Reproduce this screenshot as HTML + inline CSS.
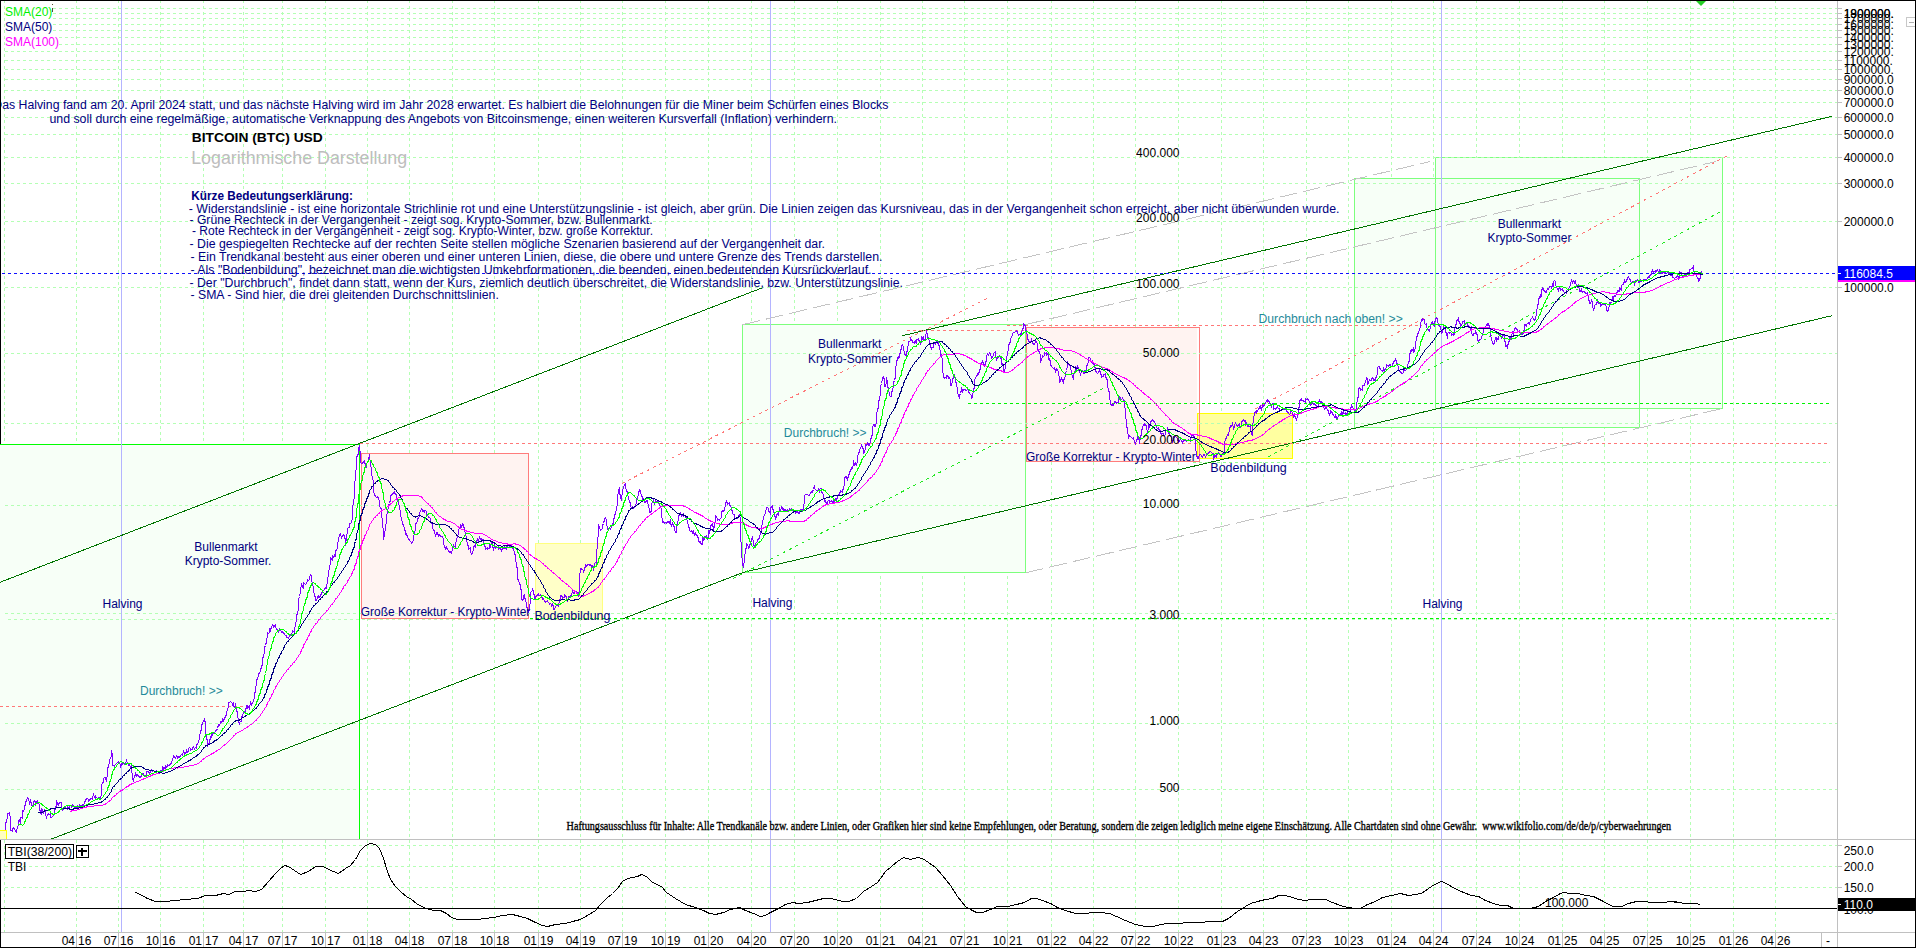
<!DOCTYPE html>
<html lang="de"><head><meta charset="utf-8"><title>BITCOIN (BTC) USD - Logarithmische Darstellung</title>
<style>
html,body{margin:0;padding:0;background:#fff;}
body{width:1916px;height:948px;overflow:hidden;}
svg{display:block;}
text{font-family:"Liberation Sans",Arial,sans-serif;font-size:12px;}
.n{fill:#00007f;}
.t{fill:#1f8a9a;}
.k{fill:#000;}
.ser{font-family:"Liberation Serif","Times New Roman",serif;font-size:13px;stroke:#000;stroke-width:0.35px;}
.g{stroke:#b4ffb4;stroke-width:1;stroke-dasharray:3 3;shape-rendering:crispEdges;fill:none;}
.ce{shape-rendering:crispEdges;}
</style></head><body>
<svg width="1916" height="948" viewBox="0 0 1916 948">
<rect x="0" y="0" width="1916" height="948" fill="#fff"/>
<g class="g">
<line x1="4.5" y1="0" x2="4.5" y2="932"/>
<line x1="76.5" y1="0" x2="76.5" y2="932"/>
<line x1="118.5" y1="0" x2="118.5" y2="932"/>
<line x1="160.5" y1="0" x2="160.5" y2="932"/>
<line x1="203.5" y1="0" x2="203.5" y2="932"/>
<line x1="243.5" y1="0" x2="243.5" y2="932"/>
<line x1="282.5" y1="0" x2="282.5" y2="932"/>
<line x1="325.5" y1="0" x2="325.5" y2="932"/>
<line x1="367.5" y1="0" x2="367.5" y2="932"/>
<line x1="409.5" y1="0" x2="409.5" y2="932"/>
<line x1="452.5" y1="0" x2="452.5" y2="932"/>
<line x1="494.5" y1="0" x2="494.5" y2="932"/>
<line x1="538.5" y1="0" x2="538.5" y2="932"/>
<line x1="580.5" y1="0" x2="580.5" y2="932"/>
<line x1="622.5" y1="0" x2="622.5" y2="932"/>
<line x1="665.5" y1="0" x2="665.5" y2="932"/>
<line x1="708.5" y1="0" x2="708.5" y2="932"/>
<line x1="751.5" y1="0" x2="751.5" y2="932"/>
<line x1="794.5" y1="0" x2="794.5" y2="932"/>
<line x1="837.5" y1="0" x2="837.5" y2="932"/>
<line x1="880.5" y1="0" x2="880.5" y2="932"/>
<line x1="922.5" y1="0" x2="922.5" y2="932"/>
<line x1="964.5" y1="0" x2="964.5" y2="932"/>
<line x1="1007.5" y1="0" x2="1007.5" y2="932"/>
<line x1="1051.5" y1="0" x2="1051.5" y2="932"/>
<line x1="1093.5" y1="0" x2="1093.5" y2="932"/>
<line x1="1135.5" y1="0" x2="1135.5" y2="932"/>
<line x1="1178.5" y1="0" x2="1178.5" y2="932"/>
<line x1="1221.5" y1="0" x2="1221.5" y2="932"/>
<line x1="1263.5" y1="0" x2="1263.5" y2="932"/>
<line x1="1306.5" y1="0" x2="1306.5" y2="932"/>
<line x1="1348.5" y1="0" x2="1348.5" y2="932"/>
<line x1="1391.5" y1="0" x2="1391.5" y2="932"/>
<line x1="1433.5" y1="0" x2="1433.5" y2="932"/>
<line x1="1476.5" y1="0" x2="1476.5" y2="932"/>
<line x1="1519.5" y1="0" x2="1519.5" y2="932"/>
<line x1="1562.5" y1="0" x2="1562.5" y2="932"/>
<line x1="1604.5" y1="0" x2="1604.5" y2="932"/>
<line x1="1647.5" y1="0" x2="1647.5" y2="932"/>
<line x1="1690.5" y1="0" x2="1690.5" y2="932"/>
<line x1="1733.5" y1="0" x2="1733.5" y2="932"/>
<line x1="1775.5" y1="0" x2="1775.5" y2="932"/>
</g>
<rect class="ce" x="0" y="444" width="360" height="395" fill="#f7fff7"/>
<rect class="ce" x="1354" y="178" width="286" height="250" fill="#f7fff7"/>
<rect class="ce" x="1435" y="157" width="288" height="252" fill="#f7fff7"/>
<rect class="ce" x="1354.5" y="178.5" width="285" height="249" fill="none" stroke="#7dff7d" stroke-width="1"/>
<rect class="ce" x="1435.5" y="157.5" width="287" height="251" fill="none" stroke="#7dff7d" stroke-width="1"/>
<rect class="ce" x="742.5" y="324.5" width="283" height="248" fill="#f7fff7" stroke="#7dff7d" stroke-width="1"/>
<rect class="ce" x="361.5" y="453.5" width="167" height="165" fill="#fff3f1" stroke="#ff7c7c" stroke-width="1"/>
<rect class="ce" x="535.5" y="543.5" width="67" height="76" fill="#ffffc8" stroke="#ffff80" stroke-width="1"/>
<rect class="ce" x="1197.5" y="413.5" width="95" height="45" fill="#ffffa0" stroke="#ffff00" stroke-width="1"/>
<rect class="ce" x="1026" y="327" width="171" height="135" fill="#fff3f1"/>
<rect class="ce" x="1026.5" y="327.5" width="173" height="134" fill="none" stroke="#ff7c7c" stroke-width="1"/>
<path class="ce" d="M0 830.5H6.5V839H0Z" fill="#ffffc0"/><path class="ce" d="M0 830.5H6.5V839" fill="none" stroke="#ffff00"/>
<g class="g">
<line x1="5" y1="8.5" x2="1837" y2="8.5"/>
<line x1="5" y1="13.5" x2="1837" y2="13.5"/>
<line x1="5" y1="18.5" x2="1837" y2="18.5"/>
<line x1="5" y1="24.5" x2="1837" y2="24.5"/>
<line x1="5" y1="30.5" x2="1837" y2="30.5"/>
<line x1="5" y1="37.5" x2="1837" y2="37.5"/>
<line x1="5" y1="44.5" x2="1837" y2="44.5"/>
<line x1="5" y1="51.5" x2="1837" y2="51.5"/>
<line x1="5" y1="60.5" x2="1837" y2="60.5"/>
<line x1="5" y1="69.5" x2="1837" y2="69.5"/>
<line x1="5" y1="79.5" x2="1837" y2="79.5"/>
<line x1="5" y1="90.5" x2="1837" y2="90.5"/>
<line x1="5" y1="102.5" x2="1837" y2="102.5"/>
<line x1="5" y1="117.5" x2="1837" y2="117.5"/>
<line x1="5" y1="134.5" x2="1837" y2="134.5"/>
<line x1="5" y1="157.5" x2="1837" y2="157.5"/>
<line x1="5" y1="183.5" x2="1837" y2="183.5"/>
<line x1="5" y1="221.5" x2="1837" y2="221.5"/>
<line x1="5" y1="287.5" x2="1837" y2="287.5"/>
<line x1="5" y1="353.5" x2="1837" y2="353.5"/>
<line x1="5" y1="423.5" x2="1837" y2="423.5"/>
<line x1="5" y1="505.5" x2="1837" y2="505.5"/>
<line x1="5" y1="613.5" x2="1837" y2="613.5"/>
<line x1="5" y1="723.5" x2="1837" y2="723.5"/>
<line x1="5" y1="789.5" x2="1837" y2="789.5"/>
<line x1="5" y1="845.5" x2="1837" y2="845.5"/>
<line x1="5" y1="866.5" x2="1837" y2="866.5"/>
<line x1="5" y1="887.5" x2="1837" y2="887.5"/>
</g>
<path class="ce" d="M0 444.5H360" stroke="#00ff00" stroke-width="1" fill="none"/>
<path class="ce" d="M359.5 444V839" stroke="#00ff00" stroke-width="1" fill="none"/>
<line class="ce" x1="121.5" y1="1" x2="121.5" y2="932" stroke="#b4b4ff" stroke-width="1"/>
<line class="ce" x1="770.5" y1="1" x2="770.5" y2="932" stroke="#b4b4ff" stroke-width="1"/>
<line class="ce" x1="1441.5" y1="1" x2="1441.5" y2="932" stroke="#b4b4ff" stroke-width="1"/>
<line x1="0" y1="582.3" x2="761.8" y2="288" stroke="#007400" stroke-width="1" shape-rendering="crispEdges"/>
<line x1="51.5" y1="839" x2="743.3" y2="572.4" stroke="#007400" stroke-width="1" shape-rendering="crispEdges"/>
<line x1="902" y1="335.8" x2="1832" y2="116.3" stroke="#007400" stroke-width="1" shape-rendering="crispEdges"/>
<line x1="743.3" y1="572.4" x2="1832" y2="315.7" stroke="#007400" stroke-width="1" shape-rendering="crispEdges"/>
<line x1="742.5" y1="324.7" x2="1430" y2="161.5" stroke="#c4c4c4" stroke-width="1" stroke-dasharray="18 6" shape-rendering="crispEdges"/>
<line x1="1026" y1="324.5" x2="1716" y2="161.5" stroke="#c4c4c4" stroke-width="1" stroke-dasharray="18 6" shape-rendering="crispEdges"/>
<line x1="1026" y1="572.7" x2="1722.5" y2="408.4" stroke="#c4c4c4" stroke-width="1" stroke-dasharray="18 6" shape-rendering="crispEdges"/>
<line x1="0" y1="706.5" x2="246" y2="706.5" stroke="#ff7878" stroke-width="1" stroke-dasharray="3 3" shape-rendering="crispEdges"/>
<line x1="360" y1="443.5" x2="1830" y2="443.5" stroke="#ff7878" stroke-width="1" stroke-dasharray="3 3" shape-rendering="crispEdges"/>
<line x1="907" y1="330.5" x2="1024" y2="330.5" stroke="#ff7878" stroke-width="1" stroke-dasharray="3 3" shape-rendering="crispEdges"/>
<line x1="1007" y1="325.5" x2="1422" y2="325.5" stroke="#ff7878" stroke-width="1" stroke-dasharray="3 3" shape-rendering="crispEdges"/>
<line x1="621.8" y1="483.5" x2="989" y2="297.5" stroke="#ff7878" stroke-width="1" stroke-dasharray="3 4" shape-rendering="crispEdges"/>
<line x1="1255" y1="409" x2="1727" y2="155.8" stroke="#ff7878" stroke-width="1" stroke-dasharray="3 4" shape-rendering="crispEdges"/>
<line x1="733" y1="578.5" x2="1108" y2="386" stroke="#22e822" stroke-width="1" stroke-dasharray="3 4" shape-rendering="crispEdges"/>
<line x1="1268" y1="457" x2="1722.5" y2="210.6" stroke="#22e822" stroke-width="1" stroke-dasharray="3 4" shape-rendering="crispEdges"/>
<line x1="967.8" y1="403.5" x2="1830" y2="403.5" stroke="#00f400" stroke-width="1" stroke-dasharray="3 3" shape-rendering="crispEdges"/>
<line x1="530" y1="618.5" x2="1830" y2="618.5" stroke="#00f400" stroke-width="1" stroke-dasharray="3 3" shape-rendering="crispEdges"/>
<line x1="5" y1="619.5" x2="1837" y2="619.5" stroke="#b4ffb4" stroke-width="1" stroke-dasharray="3 3" shape-rendering="crispEdges" stroke-dashoffset="3"/>
<line x1="1193" y1="462.5" x2="1830" y2="462.5" stroke="#8cff8c" stroke-width="1" stroke-dasharray="3 3" shape-rendering="crispEdges"/>
<line x1="2" y1="273.5" x2="1837" y2="273.5" stroke="#1010ff" stroke-width="1" stroke-dasharray="3 3" shape-rendering="crispEdges"/>
<g fill="none" stroke-width="1" shape-rendering="crispEdges">
<polyline stroke="#7f00ff" points="5.5,829.5 5.5,824.5 6.5,820.5 7.5,817.5 7.5,813.5 8.5,813.5 9.5,812.5 10.5,819.5 10.5,830.5 11.5,830.5 12.5,831.5 12.5,829.5 13.5,827.5 14.5,828.5 15.5,831.5 16.5,832.5 17.5,826.5 18.5,825.5 18.5,820.5 19.5,819.5 20.5,823.5 20.5,817.5 21.5,817.5 22.5,818.5 22.5,810.5 23.5,811.5 24.5,808.5 24.5,805.5 25.5,805.5 25.5,801.5 26.5,801.5 27.5,797.5 28.5,798.5 29.5,803.5 30.5,800.5 31.5,804.5 31.5,805.5 32.5,806.5 33.5,804.5 33.5,801.5 34.5,800.5 35.5,802.5 35.5,805.5 36.5,802.5 37.5,800.5 37.5,803.5 38.5,803.5 39.5,804.5 39.5,808.5 40.5,812.5 41.5,814.5 41.5,808.5 42.5,810.5 43.5,812.5 44.5,810.5 44.5,809.5 45.5,813.5 46.5,818.5 46.5,816.5 47.5,815.5 48.5,813.5 49.5,814.5 50.5,813.5 50.5,817.5 51.5,817.5 52.5,816.5 53.5,815.5 54.5,812.5 54.5,810.5 55.5,808.5 56.5,804.5 56.5,800.5 57.5,803.5 58.5,805.5 58.5,804.5 59.5,802.5 59.5,803.5 60.5,802.5 61.5,802.5 61.5,806.5 62.5,810.5 63.5,809.5 63.5,808.5 64.5,808.5 65.5,806.5 66.5,805.5 67.5,805.5 67.5,809.5 68.5,808.5 69.5,806.5 70.5,805.5 71.5,806.5 71.5,807.5 72.5,804.5 73.5,805.5 74.5,808.5 75.5,807.5 75.5,808.5 76.5,806.5 77.5,805.5 77.5,806.5 78.5,808.5 78.5,807.5 79.5,804.5 80.5,805.5 81.5,805.5 82.5,804.5 82.5,807.5 83.5,805.5 84.5,802.5 85.5,800.5 86.5,798.5 86.5,799.5 87.5,798.5 88.5,799.5 88.5,801.5 89.5,800.5 90.5,798.5 91.5,798.5 92.5,799.5 92.5,797.5 93.5,794.5 94.5,797.5 94.5,796.5 95.5,795.5 95.5,798.5 96.5,797.5 97.5,798.5 98.5,797.5 99.5,797.5 99.5,798.5 100.5,799.5 101.5,793.5 101.5,785.5 102.5,782.5 103.5,782.5 103.5,778.5 104.5,777.5 105.5,777.5 105.5,778.5 106.5,780.5 107.5,774.5 107.5,769.5 108.5,765.5 109.5,762.5 109.5,759.5 110.5,758.5 111.5,755.5 111.5,750.5 112.5,755.5 112.5,765.5 113.5,765.5 114.5,766.5 114.5,765.5 115.5,764.5 116.5,763.5 117.5,762.5 118.5,763.5 118.5,761.5 119.5,762.5 120.5,765.5 120.5,767.5 121.5,763.5 122.5,764.5 122.5,762.5 123.5,763.5 124.5,763.5 124.5,764.5 125.5,763.5 126.5,760.5 127.5,763.5 128.5,763.5 128.5,765.5 129.5,765.5 129.5,764.5 130.5,767.5 131.5,765.5 131.5,766.5 132.5,779.5 133.5,780.5 133.5,781.5 134.5,775.5 135.5,775.5 135.5,772.5 136.5,776.5 137.5,775.5 137.5,774.5 138.5,775.5 139.5,777.5 140.5,777.5 141.5,775.5 141.5,774.5 142.5,773.5 143.5,773.5 143.5,775.5 144.5,775.5 145.5,776.5 145.5,775.5 146.5,774.5 146.5,771.5 147.5,771.5 148.5,771.5 149.5,773.5 150.5,771.5 150.5,770.5 151.5,769.5 152.5,770.5 152.5,771.5 153.5,770.5 154.5,771.5 154.5,772.5 155.5,771.5 156.5,770.5 156.5,772.5 157.5,771.5 158.5,772.5 158.5,773.5 159.5,773.5 160.5,771.5 160.5,770.5 161.5,770.5 162.5,770.5 162.5,766.5 163.5,769.5 163.5,767.5 164.5,768.5 165.5,765.5 165.5,768.5 166.5,766.5 167.5,766.5 167.5,764.5 168.5,765.5 169.5,765.5 169.5,764.5 170.5,764.5 171.5,762.5 172.5,759.5 173.5,756.5 173.5,755.5 174.5,757.5 175.5,758.5 176.5,755.5 177.5,756.5 177.5,758.5 178.5,756.5 179.5,756.5 179.5,757.5 180.5,756.5 180.5,755.5 181.5,754.5 182.5,755.5 182.5,754.5 183.5,751.5 184.5,753.5 184.5,754.5 185.5,752.5 186.5,752.5 186.5,749.5 187.5,752.5 188.5,751.5 188.5,748.5 189.5,747.5 190.5,748.5 190.5,750.5 191.5,749.5 192.5,749.5 192.5,747.5 193.5,746.5 194.5,749.5 194.5,748.5 195.5,747.5 196.5,748.5 196.5,745.5 197.5,743.5 198.5,742.5 199.5,738.5 199.5,737.5 200.5,731.5 201.5,729.5 201.5,726.5 202.5,722.5 203.5,721.5 204.5,718.5 205.5,724.5 205.5,733.5 206.5,736.5 207.5,742.5 207.5,746.5 208.5,743.5 209.5,744.5 209.5,741.5 210.5,737.5 211.5,734.5 211.5,737.5 212.5,734.5 213.5,732.5 213.5,733.5 214.5,733.5 215.5,730.5 216.5,729.5 216.5,730.5 217.5,728.5 218.5,724.5 218.5,726.5 219.5,725.5 220.5,722.5 220.5,721.5 221.5,722.5 222.5,720.5 222.5,718.5 223.5,720.5 224.5,717.5 224.5,719.5 225.5,716.5 226.5,714.5 226.5,711.5 227.5,710.5 228.5,705.5 228.5,702.5 229.5,702.5 230.5,701.5 231.5,702.5 232.5,703.5 232.5,705.5 233.5,702.5 233.5,706.5 234.5,707.5 235.5,704.5 235.5,703.5 236.5,709.5 237.5,713.5 237.5,714.5 238.5,720.5 239.5,724.5 239.5,722.5 240.5,721.5 241.5,721.5 241.5,717.5 242.5,715.5 243.5,712.5 243.5,711.5 244.5,711.5 245.5,712.5 245.5,710.5 246.5,706.5 247.5,708.5 247.5,705.5 248.5,706.5 249.5,709.5 249.5,706.5 250.5,703.5 250.5,701.5 251.5,704.5 252.5,702.5 253.5,701.5 254.5,697.5 254.5,694.5 255.5,690.5 256.5,682.5 256.5,680.5 257.5,678.5 258.5,675.5 258.5,674.5 259.5,672.5 260.5,671.5 260.5,670.5 261.5,666.5 262.5,664.5 262.5,658.5 263.5,656.5 264.5,651.5 264.5,647.5 265.5,645.5 266.5,641.5 266.5,638.5 267.5,637.5 267.5,632.5 268.5,633.5 269.5,632.5 269.5,628.5 270.5,630.5 271.5,626.5 271.5,627.5 272.5,624.5 273.5,625.5 273.5,627.5 274.5,625.5 275.5,624.5 275.5,626.5 276.5,629.5 277.5,629.5 278.5,631.5 279.5,628.5 279.5,630.5 280.5,629.5 281.5,632.5 282.5,631.5 283.5,633.5 283.5,632.5 284.5,634.5 285.5,635.5 286.5,635.5 286.5,637.5 287.5,637.5 288.5,638.5 289.5,635.5 290.5,635.5 291.5,634.5 292.5,631.5 292.5,630.5 293.5,631.5 294.5,632.5 294.5,628.5 295.5,625.5 296.5,619.5 296.5,616.5 297.5,612.5 298.5,609.5 298.5,599.5 299.5,596.5 300.5,592.5 300.5,589.5 301.5,584.5 302.5,586.5 303.5,588.5 303.5,582.5 304.5,583.5 305.5,584.5 306.5,583.5 307.5,580.5 307.5,579.5 308.5,580.5 309.5,579.5 309.5,577.5 310.5,574.5 311.5,575.5 311.5,579.5 312.5,584.5 313.5,587.5 313.5,590.5 314.5,595.5 315.5,597.5 315.5,600.5 316.5,600.5 317.5,597.5 318.5,595.5 318.5,597.5 319.5,597.5 320.5,595.5 321.5,593.5 322.5,591.5 322.5,590.5 323.5,590.5 324.5,589.5 325.5,587.5 326.5,588.5 326.5,587.5 327.5,580.5 328.5,573.5 328.5,571.5 329.5,568.5 330.5,561.5 330.5,557.5 331.5,558.5 332.5,560.5 332.5,555.5 333.5,557.5 334.5,556.5 334.5,554.5 335.5,556.5 335.5,551.5 336.5,549.5 337.5,548.5 337.5,544.5 338.5,539.5 339.5,534.5 340.5,533.5 341.5,538.5 341.5,537.5 342.5,535.5 343.5,534.5 344.5,536.5 345.5,540.5 345.5,545.5 346.5,537.5 347.5,531.5 347.5,528.5 348.5,527.5 349.5,527.5 349.5,523.5 350.5,523.5 351.5,522.5 352.5,517.5 352.5,509.5 353.5,501.5 354.5,496.5 354.5,485.5 355.5,476.5 356.5,464.5 356.5,457.5 357.5,455.5 358.5,453.5 358.5,448.5 359.5,446.5 360.5,454.5 360.5,462.5 361.5,463.5 362.5,463.5 362.5,462.5 363.5,462.5 364.5,460.5 364.5,462.5 365.5,464.5 366.5,467.5 366.5,464.5 367.5,461.5 368.5,461.5 368.5,459.5 369.5,454.5 369.5,456.5 370.5,463.5 371.5,470.5 371.5,473.5 372.5,478.5 373.5,481.5 373.5,491.5 374.5,494.5 375.5,496.5 376.5,497.5 377.5,497.5 377.5,496.5 378.5,498.5 379.5,501.5 379.5,506.5 380.5,507.5 381.5,509.5 381.5,514.5 382.5,521.5 383.5,533.5 383.5,539.5 384.5,534.5 385.5,528.5 385.5,527.5 386.5,521.5 386.5,516.5 387.5,511.5 388.5,506.5 388.5,505.5 389.5,503.5 390.5,499.5 390.5,495.5 391.5,495.5 392.5,493.5 392.5,494.5 393.5,492.5 394.5,491.5 394.5,493.5 395.5,493.5 396.5,495.5 396.5,496.5 397.5,499.5 398.5,501.5 398.5,503.5 399.5,506.5 400.5,513.5 400.5,514.5 401.5,519.5 402.5,522.5 403.5,526.5 404.5,527.5 404.5,530.5 405.5,530.5 405.5,534.5 406.5,533.5 407.5,537.5 408.5,538.5 409.5,540.5 410.5,541.5 411.5,542.5 411.5,543.5 412.5,541.5 413.5,540.5 413.5,537.5 414.5,532.5 415.5,529.5 415.5,523.5 416.5,523.5 417.5,520.5 417.5,518.5 418.5,518.5 419.5,515.5 419.5,513.5 420.5,510.5 421.5,509.5 421.5,508.5 422.5,509.5 422.5,511.5 423.5,510.5 424.5,512.5 424.5,510.5 425.5,510.5 426.5,511.5 426.5,514.5 427.5,515.5 428.5,516.5 428.5,517.5 429.5,517.5 430.5,518.5 430.5,522.5 431.5,522.5 432.5,524.5 432.5,528.5 433.5,529.5 434.5,531.5 435.5,536.5 436.5,532.5 437.5,532.5 438.5,536.5 439.5,535.5 439.5,534.5 440.5,536.5 441.5,536.5 442.5,536.5 443.5,539.5 443.5,543.5 444.5,546.5 445.5,548.5 445.5,549.5 446.5,547.5 447.5,549.5 448.5,550.5 449.5,552.5 449.5,551.5 450.5,551.5 451.5,553.5 451.5,552.5 452.5,549.5 453.5,544.5 453.5,546.5 454.5,546.5 455.5,547.5 455.5,543.5 456.5,540.5 456.5,538.5 457.5,537.5 458.5,532.5 458.5,530.5 459.5,527.5 460.5,527.5 460.5,524.5 461.5,526.5 462.5,524.5 462.5,523.5 463.5,525.5 464.5,529.5 465.5,534.5 466.5,537.5 466.5,539.5 467.5,544.5 468.5,546.5 468.5,549.5 469.5,548.5 470.5,547.5 470.5,551.5 471.5,554.5 472.5,553.5 472.5,552.5 473.5,549.5 473.5,546.5 474.5,545.5 475.5,547.5 475.5,542.5 476.5,541.5 477.5,538.5 477.5,540.5 478.5,541.5 479.5,537.5 480.5,539.5 481.5,539.5 481.5,538.5 482.5,539.5 483.5,539.5 483.5,544.5 484.5,544.5 485.5,548.5 485.5,549.5 486.5,548.5 487.5,547.5 487.5,549.5 488.5,548.5 489.5,548.5 489.5,544.5 490.5,547.5 490.5,545.5 491.5,542.5 492.5,544.5 492.5,545.5 493.5,549.5 494.5,546.5 494.5,543.5 495.5,548.5 496.5,547.5 496.5,546.5 497.5,545.5 498.5,545.5 498.5,549.5 499.5,548.5 500.5,548.5 501.5,550.5 502.5,548.5 503.5,548.5 504.5,548.5 504.5,546.5 505.5,547.5 506.5,549.5 506.5,547.5 507.5,545.5 507.5,544.5 508.5,545.5 509.5,545.5 509.5,546.5 510.5,546.5 511.5,544.5 511.5,547.5 512.5,548.5 513.5,548.5 513.5,549.5 514.5,552.5 515.5,556.5 515.5,558.5 516.5,564.5 517.5,570.5 517.5,578.5 518.5,580.5 519.5,583.5 520.5,585.5 521.5,593.5 521.5,599.5 522.5,600.5 523.5,598.5 523.5,595.5 524.5,594.5 524.5,596.5 525.5,600.5 526.5,603.5 526.5,605.5 527.5,609.5 528.5,611.5 528.5,612.5 529.5,609.5 530.5,599.5 530.5,592.5 531.5,591.5 532.5,590.5 532.5,588.5 533.5,591.5 534.5,597.5 534.5,599.5 535.5,597.5 536.5,595.5 537.5,595.5 538.5,593.5 538.5,595.5 539.5,595.5 540.5,595.5 540.5,594.5 541.5,595.5 542.5,599.5 543.5,598.5 543.5,599.5 544.5,600.5 545.5,602.5 546.5,601.5 547.5,600.5 547.5,601.5 548.5,602.5 549.5,603.5 549.5,604.5 550.5,603.5 551.5,604.5 551.5,606.5 552.5,604.5 553.5,606.5 553.5,609.5 554.5,609.5 555.5,606.5 555.5,607.5 556.5,604.5 557.5,604.5 557.5,605.5 558.5,606.5 559.5,599.5 560.5,600.5 560.5,595.5 561.5,595.5 562.5,598.5 562.5,596.5 563.5,597.5 564.5,597.5 564.5,594.5 565.5,596.5 566.5,596.5 566.5,598.5 567.5,600.5 568.5,598.5 568.5,596.5 569.5,596.5 570.5,596.5 570.5,597.5 571.5,593.5 572.5,592.5 572.5,590.5 573.5,593.5 574.5,593.5 574.5,591.5 575.5,591.5 576.5,591.5 577.5,592.5 577.5,593.5 578.5,596.5 579.5,588.5 579.5,577.5 580.5,568.5 581.5,568.5 581.5,569.5 582.5,569.5 583.5,570.5 583.5,572.5 584.5,568.5 585.5,566.5 585.5,564.5 586.5,566.5 587.5,565.5 587.5,564.5 588.5,564.5 589.5,565.5 589.5,564.5 590.5,564.5 591.5,567.5 591.5,565.5 592.5,565.5 593.5,570.5 593.5,567.5 594.5,564.5 594.5,563.5 595.5,562.5 596.5,563.5 596.5,555.5 597.5,543.5 598.5,530.5 598.5,524.5 599.5,527.5 600.5,530.5 601.5,529.5 602.5,528.5 602.5,525.5 603.5,523.5 604.5,519.5 604.5,518.5 605.5,517.5 606.5,520.5 606.5,523.5 607.5,528.5 608.5,530.5 608.5,528.5 609.5,528.5 610.5,529.5 610.5,528.5 611.5,527.5 611.5,526.5 612.5,524.5 613.5,522.5 613.5,520.5 614.5,516.5 615.5,512.5 616.5,509.5 617.5,502.5 617.5,496.5 618.5,491.5 619.5,487.5 619.5,492.5 620.5,496.5 621.5,500.5 621.5,497.5 622.5,492.5 623.5,486.5 624.5,485.5 625.5,483.5 625.5,485.5 626.5,491.5 627.5,491.5 627.5,493.5 628.5,498.5 628.5,499.5 629.5,500.5 630.5,504.5 630.5,506.5 631.5,507.5 632.5,506.5 632.5,508.5 633.5,508.5 634.5,507.5 635.5,505.5 636.5,502.5 636.5,501.5 637.5,496.5 638.5,495.5 638.5,493.5 639.5,489.5 640.5,490.5 640.5,493.5 641.5,494.5 642.5,498.5 642.5,499.5 643.5,498.5 644.5,500.5 644.5,502.5 645.5,502.5 646.5,500.5 647.5,500.5 647.5,502.5 648.5,505.5 649.5,510.5 649.5,512.5 650.5,512.5 651.5,510.5 651.5,503.5 652.5,502.5 653.5,499.5 653.5,501.5 654.5,503.5 655.5,500.5 656.5,501.5 657.5,500.5 657.5,501.5 658.5,501.5 659.5,505.5 659.5,504.5 660.5,507.5 661.5,508.5 661.5,514.5 662.5,521.5 662.5,522.5 663.5,521.5 664.5,523.5 664.5,522.5 665.5,522.5 666.5,523.5 667.5,521.5 668.5,521.5 668.5,522.5 669.5,523.5 670.5,519.5 670.5,523.5 671.5,525.5 672.5,523.5 672.5,522.5 673.5,526.5 674.5,526.5 674.5,529.5 675.5,532.5 676.5,532.5 676.5,528.5 677.5,523.5 678.5,518.5 678.5,515.5 679.5,515.5 679.5,513.5 680.5,512.5 681.5,516.5 681.5,515.5 682.5,515.5 683.5,513.5 683.5,516.5 684.5,515.5 685.5,516.5 686.5,518.5 687.5,521.5 687.5,522.5 688.5,525.5 689.5,529.5 689.5,530.5 690.5,531.5 691.5,531.5 691.5,530.5 692.5,532.5 693.5,530.5 693.5,532.5 694.5,534.5 695.5,532.5 695.5,534.5 696.5,534.5 697.5,536.5 698.5,538.5 698.5,540.5 699.5,542.5 700.5,541.5 700.5,542.5 701.5,544.5 702.5,544.5 702.5,537.5 703.5,539.5 704.5,536.5 704.5,539.5 705.5,536.5 706.5,535.5 706.5,536.5 707.5,538.5 708.5,536.5 708.5,530.5 709.5,532.5 710.5,528.5 710.5,526.5 711.5,524.5 712.5,523.5 712.5,525.5 713.5,527.5 713.5,529.5 714.5,525.5 715.5,518.5 715.5,515.5 716.5,516.5 717.5,519.5 717.5,520.5 718.5,519.5 719.5,520.5 719.5,519.5 720.5,518.5 721.5,517.5 721.5,512.5 722.5,510.5 723.5,510.5 723.5,511.5 724.5,510.5 725.5,504.5 726.5,500.5 727.5,504.5 727.5,503.5 728.5,503.5 729.5,502.5 729.5,505.5 730.5,505.5 731.5,508.5 731.5,509.5 732.5,511.5 732.5,513.5 733.5,514.5 734.5,514.5 734.5,517.5 735.5,518.5 736.5,517.5 736.5,518.5 737.5,518.5 738.5,515.5 739.5,514.5 740.5,519.5 740.5,528.5 741.5,555.5 742.5,560.5 742.5,564.5 743.5,566.5 744.5,560.5 744.5,558.5 745.5,549.5 746.5,547.5 746.5,543.5 747.5,544.5 748.5,547.5 748.5,548.5 749.5,546.5 749.5,544.5 750.5,544.5 751.5,540.5 751.5,539.5 752.5,537.5 753.5,542.5 753.5,544.5 754.5,546.5 755.5,544.5 755.5,543.5 756.5,542.5 757.5,541.5 757.5,540.5 758.5,538.5 759.5,537.5 759.5,538.5 760.5,532.5 761.5,529.5 761.5,526.5 762.5,523.5 763.5,517.5 763.5,516.5 764.5,515.5 765.5,512.5 765.5,510.5 766.5,509.5 766.5,507.5 767.5,507.5 768.5,508.5 768.5,511.5 769.5,511.5 770.5,514.5 770.5,507.5 771.5,507.5 772.5,505.5 772.5,509.5 773.5,509.5 774.5,515.5 774.5,514.5 775.5,518.5 776.5,516.5 776.5,514.5 777.5,513.5 778.5,515.5 778.5,513.5 779.5,508.5 780.5,511.5 780.5,510.5 781.5,507.5 782.5,509.5 782.5,507.5 783.5,509.5 783.5,510.5 784.5,509.5 785.5,511.5 785.5,509.5 786.5,510.5 787.5,509.5 788.5,511.5 789.5,510.5 789.5,508.5 790.5,509.5 791.5,508.5 791.5,509.5 792.5,510.5 793.5,511.5 794.5,510.5 795.5,511.5 795.5,513.5 796.5,511.5 797.5,511.5 798.5,513.5 799.5,513.5 799.5,511.5 800.5,511.5 800.5,509.5 801.5,509.5 802.5,510.5 802.5,511.5 803.5,507.5 804.5,501.5 804.5,495.5 805.5,494.5 806.5,494.5 807.5,494.5 808.5,495.5 809.5,495.5 810.5,492.5 810.5,493.5 811.5,491.5 812.5,490.5 812.5,492.5 813.5,489.5 814.5,485.5 814.5,488.5 815.5,489.5 816.5,490.5 817.5,491.5 818.5,489.5 819.5,492.5 819.5,489.5 820.5,488.5 821.5,488.5 821.5,491.5 822.5,493.5 823.5,494.5 823.5,497.5 824.5,500.5 825.5,502.5 825.5,500.5 826.5,504.5 827.5,504.5 827.5,501.5 828.5,500.5 829.5,500.5 829.5,502.5 830.5,501.5 831.5,501.5 831.5,500.5 832.5,502.5 833.5,503.5 833.5,500.5 834.5,500.5 834.5,502.5 835.5,498.5 836.5,499.5 836.5,500.5 837.5,496.5 838.5,495.5 838.5,494.5 839.5,494.5 840.5,490.5 840.5,492.5 841.5,491.5 842.5,492.5 842.5,491.5 843.5,487.5 844.5,484.5 844.5,478.5 845.5,476.5 846.5,476.5 846.5,477.5 847.5,479.5 848.5,475.5 848.5,476.5 849.5,472.5 850.5,469.5 850.5,471.5 851.5,467.5 851.5,468.5 852.5,468.5 853.5,463.5 853.5,460.5 854.5,465.5 855.5,464.5 855.5,462.5 856.5,464.5 857.5,461.5 857.5,456.5 858.5,453.5 859.5,451.5 859.5,449.5 860.5,448.5 861.5,445.5 861.5,444.5 862.5,447.5 863.5,449.5 863.5,453.5 864.5,451.5 865.5,448.5 865.5,444.5 866.5,445.5 867.5,442.5 867.5,444.5 868.5,443.5 868.5,445.5 869.5,445.5 870.5,440.5 871.5,436.5 872.5,434.5 872.5,427.5 873.5,424.5 874.5,424.5 874.5,426.5 875.5,426.5 876.5,421.5 876.5,414.5 877.5,409.5 878.5,407.5 878.5,402.5 879.5,398.5 880.5,393.5 880.5,386.5 881.5,383.5 882.5,379.5 882.5,377.5 883.5,376.5 884.5,380.5 884.5,386.5 885.5,386.5 886.5,382.5 886.5,377.5 887.5,382.5 887.5,386.5 888.5,388.5 889.5,394.5 889.5,395.5 890.5,396.5 891.5,396.5 891.5,393.5 892.5,389.5 893.5,386.5 893.5,382.5 894.5,380.5 895.5,376.5 895.5,370.5 896.5,362.5 897.5,357.5 897.5,360.5 898.5,356.5 899.5,357.5 899.5,355.5 900.5,351.5 901.5,347.5 901.5,345.5 902.5,344.5 903.5,347.5 903.5,350.5 904.5,351.5 904.5,353.5 905.5,355.5 906.5,356.5 906.5,353.5 907.5,349.5 908.5,343.5 908.5,341.5 909.5,341.5 910.5,340.5 910.5,337.5 911.5,340.5 912.5,340.5 912.5,342.5 913.5,342.5 914.5,341.5 914.5,343.5 915.5,341.5 916.5,343.5 916.5,339.5 917.5,339.5 918.5,338.5 918.5,339.5 919.5,341.5 920.5,344.5 920.5,343.5 921.5,341.5 921.5,336.5 922.5,338.5 923.5,336.5 923.5,339.5 924.5,340.5 925.5,338.5 925.5,336.5 926.5,331.5 927.5,334.5 927.5,335.5 928.5,339.5 929.5,340.5 929.5,343.5 930.5,345.5 931.5,349.5 931.5,348.5 932.5,347.5 933.5,347.5 933.5,344.5 934.5,343.5 935.5,342.5 935.5,344.5 936.5,341.5 937.5,343.5 937.5,340.5 938.5,341.5 938.5,344.5 939.5,346.5 940.5,352.5 940.5,355.5 941.5,354.5 942.5,360.5 942.5,368.5 943.5,376.5 944.5,378.5 945.5,377.5 946.5,378.5 946.5,375.5 947.5,375.5 948.5,377.5 948.5,378.5 949.5,377.5 950.5,380.5 950.5,385.5 951.5,385.5 952.5,381.5 952.5,379.5 953.5,377.5 954.5,374.5 954.5,375.5 955.5,378.5 955.5,381.5 956.5,383.5 957.5,389.5 957.5,392.5 958.5,395.5 959.5,398.5 959.5,395.5 960.5,393.5 961.5,389.5 961.5,387.5 962.5,391.5 963.5,389.5 964.5,389.5 965.5,389.5 965.5,390.5 966.5,390.5 967.5,389.5 967.5,387.5 968.5,391.5 969.5,393.5 970.5,394.5 971.5,395.5 971.5,398.5 972.5,397.5 972.5,395.5 973.5,390.5 974.5,386.5 974.5,379.5 975.5,378.5 976.5,375.5 976.5,376.5 977.5,374.5 978.5,372.5 978.5,374.5 979.5,370.5 980.5,368.5 980.5,366.5 981.5,363.5 982.5,361.5 983.5,363.5 984.5,365.5 984.5,366.5 985.5,362.5 986.5,360.5 986.5,356.5 987.5,353.5 988.5,354.5 988.5,355.5 989.5,352.5 989.5,353.5 990.5,353.5 991.5,358.5 991.5,357.5 992.5,357.5 993.5,354.5 993.5,353.5 994.5,352.5 995.5,351.5 995.5,356.5 996.5,359.5 997.5,357.5 997.5,358.5 998.5,357.5 999.5,355.5 999.5,356.5 1000.5,356.5 1001.5,360.5 1001.5,364.5 1002.5,363.5 1003.5,365.5 1003.5,370.5 1004.5,371.5 1005.5,367.5 1005.5,363.5 1006.5,360.5 1006.5,357.5 1007.5,354.5 1008.5,347.5 1008.5,346.5 1009.5,342.5 1010.5,342.5 1010.5,339.5 1011.5,336.5 1012.5,335.5 1012.5,333.5 1013.5,332.5 1014.5,332.5 1015.5,331.5 1016.5,330.5 1017.5,332.5 1018.5,335.5 1018.5,334.5 1019.5,334.5 1020.5,333.5 1020.5,334.5 1021.5,334.5 1022.5,328.5 1022.5,329.5 1023.5,327.5 1023.5,323.5 1024.5,324.5 1025.5,326.5 1025.5,330.5 1026.5,330.5 1027.5,337.5 1027.5,338.5 1028.5,340.5 1029.5,342.5 1029.5,341.5 1030.5,341.5 1031.5,341.5 1031.5,338.5 1032.5,343.5 1033.5,343.5 1033.5,344.5 1034.5,344.5 1035.5,341.5 1035.5,340.5 1036.5,341.5 1037.5,344.5 1037.5,349.5 1038.5,350.5 1039.5,352.5 1040.5,355.5 1040.5,362.5 1041.5,359.5 1042.5,356.5 1042.5,355.5 1043.5,356.5 1044.5,355.5 1044.5,352.5 1045.5,353.5 1046.5,352.5 1046.5,355.5 1047.5,353.5 1048.5,354.5 1048.5,359.5 1049.5,358.5 1050.5,362.5 1050.5,364.5 1051.5,366.5 1052.5,367.5 1053.5,368.5 1054.5,368.5 1054.5,367.5 1055.5,371.5 1056.5,369.5 1056.5,368.5 1057.5,370.5 1058.5,371.5 1058.5,374.5 1059.5,377.5 1059.5,382.5 1060.5,381.5 1061.5,377.5 1061.5,378.5 1062.5,380.5 1063.5,383.5 1063.5,381.5 1064.5,377.5 1065.5,376.5 1065.5,373.5 1066.5,370.5 1067.5,366.5 1067.5,361.5 1068.5,364.5 1069.5,365.5 1070.5,366.5 1071.5,372.5 1071.5,374.5 1072.5,375.5 1073.5,379.5 1073.5,373.5 1074.5,373.5 1075.5,369.5 1075.5,366.5 1076.5,367.5 1076.5,369.5 1077.5,366.5 1078.5,368.5 1078.5,370.5 1079.5,370.5 1080.5,375.5 1080.5,374.5 1081.5,371.5 1082.5,371.5 1082.5,370.5 1083.5,372.5 1084.5,370.5 1084.5,373.5 1085.5,372.5 1086.5,368.5 1086.5,365.5 1087.5,365.5 1088.5,360.5 1088.5,357.5 1089.5,357.5 1090.5,358.5 1090.5,360.5 1091.5,361.5 1092.5,363.5 1092.5,360.5 1093.5,363.5 1093.5,362.5 1094.5,366.5 1095.5,368.5 1095.5,370.5 1096.5,372.5 1097.5,373.5 1098.5,372.5 1099.5,370.5 1099.5,369.5 1100.5,372.5 1101.5,376.5 1101.5,377.5 1102.5,376.5 1103.5,376.5 1103.5,374.5 1104.5,374.5 1105.5,373.5 1105.5,375.5 1106.5,379.5 1107.5,379.5 1107.5,386.5 1108.5,389.5 1109.5,393.5 1109.5,397.5 1110.5,402.5 1110.5,403.5 1111.5,405.5 1112.5,404.5 1112.5,405.5 1113.5,405.5 1114.5,401.5 1114.5,402.5 1115.5,401.5 1116.5,403.5 1116.5,402.5 1117.5,402.5 1118.5,402.5 1118.5,397.5 1119.5,396.5 1120.5,398.5 1121.5,399.5 1122.5,398.5 1122.5,397.5 1123.5,400.5 1124.5,400.5 1124.5,402.5 1125.5,412.5 1126.5,425.5 1126.5,426.5 1127.5,428.5 1127.5,429.5 1128.5,437.5 1129.5,435.5 1130.5,436.5 1131.5,437.5 1132.5,438.5 1133.5,437.5 1133.5,438.5 1134.5,441.5 1135.5,443.5 1136.5,440.5 1137.5,438.5 1137.5,434.5 1138.5,438.5 1139.5,440.5 1139.5,443.5 1140.5,436.5 1141.5,434.5 1141.5,431.5 1142.5,427.5 1143.5,424.5 1144.5,425.5 1144.5,423.5 1145.5,424.5 1146.5,426.5 1146.5,428.5 1147.5,431.5 1148.5,428.5 1148.5,424.5 1149.5,426.5 1150.5,421.5 1150.5,422.5 1151.5,420.5 1152.5,420.5 1152.5,419.5 1153.5,421.5 1154.5,421.5 1155.5,424.5 1156.5,427.5 1157.5,428.5 1158.5,427.5 1158.5,428.5 1159.5,430.5 1160.5,430.5 1160.5,433.5 1161.5,433.5 1161.5,434.5 1162.5,433.5 1163.5,433.5 1163.5,435.5 1164.5,435.5 1165.5,434.5 1165.5,431.5 1166.5,430.5 1167.5,430.5 1167.5,427.5 1168.5,432.5 1169.5,434.5 1169.5,435.5 1170.5,435.5 1171.5,438.5 1171.5,439.5 1172.5,441.5 1173.5,439.5 1173.5,436.5 1174.5,437.5 1175.5,436.5 1176.5,437.5 1177.5,438.5 1177.5,439.5 1178.5,441.5 1178.5,442.5 1179.5,440.5 1180.5,439.5 1181.5,440.5 1182.5,442.5 1182.5,443.5 1183.5,439.5 1184.5,440.5 1185.5,440.5 1186.5,441.5 1187.5,440.5 1188.5,439.5 1189.5,440.5 1190.5,441.5 1190.5,438.5 1191.5,435.5 1192.5,435.5 1192.5,434.5 1193.5,436.5 1194.5,436.5 1194.5,438.5 1195.5,438.5 1195.5,447.5 1196.5,454.5 1197.5,458.5 1197.5,457.5 1198.5,458.5 1199.5,454.5 1200.5,454.5 1201.5,455.5 1201.5,456.5 1202.5,457.5 1203.5,454.5 1203.5,455.5 1204.5,454.5 1205.5,457.5 1205.5,456.5 1206.5,455.5 1207.5,453.5 1208.5,453.5 1209.5,451.5 1209.5,452.5 1210.5,451.5 1211.5,452.5 1212.5,453.5 1213.5,453.5 1213.5,459.5 1214.5,455.5 1214.5,454.5 1215.5,456.5 1216.5,457.5 1216.5,455.5 1217.5,453.5 1218.5,452.5 1218.5,453.5 1219.5,453.5 1220.5,454.5 1220.5,456.5 1221.5,456.5 1222.5,453.5 1223.5,453.5 1224.5,450.5 1224.5,443.5 1225.5,438.5 1226.5,438.5 1227.5,434.5 1228.5,435.5 1228.5,434.5 1229.5,429.5 1230.5,425.5 1231.5,425.5 1231.5,426.5 1232.5,423.5 1233.5,428.5 1233.5,429.5 1234.5,425.5 1235.5,422.5 1235.5,423.5 1236.5,424.5 1237.5,426.5 1238.5,425.5 1239.5,423.5 1239.5,427.5 1240.5,427.5 1241.5,424.5 1241.5,422.5 1242.5,420.5 1243.5,420.5 1243.5,419.5 1244.5,421.5 1245.5,420.5 1245.5,425.5 1246.5,423.5 1247.5,426.5 1247.5,425.5 1248.5,426.5 1248.5,425.5 1249.5,426.5 1250.5,425.5 1250.5,427.5 1251.5,433.5 1252.5,435.5 1252.5,426.5 1253.5,419.5 1254.5,412.5 1254.5,413.5 1255.5,411.5 1256.5,410.5 1256.5,413.5 1257.5,410.5 1258.5,409.5 1259.5,407.5 1260.5,405.5 1260.5,407.5 1261.5,409.5 1262.5,404.5 1262.5,407.5 1263.5,406.5 1264.5,404.5 1264.5,405.5 1265.5,402.5 1265.5,403.5 1266.5,400.5 1267.5,399.5 1267.5,401.5 1268.5,400.5 1269.5,402.5 1269.5,403.5 1270.5,404.5 1271.5,406.5 1272.5,403.5 1273.5,403.5 1273.5,409.5 1274.5,408.5 1275.5,408.5 1275.5,409.5 1276.5,407.5 1277.5,406.5 1277.5,407.5 1278.5,408.5 1279.5,408.5 1279.5,411.5 1280.5,410.5 1281.5,409.5 1282.5,408.5 1282.5,409.5 1283.5,409.5 1284.5,408.5 1284.5,409.5 1285.5,409.5 1286.5,409.5 1286.5,410.5 1287.5,412.5 1288.5,412.5 1288.5,413.5 1289.5,414.5 1290.5,413.5 1290.5,411.5 1291.5,411.5 1292.5,412.5 1292.5,414.5 1293.5,416.5 1294.5,413.5 1294.5,415.5 1295.5,417.5 1296.5,420.5 1296.5,418.5 1297.5,417.5 1298.5,413.5 1298.5,409.5 1299.5,405.5 1299.5,401.5 1300.5,399.5 1301.5,398.5 1301.5,400.5 1302.5,400.5 1303.5,401.5 1303.5,400.5 1304.5,401.5 1305.5,402.5 1305.5,398.5 1306.5,399.5 1307.5,398.5 1308.5,400.5 1309.5,401.5 1309.5,403.5 1310.5,405.5 1311.5,404.5 1311.5,402.5 1312.5,402.5 1313.5,403.5 1313.5,404.5 1314.5,403.5 1315.5,405.5 1315.5,404.5 1316.5,406.5 1317.5,407.5 1318.5,404.5 1318.5,402.5 1319.5,400.5 1320.5,402.5 1321.5,401.5 1322.5,403.5 1322.5,404.5 1323.5,406.5 1324.5,409.5 1324.5,408.5 1325.5,408.5 1326.5,406.5 1326.5,408.5 1327.5,409.5 1328.5,411.5 1329.5,415.5 1330.5,411.5 1330.5,410.5 1331.5,412.5 1332.5,412.5 1332.5,414.5 1333.5,415.5 1333.5,414.5 1334.5,417.5 1335.5,417.5 1335.5,414.5 1336.5,418.5 1337.5,417.5 1337.5,418.5 1338.5,415.5 1339.5,414.5 1340.5,413.5 1341.5,415.5 1341.5,411.5 1342.5,413.5 1343.5,411.5 1343.5,413.5 1344.5,413.5 1345.5,412.5 1345.5,415.5 1346.5,413.5 1347.5,414.5 1347.5,410.5 1348.5,411.5 1349.5,411.5 1350.5,410.5 1350.5,409.5 1351.5,405.5 1352.5,407.5 1353.5,408.5 1354.5,410.5 1354.5,412.5 1355.5,411.5 1356.5,409.5 1356.5,404.5 1357.5,399.5 1358.5,395.5 1358.5,389.5 1359.5,387.5 1360.5,388.5 1360.5,390.5 1361.5,389.5 1362.5,390.5 1362.5,385.5 1363.5,385.5 1364.5,385.5 1365.5,381.5 1366.5,378.5 1366.5,377.5 1367.5,379.5 1367.5,384.5 1368.5,382.5 1369.5,379.5 1369.5,380.5 1370.5,380.5 1371.5,380.5 1371.5,379.5 1372.5,377.5 1373.5,378.5 1373.5,380.5 1374.5,379.5 1375.5,381.5 1375.5,377.5 1376.5,377.5 1377.5,372.5 1377.5,367.5 1378.5,366.5 1379.5,366.5 1379.5,367.5 1380.5,369.5 1381.5,370.5 1382.5,371.5 1383.5,369.5 1383.5,367.5 1384.5,370.5 1385.5,368.5 1386.5,367.5 1386.5,364.5 1387.5,365.5 1388.5,366.5 1389.5,364.5 1390.5,364.5 1390.5,365.5 1391.5,366.5 1392.5,365.5 1392.5,364.5 1393.5,362.5 1394.5,360.5 1394.5,361.5 1395.5,359.5 1396.5,361.5 1396.5,364.5 1397.5,363.5 1398.5,368.5 1398.5,369.5 1399.5,371.5 1400.5,372.5 1400.5,371.5 1401.5,373.5 1402.5,373.5 1403.5,372.5 1403.5,367.5 1404.5,370.5 1405.5,370.5 1406.5,369.5 1407.5,366.5 1407.5,367.5 1408.5,361.5 1409.5,361.5 1409.5,355.5 1410.5,351.5 1411.5,349.5 1411.5,351.5 1412.5,350.5 1413.5,347.5 1413.5,352.5 1414.5,351.5 1415.5,346.5 1415.5,344.5 1416.5,338.5 1417.5,334.5 1417.5,335.5 1418.5,331.5 1419.5,330.5 1419.5,328.5 1420.5,327.5 1420.5,324.5 1421.5,319.5 1422.5,320.5 1422.5,318.5 1423.5,319.5 1424.5,319.5 1424.5,323.5 1425.5,324.5 1426.5,323.5 1426.5,326.5 1427.5,329.5 1428.5,329.5 1428.5,330.5 1429.5,331.5 1430.5,327.5 1430.5,325.5 1431.5,322.5 1432.5,321.5 1432.5,322.5 1433.5,324.5 1434.5,326.5 1434.5,323.5 1435.5,319.5 1436.5,317.5 1437.5,318.5 1437.5,320.5 1438.5,325.5 1439.5,326.5 1439.5,325.5 1440.5,327.5 1441.5,332.5 1441.5,333.5 1442.5,331.5 1443.5,328.5 1443.5,326.5 1444.5,327.5 1445.5,330.5 1445.5,331.5 1446.5,333.5 1447.5,338.5 1447.5,333.5 1448.5,332.5 1449.5,332.5 1449.5,333.5 1450.5,332.5 1451.5,333.5 1451.5,335.5 1452.5,334.5 1453.5,333.5 1453.5,335.5 1454.5,333.5 1454.5,330.5 1455.5,324.5 1456.5,324.5 1456.5,320.5 1457.5,320.5 1458.5,317.5 1458.5,319.5 1459.5,323.5 1460.5,323.5 1460.5,326.5 1461.5,324.5 1462.5,323.5 1462.5,321.5 1463.5,321.5 1464.5,320.5 1464.5,322.5 1465.5,324.5 1466.5,323.5 1466.5,322.5 1467.5,324.5 1468.5,326.5 1468.5,327.5 1469.5,326.5 1470.5,328.5 1470.5,330.5 1471.5,326.5 1471.5,332.5 1472.5,335.5 1473.5,335.5 1473.5,333.5 1474.5,333.5 1475.5,333.5 1475.5,330.5 1476.5,333.5 1477.5,335.5 1477.5,339.5 1478.5,341.5 1479.5,340.5 1479.5,339.5 1480.5,339.5 1481.5,338.5 1481.5,337.5 1482.5,334.5 1483.5,331.5 1483.5,330.5 1484.5,327.5 1485.5,327.5 1486.5,324.5 1487.5,323.5 1487.5,325.5 1488.5,323.5 1488.5,324.5 1489.5,326.5 1490.5,329.5 1490.5,333.5 1491.5,339.5 1492.5,342.5 1493.5,344.5 1494.5,343.5 1494.5,342.5 1495.5,337.5 1496.5,337.5 1496.5,341.5 1497.5,338.5 1498.5,339.5 1498.5,337.5 1499.5,334.5 1500.5,334.5 1500.5,335.5 1501.5,337.5 1502.5,335.5 1503.5,335.5 1504.5,334.5 1504.5,339.5 1505.5,343.5 1505.5,346.5 1506.5,345.5 1507.5,348.5 1507.5,346.5 1508.5,342.5 1509.5,340.5 1509.5,337.5 1510.5,337.5 1511.5,339.5 1511.5,335.5 1512.5,332.5 1513.5,334.5 1513.5,333.5 1514.5,328.5 1515.5,328.5 1515.5,327.5 1516.5,328.5 1517.5,330.5 1517.5,332.5 1518.5,331.5 1519.5,332.5 1519.5,330.5 1520.5,333.5 1521.5,334.5 1521.5,333.5 1522.5,332.5 1522.5,334.5 1523.5,332.5 1524.5,328.5 1524.5,324.5 1525.5,324.5 1526.5,326.5 1526.5,324.5 1527.5,323.5 1528.5,322.5 1528.5,323.5 1529.5,324.5 1530.5,320.5 1530.5,319.5 1531.5,318.5 1532.5,317.5 1532.5,316.5 1533.5,319.5 1534.5,320.5 1535.5,318.5 1536.5,313.5 1536.5,311.5 1537.5,306.5 1538.5,302.5 1538.5,299.5 1539.5,297.5 1540.5,294.5 1540.5,297.5 1541.5,295.5 1541.5,291.5 1542.5,287.5 1543.5,288.5 1543.5,289.5 1544.5,291.5 1545.5,292.5 1545.5,291.5 1546.5,292.5 1547.5,288.5 1548.5,289.5 1549.5,286.5 1550.5,286.5 1551.5,286.5 1551.5,288.5 1552.5,284.5 1553.5,286.5 1553.5,281.5 1554.5,280.5 1555.5,281.5 1555.5,284.5 1556.5,287.5 1557.5,288.5 1558.5,291.5 1558.5,289.5 1559.5,287.5 1560.5,288.5 1560.5,290.5 1561.5,289.5 1562.5,288.5 1562.5,289.5 1563.5,291.5 1564.5,292.5 1564.5,293.5 1565.5,292.5 1566.5,293.5 1566.5,290.5 1567.5,289.5 1568.5,289.5 1568.5,288.5 1569.5,287.5 1570.5,284.5 1570.5,283.5 1571.5,280.5 1572.5,282.5 1573.5,280.5 1574.5,281.5 1574.5,283.5 1575.5,280.5 1575.5,281.5 1576.5,286.5 1577.5,287.5 1578.5,285.5 1579.5,290.5 1579.5,291.5 1580.5,291.5 1581.5,288.5 1581.5,290.5 1582.5,292.5 1583.5,291.5 1584.5,291.5 1585.5,293.5 1585.5,292.5 1586.5,293.5 1587.5,292.5 1587.5,293.5 1588.5,298.5 1589.5,302.5 1589.5,303.5 1590.5,303.5 1591.5,300.5 1592.5,302.5 1592.5,304.5 1593.5,310.5 1594.5,307.5 1594.5,305.5 1595.5,304.5 1596.5,303.5 1596.5,304.5 1597.5,300.5 1598.5,303.5 1599.5,302.5 1600.5,304.5 1600.5,306.5 1601.5,304.5 1602.5,304.5 1602.5,303.5 1603.5,304.5 1604.5,303.5 1605.5,305.5 1606.5,306.5 1606.5,309.5 1607.5,311.5 1608.5,310.5 1608.5,308.5 1609.5,305.5 1609.5,302.5 1610.5,303.5 1611.5,301.5 1612.5,297.5 1613.5,300.5 1613.5,297.5 1614.5,295.5 1615.5,296.5 1616.5,293.5 1617.5,290.5 1617.5,292.5 1618.5,290.5 1619.5,291.5 1619.5,287.5 1620.5,289.5 1621.5,290.5 1621.5,285.5 1622.5,284.5 1623.5,283.5 1623.5,284.5 1624.5,280.5 1625.5,282.5 1625.5,281.5 1626.5,280.5 1626.5,281.5 1627.5,277.5 1628.5,276.5 1629.5,279.5 1630.5,279.5 1630.5,280.5 1631.5,283.5 1632.5,282.5 1632.5,281.5 1633.5,281.5 1634.5,281.5 1634.5,285.5 1635.5,280.5 1636.5,280.5 1637.5,279.5 1638.5,282.5 1639.5,282.5 1640.5,280.5 1640.5,279.5 1641.5,281.5 1642.5,280.5 1643.5,281.5 1643.5,279.5 1644.5,279.5 1645.5,280.5 1645.5,279.5 1646.5,280.5 1647.5,277.5 1647.5,278.5 1648.5,276.5 1649.5,277.5 1649.5,276.5 1650.5,274.5 1651.5,274.5 1651.5,272.5 1652.5,270.5 1653.5,272.5 1653.5,271.5 1654.5,271.5 1655.5,270.5 1655.5,272.5 1656.5,270.5 1657.5,269.5 1658.5,272.5 1659.5,270.5 1659.5,269.5 1660.5,270.5 1660.5,272.5 1661.5,273.5 1662.5,271.5 1662.5,273.5 1663.5,272.5 1664.5,273.5 1665.5,271.5 1666.5,271.5 1667.5,272.5 1668.5,272.5 1669.5,274.5 1670.5,274.5 1670.5,275.5 1671.5,275.5 1672.5,275.5 1672.5,277.5 1673.5,277.5 1674.5,278.5 1675.5,277.5 1676.5,277.5 1677.5,275.5 1677.5,274.5 1678.5,278.5 1679.5,276.5 1679.5,271.5 1680.5,273.5 1681.5,274.5 1681.5,272.5 1682.5,277.5 1683.5,277.5 1683.5,276.5 1684.5,274.5 1685.5,274.5 1685.5,275.5 1686.5,274.5 1687.5,272.5 1688.5,272.5 1689.5,272.5 1689.5,269.5 1690.5,269.5 1691.5,268.5 1692.5,268.5 1693.5,265.5 1693.5,269.5 1694.5,273.5 1694.5,272.5 1695.5,274.5 1696.5,274.5 1696.5,275.5 1697.5,278.5 1698.5,278.5 1698.5,281.5 1699.5,279.5 1700.5,277.5 1700.5,276.5 1701.5,271.5 1702.5,275.5"/>
<polyline stroke="#ff00ff" points="69.5,811.5 70.5,811.5 71.5,811.5 71.5,810.5 72.5,810.5 73.5,810.5 74.5,810.5 75.5,810.5 76.5,810.5 77.5,809.5 78.5,809.5 79.5,809.5 80.5,808.5 81.5,808.5 82.5,808.5 82.5,807.5 83.5,807.5 84.5,807.5 85.5,807.5 86.5,807.5 86.5,806.5 87.5,806.5 88.5,806.5 89.5,806.5 90.5,806.5 91.5,806.5 92.5,806.5 93.5,806.5 94.5,805.5 95.5,805.5 96.5,805.5 97.5,805.5 98.5,805.5 99.5,805.5 100.5,805.5 101.5,805.5 102.5,805.5 103.5,804.5 104.5,804.5 105.5,804.5 105.5,803.5 106.5,803.5 107.5,802.5 108.5,801.5 109.5,801.5 109.5,800.5 110.5,800.5 111.5,799.5 111.5,798.5 112.5,797.5 113.5,796.5 114.5,796.5 114.5,795.5 115.5,795.5 116.5,794.5 116.5,793.5 117.5,793.5 118.5,792.5 119.5,791.5 120.5,791.5 120.5,790.5 121.5,790.5 122.5,790.5 122.5,789.5 123.5,789.5 124.5,788.5 125.5,787.5 126.5,787.5 126.5,786.5 127.5,786.5 128.5,786.5 128.5,785.5 129.5,785.5 129.5,784.5 130.5,784.5 131.5,784.5 131.5,783.5 132.5,783.5 133.5,783.5 134.5,782.5 135.5,782.5 136.5,781.5 137.5,781.5 138.5,781.5 139.5,780.5 140.5,780.5 141.5,779.5 142.5,779.5 143.5,779.5 143.5,778.5 144.5,778.5 145.5,778.5 146.5,777.5 147.5,777.5 148.5,776.5 149.5,776.5 150.5,776.5 150.5,775.5 151.5,775.5 152.5,775.5 152.5,774.5 153.5,774.5 154.5,774.5 155.5,774.5 156.5,773.5 157.5,773.5 158.5,773.5 158.5,772.5 159.5,772.5 160.5,772.5 161.5,771.5 162.5,771.5 163.5,771.5 163.5,770.5 164.5,770.5 165.5,770.5 165.5,769.5 166.5,769.5 167.5,769.5 168.5,769.5 169.5,768.5 170.5,768.5 171.5,768.5 172.5,768.5 173.5,768.5 174.5,767.5 175.5,767.5 176.5,767.5 177.5,768.5 178.5,767.5 179.5,767.5 180.5,767.5 181.5,767.5 182.5,767.5 183.5,767.5 184.5,766.5 185.5,766.5 186.5,766.5 187.5,766.5 188.5,766.5 189.5,765.5 190.5,765.5 191.5,765.5 192.5,765.5 193.5,765.5 194.5,764.5 195.5,764.5 196.5,764.5 197.5,763.5 198.5,763.5 199.5,762.5 200.5,761.5 201.5,761.5 201.5,760.5 202.5,759.5 203.5,759.5 203.5,758.5 204.5,758.5 205.5,757.5 206.5,756.5 207.5,756.5 208.5,755.5 209.5,755.5 210.5,754.5 211.5,754.5 211.5,753.5 212.5,753.5 213.5,753.5 213.5,752.5 214.5,752.5 215.5,751.5 216.5,751.5 216.5,750.5 217.5,750.5 218.5,749.5 219.5,749.5 220.5,748.5 221.5,747.5 222.5,746.5 223.5,745.5 224.5,745.5 224.5,744.5 225.5,744.5 226.5,743.5 227.5,742.5 228.5,741.5 229.5,740.5 230.5,739.5 231.5,738.5 232.5,737.5 233.5,736.5 233.5,735.5 234.5,735.5 235.5,734.5 235.5,733.5 236.5,733.5 237.5,732.5 238.5,732.5 239.5,731.5 240.5,731.5 241.5,730.5 242.5,730.5 243.5,729.5 244.5,728.5 245.5,728.5 246.5,727.5 247.5,727.5 247.5,726.5 248.5,726.5 249.5,725.5 250.5,724.5 251.5,724.5 252.5,723.5 253.5,722.5 254.5,721.5 255.5,720.5 256.5,720.5 256.5,719.5 257.5,718.5 258.5,717.5 259.5,716.5 260.5,715.5 260.5,714.5 261.5,713.5 262.5,712.5 262.5,711.5 263.5,710.5 264.5,709.5 264.5,708.5 265.5,707.5 266.5,706.5 266.5,705.5 267.5,703.5 267.5,702.5 268.5,701.5 269.5,700.5 269.5,699.5 270.5,697.5 271.5,696.5 271.5,695.5 272.5,693.5 273.5,692.5 273.5,690.5 274.5,689.5 275.5,688.5 275.5,687.5 276.5,685.5 277.5,684.5 277.5,683.5 278.5,682.5 279.5,681.5 279.5,680.5 280.5,679.5 281.5,678.5 281.5,677.5 282.5,676.5 283.5,675.5 283.5,674.5 284.5,673.5 285.5,672.5 286.5,671.5 286.5,670.5 287.5,669.5 288.5,669.5 288.5,668.5 289.5,667.5 290.5,666.5 290.5,665.5 291.5,665.5 292.5,664.5 292.5,663.5 293.5,662.5 294.5,662.5 294.5,661.5 295.5,660.5 296.5,659.5 296.5,658.5 297.5,657.5 298.5,656.5 298.5,655.5 299.5,654.5 300.5,653.5 300.5,652.5 301.5,650.5 301.5,649.5 302.5,648.5 303.5,646.5 303.5,645.5 304.5,643.5 305.5,642.5 305.5,641.5 306.5,640.5 307.5,638.5 307.5,637.5 308.5,636.5 309.5,634.5 309.5,633.5 310.5,632.5 311.5,630.5 311.5,629.5 312.5,628.5 313.5,627.5 313.5,626.5 314.5,625.5 315.5,624.5 315.5,623.5 316.5,623.5 317.5,622.5 317.5,621.5 318.5,620.5 318.5,619.5 319.5,619.5 320.5,618.5 320.5,617.5 321.5,616.5 322.5,615.5 323.5,614.5 324.5,613.5 325.5,612.5 326.5,611.5 326.5,610.5 327.5,610.5 328.5,609.5 328.5,608.5 329.5,607.5 330.5,606.5 330.5,605.5 331.5,604.5 332.5,604.5 332.5,603.5 333.5,602.5 334.5,601.5 334.5,600.5 335.5,599.5 335.5,598.5 336.5,598.5 337.5,597.5 337.5,596.5 338.5,595.5 339.5,594.5 339.5,593.5 340.5,592.5 341.5,591.5 341.5,590.5 342.5,589.5 343.5,587.5 343.5,586.5 344.5,585.5 345.5,585.5 345.5,584.5 346.5,583.5 347.5,582.5 347.5,581.5 348.5,579.5 349.5,578.5 349.5,577.5 350.5,576.5 351.5,575.5 351.5,574.5 352.5,572.5 352.5,571.5 353.5,570.5 354.5,568.5 354.5,566.5 355.5,564.5 356.5,562.5 356.5,560.5 357.5,557.5 358.5,555.5 358.5,552.5 359.5,550.5 360.5,548.5 360.5,546.5 361.5,544.5 362.5,542.5 362.5,541.5 363.5,539.5 364.5,537.5 364.5,536.5 365.5,534.5 366.5,533.5 366.5,531.5 367.5,530.5 368.5,529.5 368.5,527.5 369.5,526.5 369.5,524.5 370.5,523.5 371.5,522.5 371.5,521.5 372.5,520.5 373.5,519.5 373.5,518.5 374.5,517.5 375.5,517.5 375.5,516.5 376.5,515.5 377.5,515.5 377.5,514.5 378.5,513.5 379.5,513.5 379.5,512.5 380.5,511.5 381.5,511.5 381.5,510.5 382.5,510.5 383.5,509.5 384.5,509.5 385.5,508.5 386.5,507.5 387.5,506.5 388.5,506.5 388.5,505.5 389.5,505.5 390.5,504.5 390.5,503.5 391.5,503.5 392.5,502.5 392.5,501.5 393.5,501.5 394.5,500.5 395.5,499.5 396.5,499.5 396.5,498.5 397.5,498.5 398.5,497.5 399.5,497.5 400.5,496.5 401.5,496.5 402.5,496.5 402.5,495.5 403.5,495.5 404.5,495.5 405.5,495.5 406.5,495.5 407.5,495.5 408.5,495.5 409.5,495.5 410.5,495.5 411.5,495.5 412.5,495.5 413.5,495.5 414.5,495.5 415.5,495.5 416.5,495.5 417.5,495.5 418.5,495.5 419.5,496.5 420.5,496.5 421.5,496.5 421.5,497.5 422.5,497.5 422.5,498.5 423.5,499.5 424.5,500.5 425.5,501.5 426.5,502.5 427.5,503.5 428.5,503.5 428.5,504.5 429.5,505.5 430.5,505.5 430.5,506.5 431.5,507.5 432.5,507.5 432.5,508.5 433.5,509.5 434.5,510.5 434.5,511.5 435.5,512.5 436.5,512.5 436.5,513.5 437.5,514.5 438.5,515.5 439.5,516.5 440.5,516.5 441.5,517.5 442.5,518.5 443.5,518.5 443.5,519.5 444.5,519.5 445.5,519.5 445.5,520.5 446.5,520.5 447.5,521.5 448.5,521.5 449.5,521.5 450.5,521.5 451.5,522.5 452.5,522.5 453.5,523.5 454.5,523.5 455.5,524.5 456.5,525.5 457.5,526.5 458.5,526.5 458.5,527.5 459.5,527.5 460.5,528.5 461.5,529.5 462.5,529.5 463.5,529.5 464.5,530.5 465.5,530.5 466.5,530.5 466.5,531.5 467.5,531.5 468.5,531.5 469.5,531.5 470.5,532.5 471.5,532.5 472.5,532.5 473.5,532.5 474.5,533.5 475.5,533.5 476.5,533.5 477.5,533.5 478.5,533.5 479.5,533.5 480.5,533.5 481.5,533.5 482.5,533.5 483.5,534.5 484.5,534.5 485.5,535.5 486.5,535.5 487.5,536.5 488.5,537.5 489.5,537.5 490.5,538.5 491.5,539.5 492.5,539.5 493.5,540.5 494.5,540.5 495.5,540.5 496.5,541.5 497.5,541.5 498.5,542.5 499.5,542.5 500.5,542.5 501.5,542.5 502.5,543.5 503.5,543.5 504.5,543.5 505.5,543.5 506.5,543.5 507.5,543.5 507.5,544.5 508.5,544.5 509.5,544.5 510.5,544.5 511.5,544.5 512.5,544.5 513.5,543.5 514.5,543.5 515.5,543.5 515.5,544.5 516.5,544.5 517.5,544.5 518.5,544.5 519.5,545.5 520.5,545.5 521.5,546.5 522.5,547.5 523.5,547.5 523.5,548.5 524.5,548.5 524.5,549.5 525.5,549.5 526.5,550.5 526.5,551.5 527.5,551.5 528.5,552.5 528.5,553.5 529.5,554.5 530.5,554.5 530.5,555.5 531.5,555.5 532.5,556.5 533.5,557.5 534.5,557.5 534.5,558.5 535.5,558.5 536.5,558.5 536.5,559.5 537.5,559.5 538.5,560.5 539.5,560.5 540.5,561.5 541.5,562.5 542.5,563.5 543.5,563.5 543.5,564.5 544.5,565.5 545.5,565.5 545.5,566.5 546.5,566.5 547.5,567.5 547.5,568.5 548.5,568.5 549.5,569.5 550.5,570.5 551.5,570.5 551.5,571.5 552.5,572.5 553.5,572.5 553.5,573.5 554.5,573.5 555.5,574.5 556.5,575.5 557.5,576.5 558.5,577.5 559.5,577.5 559.5,578.5 560.5,578.5 560.5,579.5 561.5,580.5 562.5,580.5 562.5,581.5 563.5,581.5 564.5,582.5 565.5,583.5 566.5,583.5 566.5,584.5 567.5,584.5 568.5,585.5 568.5,586.5 569.5,586.5 570.5,587.5 571.5,588.5 572.5,589.5 573.5,590.5 574.5,590.5 574.5,591.5 575.5,591.5 576.5,592.5 576.5,593.5 577.5,593.5 577.5,594.5 578.5,594.5 579.5,595.5 580.5,596.5 581.5,596.5 582.5,596.5 583.5,596.5 583.5,595.5 584.5,595.5 585.5,595.5 586.5,594.5 587.5,594.5 588.5,593.5 589.5,593.5 590.5,592.5 591.5,592.5 591.5,591.5 592.5,591.5 593.5,591.5 593.5,590.5 594.5,590.5 594.5,589.5 595.5,589.5 596.5,588.5 597.5,587.5 598.5,587.5 598.5,586.5 599.5,585.5 600.5,584.5 600.5,583.5 601.5,582.5 602.5,581.5 602.5,580.5 603.5,579.5 604.5,579.5 604.5,578.5 605.5,577.5 606.5,576.5 606.5,575.5 607.5,574.5 608.5,573.5 608.5,572.5 609.5,571.5 610.5,571.5 610.5,570.5 611.5,569.5 611.5,568.5 612.5,567.5 613.5,567.5 613.5,566.5 614.5,565.5 615.5,564.5 615.5,563.5 616.5,562.5 617.5,560.5 617.5,559.5 618.5,558.5 619.5,556.5 619.5,555.5 620.5,554.5 621.5,553.5 621.5,551.5 622.5,550.5 623.5,549.5 623.5,548.5 624.5,546.5 625.5,545.5 625.5,544.5 626.5,543.5 627.5,542.5 627.5,541.5 628.5,540.5 628.5,539.5 629.5,538.5 630.5,537.5 630.5,536.5 631.5,535.5 632.5,534.5 633.5,533.5 634.5,532.5 634.5,531.5 635.5,531.5 636.5,530.5 636.5,529.5 637.5,528.5 638.5,527.5 638.5,526.5 639.5,525.5 640.5,525.5 640.5,524.5 641.5,523.5 642.5,522.5 642.5,521.5 643.5,521.5 644.5,520.5 644.5,519.5 645.5,519.5 645.5,518.5 646.5,517.5 647.5,517.5 647.5,516.5 648.5,516.5 649.5,515.5 650.5,514.5 651.5,514.5 651.5,513.5 652.5,513.5 653.5,512.5 654.5,511.5 655.5,511.5 655.5,510.5 656.5,510.5 657.5,509.5 658.5,508.5 659.5,508.5 659.5,507.5 660.5,507.5 661.5,506.5 662.5,506.5 663.5,505.5 664.5,505.5 665.5,505.5 666.5,505.5 667.5,505.5 668.5,505.5 669.5,505.5 670.5,505.5 671.5,505.5 672.5,505.5 673.5,505.5 674.5,505.5 675.5,505.5 676.5,505.5 677.5,505.5 678.5,505.5 679.5,505.5 680.5,505.5 681.5,505.5 682.5,505.5 683.5,505.5 683.5,506.5 684.5,506.5 685.5,506.5 686.5,507.5 687.5,507.5 688.5,508.5 689.5,508.5 689.5,509.5 690.5,509.5 691.5,510.5 692.5,510.5 693.5,511.5 694.5,512.5 695.5,512.5 696.5,512.5 696.5,513.5 697.5,513.5 698.5,513.5 698.5,514.5 699.5,514.5 700.5,514.5 700.5,515.5 701.5,515.5 702.5,515.5 702.5,516.5 703.5,516.5 704.5,517.5 705.5,518.5 706.5,518.5 707.5,519.5 708.5,519.5 708.5,520.5 709.5,520.5 710.5,520.5 710.5,521.5 711.5,521.5 712.5,521.5 713.5,522.5 714.5,522.5 715.5,522.5 716.5,523.5 717.5,523.5 718.5,523.5 719.5,523.5 719.5,524.5 720.5,524.5 721.5,524.5 722.5,524.5 723.5,524.5 724.5,524.5 725.5,524.5 726.5,524.5 727.5,524.5 728.5,524.5 729.5,524.5 729.5,523.5 730.5,523.5 731.5,523.5 732.5,523.5 732.5,522.5 733.5,522.5 734.5,522.5 735.5,522.5 736.5,522.5 737.5,522.5 738.5,522.5 739.5,522.5 740.5,522.5 741.5,522.5 742.5,522.5 743.5,523.5 744.5,523.5 744.5,524.5 745.5,524.5 746.5,524.5 746.5,525.5 747.5,525.5 748.5,525.5 748.5,526.5 749.5,526.5 750.5,526.5 751.5,527.5 752.5,527.5 753.5,527.5 754.5,527.5 755.5,527.5 756.5,528.5 757.5,528.5 758.5,528.5 759.5,528.5 760.5,528.5 761.5,528.5 762.5,528.5 763.5,528.5 763.5,527.5 764.5,527.5 765.5,527.5 765.5,526.5 766.5,526.5 767.5,525.5 768.5,525.5 769.5,525.5 770.5,524.5 771.5,524.5 772.5,524.5 772.5,523.5 773.5,523.5 774.5,523.5 775.5,522.5 776.5,522.5 777.5,522.5 778.5,522.5 779.5,521.5 780.5,521.5 781.5,521.5 782.5,521.5 783.5,521.5 784.5,521.5 785.5,521.5 786.5,520.5 787.5,520.5 788.5,520.5 789.5,520.5 789.5,521.5 790.5,521.5 791.5,521.5 792.5,521.5 793.5,521.5 794.5,521.5 795.5,521.5 796.5,521.5 797.5,521.5 798.5,521.5 799.5,521.5 800.5,521.5 801.5,521.5 802.5,521.5 803.5,521.5 804.5,521.5 804.5,520.5 805.5,520.5 806.5,520.5 806.5,519.5 807.5,518.5 808.5,518.5 808.5,517.5 809.5,517.5 810.5,516.5 810.5,515.5 811.5,515.5 812.5,514.5 813.5,513.5 814.5,513.5 814.5,512.5 815.5,511.5 816.5,511.5 816.5,510.5 817.5,510.5 818.5,509.5 819.5,509.5 819.5,508.5 820.5,508.5 821.5,507.5 822.5,506.5 823.5,506.5 823.5,505.5 824.5,505.5 825.5,505.5 825.5,504.5 826.5,504.5 827.5,504.5 828.5,504.5 829.5,503.5 830.5,503.5 831.5,503.5 832.5,503.5 833.5,503.5 834.5,503.5 834.5,502.5 835.5,502.5 836.5,502.5 837.5,502.5 838.5,502.5 839.5,502.5 840.5,501.5 841.5,501.5 842.5,501.5 842.5,500.5 843.5,500.5 844.5,500.5 845.5,499.5 846.5,499.5 847.5,498.5 848.5,498.5 849.5,497.5 850.5,497.5 850.5,496.5 851.5,496.5 851.5,495.5 852.5,495.5 853.5,494.5 854.5,493.5 855.5,493.5 855.5,492.5 856.5,492.5 857.5,491.5 858.5,490.5 859.5,490.5 859.5,489.5 860.5,488.5 861.5,487.5 862.5,486.5 863.5,485.5 864.5,484.5 865.5,483.5 866.5,482.5 867.5,481.5 867.5,480.5 868.5,480.5 868.5,479.5 869.5,478.5 870.5,478.5 870.5,477.5 871.5,477.5 872.5,476.5 872.5,475.5 873.5,474.5 874.5,474.5 874.5,473.5 875.5,472.5 876.5,471.5 876.5,470.5 877.5,469.5 878.5,468.5 878.5,467.5 879.5,466.5 880.5,464.5 880.5,463.5 881.5,462.5 882.5,460.5 882.5,458.5 883.5,457.5 884.5,455.5 884.5,454.5 885.5,453.5 886.5,451.5 886.5,450.5 887.5,449.5 887.5,447.5 888.5,446.5 889.5,445.5 889.5,444.5 890.5,443.5 891.5,442.5 891.5,441.5 892.5,440.5 893.5,439.5 893.5,437.5 894.5,436.5 895.5,435.5 895.5,434.5 896.5,432.5 897.5,430.5 897.5,429.5 898.5,427.5 899.5,426.5 899.5,424.5 900.5,423.5 901.5,421.5 901.5,419.5 902.5,418.5 903.5,416.5 903.5,415.5 904.5,413.5 904.5,412.5 905.5,411.5 906.5,409.5 906.5,408.5 907.5,407.5 908.5,405.5 908.5,404.5 909.5,402.5 910.5,401.5 910.5,400.5 911.5,398.5 912.5,397.5 912.5,396.5 913.5,394.5 914.5,393.5 914.5,392.5 915.5,391.5 916.5,390.5 916.5,388.5 917.5,387.5 918.5,386.5 918.5,385.5 919.5,384.5 920.5,383.5 920.5,382.5 921.5,381.5 921.5,380.5 922.5,379.5 923.5,378.5 923.5,377.5 924.5,376.5 925.5,375.5 925.5,374.5 926.5,372.5 927.5,371.5 927.5,370.5 928.5,370.5 929.5,369.5 929.5,368.5 930.5,367.5 931.5,366.5 932.5,365.5 933.5,364.5 933.5,363.5 934.5,363.5 935.5,362.5 935.5,361.5 936.5,360.5 937.5,359.5 938.5,358.5 939.5,357.5 940.5,356.5 941.5,355.5 942.5,355.5 943.5,354.5 944.5,354.5 945.5,354.5 946.5,354.5 947.5,354.5 948.5,354.5 949.5,354.5 950.5,354.5 951.5,354.5 952.5,354.5 953.5,354.5 954.5,354.5 955.5,353.5 956.5,353.5 957.5,353.5 958.5,353.5 959.5,353.5 960.5,354.5 961.5,354.5 962.5,354.5 963.5,354.5 963.5,355.5 964.5,355.5 965.5,355.5 966.5,356.5 967.5,356.5 967.5,357.5 968.5,357.5 969.5,357.5 969.5,358.5 970.5,358.5 971.5,358.5 971.5,359.5 972.5,359.5 973.5,360.5 974.5,360.5 974.5,361.5 975.5,361.5 976.5,361.5 976.5,362.5 977.5,362.5 978.5,363.5 979.5,363.5 980.5,363.5 980.5,364.5 981.5,364.5 982.5,364.5 983.5,365.5 984.5,365.5 985.5,365.5 986.5,366.5 987.5,366.5 988.5,366.5 989.5,367.5 990.5,367.5 991.5,367.5 991.5,368.5 992.5,368.5 993.5,368.5 993.5,369.5 994.5,369.5 995.5,369.5 996.5,369.5 997.5,369.5 998.5,370.5 999.5,370.5 1000.5,370.5 1001.5,370.5 1001.5,371.5 1002.5,371.5 1003.5,371.5 1003.5,372.5 1004.5,372.5 1005.5,372.5 1006.5,372.5 1007.5,372.5 1008.5,372.5 1009.5,371.5 1010.5,371.5 1011.5,370.5 1012.5,370.5 1012.5,369.5 1013.5,369.5 1014.5,368.5 1014.5,367.5 1015.5,367.5 1016.5,366.5 1017.5,365.5 1018.5,365.5 1018.5,364.5 1019.5,364.5 1020.5,363.5 1021.5,362.5 1022.5,362.5 1022.5,361.5 1023.5,360.5 1024.5,359.5 1025.5,358.5 1026.5,357.5 1027.5,357.5 1027.5,356.5 1028.5,356.5 1029.5,355.5 1030.5,354.5 1031.5,354.5 1032.5,353.5 1033.5,353.5 1033.5,352.5 1034.5,352.5 1035.5,351.5 1036.5,351.5 1037.5,350.5 1038.5,349.5 1039.5,349.5 1040.5,349.5 1040.5,348.5 1041.5,348.5 1042.5,348.5 1043.5,348.5 1044.5,348.5 1044.5,347.5 1045.5,347.5 1046.5,347.5 1047.5,347.5 1048.5,347.5 1049.5,347.5 1050.5,347.5 1051.5,347.5 1052.5,347.5 1053.5,347.5 1054.5,347.5 1054.5,348.5 1055.5,348.5 1056.5,348.5 1057.5,348.5 1058.5,348.5 1059.5,348.5 1059.5,349.5 1060.5,349.5 1061.5,349.5 1062.5,349.5 1063.5,350.5 1064.5,350.5 1065.5,350.5 1066.5,350.5 1067.5,350.5 1068.5,350.5 1069.5,350.5 1070.5,350.5 1071.5,350.5 1072.5,351.5 1073.5,351.5 1074.5,351.5 1075.5,352.5 1076.5,352.5 1077.5,353.5 1078.5,353.5 1079.5,354.5 1080.5,354.5 1080.5,355.5 1081.5,355.5 1082.5,356.5 1083.5,356.5 1084.5,357.5 1085.5,358.5 1086.5,358.5 1087.5,359.5 1088.5,359.5 1089.5,360.5 1090.5,360.5 1090.5,361.5 1091.5,361.5 1092.5,361.5 1092.5,362.5 1093.5,362.5 1094.5,363.5 1095.5,363.5 1096.5,364.5 1097.5,364.5 1098.5,365.5 1099.5,365.5 1100.5,366.5 1101.5,366.5 1102.5,367.5 1103.5,367.5 1104.5,367.5 1105.5,368.5 1106.5,368.5 1107.5,368.5 1108.5,369.5 1109.5,369.5 1109.5,370.5 1110.5,370.5 1111.5,371.5 1112.5,371.5 1112.5,372.5 1113.5,372.5 1114.5,373.5 1115.5,373.5 1116.5,374.5 1117.5,374.5 1118.5,375.5 1119.5,375.5 1120.5,376.5 1121.5,376.5 1122.5,377.5 1123.5,377.5 1124.5,377.5 1124.5,378.5 1125.5,378.5 1126.5,378.5 1126.5,379.5 1127.5,379.5 1128.5,380.5 1129.5,380.5 1129.5,381.5 1130.5,381.5 1131.5,382.5 1132.5,383.5 1133.5,383.5 1133.5,384.5 1134.5,385.5 1135.5,385.5 1135.5,386.5 1136.5,387.5 1137.5,387.5 1137.5,388.5 1138.5,388.5 1139.5,389.5 1140.5,390.5 1141.5,390.5 1141.5,391.5 1142.5,392.5 1143.5,392.5 1143.5,393.5 1144.5,393.5 1144.5,394.5 1145.5,394.5 1146.5,395.5 1147.5,396.5 1148.5,396.5 1148.5,397.5 1149.5,397.5 1150.5,398.5 1150.5,399.5 1151.5,399.5 1152.5,400.5 1153.5,401.5 1154.5,402.5 1155.5,403.5 1156.5,404.5 1156.5,405.5 1157.5,405.5 1158.5,406.5 1158.5,407.5 1159.5,408.5 1160.5,408.5 1160.5,409.5 1161.5,410.5 1162.5,411.5 1163.5,412.5 1164.5,413.5 1165.5,414.5 1165.5,415.5 1166.5,415.5 1167.5,416.5 1168.5,417.5 1169.5,418.5 1169.5,419.5 1170.5,419.5 1171.5,420.5 1171.5,421.5 1172.5,422.5 1173.5,422.5 1173.5,423.5 1174.5,423.5 1175.5,424.5 1176.5,424.5 1177.5,425.5 1178.5,425.5 1178.5,426.5 1179.5,426.5 1180.5,427.5 1181.5,427.5 1182.5,428.5 1183.5,429.5 1184.5,429.5 1184.5,430.5 1185.5,430.5 1186.5,431.5 1187.5,432.5 1188.5,432.5 1188.5,433.5 1189.5,433.5 1190.5,433.5 1190.5,434.5 1191.5,434.5 1192.5,434.5 1193.5,434.5 1194.5,434.5 1195.5,434.5 1196.5,434.5 1197.5,434.5 1197.5,435.5 1198.5,435.5 1199.5,435.5 1200.5,435.5 1201.5,435.5 1202.5,436.5 1203.5,436.5 1204.5,436.5 1205.5,436.5 1206.5,436.5 1207.5,437.5 1208.5,437.5 1209.5,437.5 1209.5,438.5 1210.5,438.5 1211.5,438.5 1211.5,439.5 1212.5,439.5 1213.5,439.5 1214.5,440.5 1215.5,440.5 1216.5,440.5 1216.5,441.5 1217.5,441.5 1218.5,441.5 1218.5,442.5 1219.5,442.5 1220.5,442.5 1220.5,443.5 1221.5,443.5 1222.5,443.5 1222.5,444.5 1223.5,444.5 1224.5,444.5 1225.5,444.5 1226.5,444.5 1227.5,444.5 1228.5,444.5 1229.5,444.5 1230.5,444.5 1231.5,444.5 1232.5,444.5 1233.5,444.5 1234.5,444.5 1235.5,444.5 1235.5,443.5 1236.5,443.5 1237.5,443.5 1238.5,443.5 1239.5,443.5 1240.5,442.5 1241.5,442.5 1242.5,442.5 1243.5,442.5 1244.5,441.5 1245.5,441.5 1246.5,441.5 1247.5,441.5 1247.5,440.5 1248.5,440.5 1249.5,440.5 1250.5,440.5 1251.5,440.5 1252.5,440.5 1252.5,439.5 1253.5,439.5 1254.5,439.5 1255.5,438.5 1256.5,438.5 1257.5,437.5 1258.5,437.5 1259.5,436.5 1260.5,436.5 1261.5,435.5 1262.5,435.5 1262.5,434.5 1263.5,434.5 1264.5,433.5 1265.5,432.5 1265.5,431.5 1266.5,431.5 1267.5,430.5 1268.5,429.5 1269.5,429.5 1269.5,428.5 1270.5,428.5 1271.5,427.5 1272.5,426.5 1273.5,426.5 1273.5,425.5 1274.5,425.5 1275.5,424.5 1276.5,424.5 1277.5,423.5 1278.5,422.5 1279.5,422.5 1279.5,421.5 1280.5,421.5 1281.5,421.5 1281.5,420.5 1282.5,420.5 1282.5,419.5 1283.5,419.5 1284.5,419.5 1284.5,418.5 1285.5,418.5 1286.5,417.5 1287.5,417.5 1288.5,416.5 1289.5,416.5 1290.5,415.5 1291.5,415.5 1292.5,415.5 1293.5,414.5 1294.5,414.5 1295.5,414.5 1296.5,414.5 1297.5,414.5 1298.5,414.5 1298.5,413.5 1299.5,413.5 1300.5,413.5 1301.5,413.5 1301.5,412.5 1302.5,412.5 1303.5,412.5 1304.5,411.5 1305.5,411.5 1306.5,411.5 1307.5,410.5 1308.5,410.5 1309.5,410.5 1310.5,409.5 1311.5,409.5 1312.5,409.5 1313.5,409.5 1313.5,408.5 1314.5,408.5 1315.5,408.5 1316.5,408.5 1316.5,407.5 1317.5,407.5 1318.5,407.5 1319.5,406.5 1320.5,406.5 1321.5,406.5 1322.5,406.5 1323.5,406.5 1324.5,406.5 1325.5,406.5 1326.5,406.5 1327.5,406.5 1328.5,406.5 1329.5,406.5 1330.5,407.5 1331.5,407.5 1332.5,407.5 1333.5,407.5 1334.5,407.5 1335.5,407.5 1335.5,408.5 1336.5,408.5 1337.5,408.5 1338.5,408.5 1339.5,408.5 1340.5,408.5 1341.5,408.5 1342.5,408.5 1343.5,409.5 1344.5,409.5 1345.5,409.5 1346.5,409.5 1347.5,409.5 1348.5,409.5 1349.5,409.5 1350.5,409.5 1351.5,409.5 1352.5,409.5 1353.5,409.5 1354.5,409.5 1355.5,409.5 1356.5,409.5 1357.5,408.5 1358.5,408.5 1359.5,408.5 1360.5,407.5 1361.5,407.5 1362.5,406.5 1363.5,406.5 1364.5,406.5 1364.5,405.5 1365.5,405.5 1366.5,405.5 1367.5,404.5 1368.5,404.5 1369.5,404.5 1369.5,403.5 1370.5,403.5 1371.5,403.5 1372.5,403.5 1373.5,402.5 1374.5,402.5 1375.5,402.5 1375.5,401.5 1376.5,401.5 1377.5,401.5 1377.5,400.5 1378.5,400.5 1379.5,399.5 1380.5,398.5 1381.5,398.5 1382.5,397.5 1383.5,397.5 1383.5,396.5 1384.5,396.5 1385.5,396.5 1385.5,395.5 1386.5,395.5 1386.5,394.5 1387.5,394.5 1388.5,393.5 1389.5,393.5 1390.5,392.5 1391.5,391.5 1392.5,391.5 1392.5,390.5 1393.5,390.5 1394.5,389.5 1395.5,388.5 1396.5,387.5 1397.5,387.5 1398.5,386.5 1399.5,385.5 1400.5,385.5 1400.5,384.5 1401.5,384.5 1402.5,384.5 1402.5,383.5 1403.5,383.5 1403.5,382.5 1404.5,382.5 1405.5,382.5 1405.5,381.5 1406.5,381.5 1407.5,380.5 1408.5,379.5 1409.5,379.5 1409.5,378.5 1410.5,378.5 1411.5,377.5 1411.5,376.5 1412.5,376.5 1413.5,375.5 1414.5,374.5 1415.5,373.5 1416.5,372.5 1417.5,371.5 1418.5,370.5 1419.5,369.5 1419.5,368.5 1420.5,367.5 1420.5,366.5 1421.5,365.5 1422.5,365.5 1422.5,364.5 1423.5,363.5 1424.5,362.5 1424.5,361.5 1425.5,361.5 1426.5,360.5 1426.5,359.5 1427.5,359.5 1428.5,358.5 1429.5,357.5 1430.5,356.5 1431.5,355.5 1432.5,355.5 1432.5,354.5 1433.5,353.5 1434.5,353.5 1434.5,352.5 1435.5,352.5 1436.5,351.5 1436.5,350.5 1437.5,350.5 1437.5,349.5 1438.5,349.5 1439.5,348.5 1440.5,347.5 1441.5,347.5 1441.5,346.5 1442.5,346.5 1443.5,345.5 1444.5,345.5 1445.5,344.5 1446.5,344.5 1447.5,344.5 1447.5,343.5 1448.5,343.5 1449.5,343.5 1449.5,342.5 1450.5,342.5 1451.5,342.5 1451.5,341.5 1452.5,341.5 1453.5,341.5 1453.5,340.5 1454.5,340.5 1455.5,339.5 1456.5,339.5 1457.5,338.5 1458.5,338.5 1458.5,337.5 1459.5,337.5 1460.5,337.5 1460.5,336.5 1461.5,336.5 1462.5,335.5 1463.5,335.5 1464.5,334.5 1465.5,333.5 1466.5,333.5 1466.5,332.5 1467.5,332.5 1468.5,332.5 1468.5,331.5 1469.5,331.5 1470.5,330.5 1471.5,330.5 1471.5,329.5 1472.5,329.5 1473.5,329.5 1474.5,328.5 1475.5,328.5 1476.5,328.5 1477.5,328.5 1478.5,328.5 1479.5,328.5 1479.5,327.5 1480.5,327.5 1481.5,327.5 1482.5,327.5 1483.5,327.5 1484.5,327.5 1485.5,327.5 1486.5,327.5 1487.5,327.5 1488.5,327.5 1488.5,328.5 1489.5,328.5 1490.5,328.5 1491.5,328.5 1492.5,328.5 1493.5,328.5 1494.5,328.5 1494.5,329.5 1495.5,329.5 1496.5,329.5 1497.5,329.5 1498.5,329.5 1499.5,330.5 1500.5,330.5 1501.5,330.5 1502.5,330.5 1503.5,330.5 1504.5,331.5 1505.5,331.5 1506.5,331.5 1507.5,331.5 1508.5,331.5 1509.5,332.5 1510.5,332.5 1511.5,332.5 1512.5,332.5 1513.5,332.5 1514.5,332.5 1515.5,332.5 1516.5,332.5 1517.5,332.5 1517.5,331.5 1518.5,331.5 1519.5,331.5 1520.5,332.5 1521.5,332.5 1522.5,332.5 1523.5,332.5 1524.5,332.5 1525.5,332.5 1526.5,332.5 1527.5,332.5 1528.5,332.5 1529.5,332.5 1530.5,332.5 1531.5,332.5 1532.5,332.5 1533.5,332.5 1534.5,332.5 1535.5,332.5 1536.5,332.5 1536.5,331.5 1537.5,331.5 1538.5,331.5 1538.5,330.5 1539.5,330.5 1540.5,329.5 1541.5,329.5 1541.5,328.5 1542.5,328.5 1543.5,327.5 1543.5,326.5 1544.5,326.5 1545.5,325.5 1546.5,324.5 1547.5,324.5 1547.5,323.5 1548.5,323.5 1549.5,322.5 1550.5,321.5 1551.5,321.5 1551.5,320.5 1552.5,320.5 1553.5,319.5 1554.5,318.5 1555.5,318.5 1555.5,317.5 1556.5,317.5 1557.5,316.5 1558.5,315.5 1558.5,314.5 1559.5,314.5 1560.5,313.5 1561.5,312.5 1562.5,312.5 1562.5,311.5 1563.5,311.5 1564.5,311.5 1564.5,310.5 1565.5,310.5 1566.5,309.5 1567.5,308.5 1568.5,308.5 1568.5,307.5 1569.5,307.5 1570.5,306.5 1571.5,305.5 1572.5,305.5 1572.5,304.5 1573.5,303.5 1574.5,303.5 1574.5,302.5 1575.5,302.5 1575.5,301.5 1576.5,301.5 1577.5,300.5 1578.5,300.5 1579.5,299.5 1580.5,298.5 1581.5,298.5 1582.5,297.5 1583.5,297.5 1584.5,296.5 1585.5,296.5 1586.5,295.5 1587.5,295.5 1588.5,295.5 1589.5,294.5 1590.5,294.5 1591.5,294.5 1591.5,293.5 1592.5,293.5 1593.5,293.5 1594.5,293.5 1595.5,293.5 1596.5,292.5 1597.5,292.5 1598.5,292.5 1599.5,292.5 1600.5,292.5 1601.5,291.5 1602.5,291.5 1603.5,291.5 1604.5,291.5 1605.5,292.5 1606.5,292.5 1607.5,292.5 1608.5,292.5 1609.5,292.5 1609.5,293.5 1610.5,293.5 1611.5,293.5 1612.5,293.5 1613.5,293.5 1614.5,293.5 1615.5,293.5 1616.5,293.5 1617.5,294.5 1618.5,294.5 1619.5,294.5 1620.5,294.5 1621.5,294.5 1622.5,294.5 1623.5,294.5 1624.5,294.5 1625.5,294.5 1626.5,294.5 1626.5,293.5 1627.5,293.5 1628.5,293.5 1629.5,293.5 1630.5,293.5 1631.5,293.5 1632.5,293.5 1632.5,292.5 1633.5,292.5 1634.5,292.5 1635.5,292.5 1636.5,292.5 1637.5,292.5 1638.5,292.5 1639.5,292.5 1640.5,292.5 1641.5,292.5 1642.5,292.5 1643.5,292.5 1644.5,292.5 1645.5,292.5 1645.5,291.5 1646.5,291.5 1647.5,291.5 1648.5,291.5 1649.5,291.5 1650.5,290.5 1651.5,290.5 1652.5,290.5 1653.5,289.5 1654.5,289.5 1655.5,288.5 1656.5,288.5 1657.5,287.5 1658.5,287.5 1659.5,286.5 1660.5,286.5 1660.5,285.5 1661.5,285.5 1662.5,285.5 1663.5,284.5 1664.5,284.5 1665.5,283.5 1666.5,283.5 1667.5,282.5 1668.5,282.5 1669.5,282.5 1670.5,281.5 1671.5,281.5 1672.5,280.5 1673.5,280.5 1674.5,279.5 1675.5,279.5 1676.5,279.5 1677.5,278.5 1678.5,278.5 1679.5,278.5 1680.5,277.5 1681.5,277.5 1682.5,277.5 1683.5,277.5 1683.5,276.5 1684.5,276.5 1685.5,276.5 1686.5,276.5 1687.5,276.5 1688.5,275.5 1689.5,275.5 1690.5,275.5 1691.5,275.5 1692.5,275.5 1693.5,275.5 1693.5,274.5 1694.5,274.5 1695.5,274.5 1696.5,274.5 1697.5,274.5 1698.5,274.5 1699.5,274.5 1700.5,274.5 1701.5,274.5 1702.5,274.5"/>
<polyline stroke="#000080" points="37.5,813.5 38.5,812.5 39.5,812.5 40.5,812.5 41.5,812.5 42.5,812.5 43.5,811.5 44.5,811.5 44.5,810.5 45.5,810.5 46.5,810.5 47.5,810.5 48.5,809.5 49.5,809.5 50.5,809.5 50.5,808.5 51.5,808.5 52.5,808.5 53.5,808.5 54.5,808.5 55.5,808.5 56.5,807.5 57.5,807.5 58.5,807.5 59.5,807.5 60.5,807.5 61.5,808.5 62.5,808.5 63.5,808.5 64.5,808.5 65.5,808.5 66.5,808.5 67.5,808.5 68.5,808.5 69.5,808.5 69.5,809.5 70.5,809.5 71.5,809.5 72.5,809.5 73.5,809.5 73.5,808.5 74.5,808.5 75.5,808.5 76.5,808.5 77.5,808.5 78.5,808.5 79.5,807.5 80.5,807.5 81.5,807.5 82.5,807.5 82.5,806.5 83.5,806.5 84.5,806.5 85.5,805.5 86.5,805.5 87.5,805.5 88.5,804.5 89.5,804.5 90.5,804.5 91.5,804.5 92.5,804.5 93.5,804.5 94.5,803.5 95.5,803.5 96.5,803.5 97.5,803.5 98.5,802.5 99.5,802.5 100.5,802.5 101.5,802.5 101.5,801.5 102.5,801.5 103.5,800.5 104.5,799.5 105.5,799.5 105.5,798.5 106.5,797.5 107.5,797.5 107.5,796.5 108.5,795.5 109.5,794.5 109.5,793.5 110.5,792.5 111.5,791.5 111.5,789.5 112.5,788.5 112.5,787.5 113.5,786.5 114.5,786.5 114.5,785.5 115.5,784.5 116.5,783.5 117.5,782.5 118.5,781.5 118.5,780.5 119.5,779.5 120.5,779.5 120.5,778.5 121.5,778.5 122.5,777.5 122.5,776.5 123.5,775.5 124.5,775.5 124.5,774.5 125.5,773.5 126.5,773.5 126.5,772.5 127.5,771.5 128.5,771.5 128.5,770.5 129.5,770.5 129.5,769.5 130.5,768.5 131.5,768.5 131.5,767.5 132.5,767.5 133.5,767.5 133.5,766.5 134.5,766.5 135.5,766.5 136.5,766.5 137.5,766.5 138.5,766.5 139.5,766.5 140.5,766.5 141.5,766.5 142.5,767.5 143.5,767.5 143.5,768.5 144.5,768.5 145.5,769.5 146.5,769.5 147.5,769.5 148.5,769.5 149.5,770.5 150.5,770.5 151.5,770.5 152.5,770.5 153.5,770.5 154.5,771.5 155.5,771.5 156.5,771.5 157.5,771.5 158.5,772.5 159.5,772.5 160.5,772.5 161.5,772.5 162.5,773.5 163.5,773.5 164.5,773.5 165.5,772.5 166.5,772.5 167.5,772.5 168.5,771.5 169.5,771.5 170.5,771.5 171.5,770.5 172.5,770.5 173.5,769.5 174.5,769.5 175.5,768.5 176.5,767.5 177.5,767.5 178.5,766.5 179.5,766.5 180.5,765.5 181.5,765.5 182.5,764.5 183.5,763.5 184.5,763.5 185.5,762.5 186.5,762.5 187.5,761.5 188.5,761.5 188.5,760.5 189.5,760.5 190.5,760.5 190.5,759.5 191.5,759.5 192.5,758.5 193.5,757.5 194.5,757.5 195.5,756.5 196.5,756.5 196.5,755.5 197.5,755.5 197.5,754.5 198.5,754.5 199.5,753.5 200.5,752.5 201.5,751.5 201.5,750.5 202.5,749.5 203.5,748.5 203.5,747.5 204.5,747.5 205.5,746.5 205.5,745.5 206.5,745.5 207.5,745.5 208.5,744.5 209.5,744.5 210.5,743.5 211.5,743.5 212.5,742.5 213.5,742.5 213.5,741.5 214.5,741.5 214.5,740.5 215.5,740.5 216.5,740.5 216.5,739.5 217.5,739.5 218.5,738.5 219.5,737.5 220.5,736.5 221.5,735.5 222.5,735.5 222.5,734.5 223.5,733.5 224.5,733.5 224.5,732.5 225.5,732.5 226.5,731.5 226.5,730.5 227.5,729.5 228.5,729.5 228.5,728.5 229.5,727.5 230.5,726.5 230.5,725.5 231.5,724.5 232.5,724.5 232.5,723.5 233.5,722.5 234.5,721.5 235.5,721.5 235.5,720.5 236.5,720.5 237.5,720.5 238.5,720.5 239.5,720.5 239.5,719.5 240.5,719.5 241.5,718.5 242.5,717.5 243.5,717.5 244.5,716.5 245.5,716.5 245.5,715.5 246.5,715.5 247.5,714.5 248.5,714.5 249.5,713.5 250.5,712.5 251.5,711.5 252.5,711.5 252.5,710.5 253.5,710.5 254.5,709.5 255.5,708.5 256.5,708.5 256.5,707.5 257.5,706.5 258.5,705.5 258.5,704.5 259.5,703.5 260.5,702.5 261.5,701.5 262.5,700.5 262.5,699.5 263.5,698.5 264.5,696.5 264.5,695.5 265.5,693.5 266.5,692.5 266.5,690.5 267.5,688.5 267.5,687.5 268.5,685.5 269.5,683.5 269.5,681.5 270.5,679.5 271.5,677.5 271.5,675.5 272.5,673.5 273.5,671.5 273.5,669.5 274.5,667.5 275.5,665.5 275.5,664.5 276.5,662.5 277.5,661.5 277.5,659.5 278.5,658.5 279.5,656.5 279.5,655.5 280.5,654.5 281.5,652.5 281.5,651.5 282.5,650.5 283.5,649.5 283.5,648.5 284.5,646.5 284.5,645.5 285.5,644.5 286.5,643.5 286.5,642.5 287.5,641.5 288.5,641.5 288.5,640.5 289.5,639.5 290.5,638.5 291.5,637.5 292.5,636.5 292.5,635.5 293.5,635.5 294.5,634.5 294.5,633.5 295.5,633.5 296.5,632.5 296.5,631.5 297.5,631.5 298.5,630.5 298.5,629.5 299.5,628.5 300.5,627.5 300.5,626.5 301.5,625.5 301.5,624.5 302.5,623.5 303.5,622.5 303.5,621.5 304.5,620.5 305.5,619.5 305.5,618.5 306.5,617.5 307.5,616.5 307.5,615.5 308.5,614.5 309.5,613.5 309.5,612.5 310.5,610.5 311.5,609.5 311.5,608.5 312.5,607.5 313.5,606.5 313.5,605.5 314.5,605.5 315.5,604.5 315.5,603.5 316.5,603.5 317.5,602.5 318.5,601.5 318.5,600.5 319.5,599.5 320.5,599.5 320.5,598.5 321.5,597.5 322.5,597.5 322.5,596.5 323.5,595.5 324.5,594.5 325.5,593.5 326.5,592.5 326.5,591.5 327.5,591.5 328.5,590.5 328.5,589.5 329.5,588.5 330.5,587.5 330.5,586.5 331.5,585.5 332.5,584.5 332.5,583.5 333.5,582.5 334.5,582.5 334.5,581.5 335.5,580.5 336.5,579.5 337.5,578.5 337.5,577.5 338.5,576.5 339.5,575.5 339.5,574.5 340.5,573.5 341.5,572.5 341.5,571.5 342.5,570.5 343.5,569.5 343.5,568.5 344.5,567.5 345.5,566.5 345.5,565.5 346.5,564.5 347.5,563.5 347.5,562.5 348.5,560.5 349.5,559.5 349.5,557.5 350.5,556.5 351.5,554.5 351.5,553.5 352.5,551.5 352.5,550.5 353.5,548.5 354.5,546.5 354.5,543.5 355.5,541.5 356.5,537.5 356.5,534.5 357.5,531.5 358.5,528.5 358.5,525.5 359.5,521.5 360.5,519.5 360.5,516.5 361.5,514.5 362.5,512.5 362.5,510.5 363.5,508.5 364.5,506.5 364.5,504.5 365.5,502.5 366.5,500.5 366.5,499.5 367.5,497.5 368.5,495.5 368.5,494.5 369.5,492.5 369.5,490.5 370.5,489.5 371.5,488.5 371.5,486.5 372.5,486.5 373.5,485.5 373.5,484.5 374.5,483.5 375.5,483.5 375.5,482.5 376.5,481.5 377.5,481.5 377.5,480.5 378.5,480.5 379.5,479.5 380.5,479.5 381.5,478.5 382.5,478.5 383.5,478.5 384.5,479.5 385.5,479.5 386.5,479.5 387.5,480.5 388.5,480.5 388.5,481.5 389.5,482.5 390.5,483.5 390.5,484.5 391.5,485.5 392.5,486.5 392.5,487.5 393.5,487.5 394.5,488.5 394.5,489.5 395.5,489.5 396.5,490.5 396.5,491.5 397.5,492.5 398.5,493.5 399.5,494.5 400.5,496.5 400.5,497.5 401.5,498.5 402.5,500.5 402.5,501.5 403.5,502.5 404.5,504.5 404.5,505.5 405.5,506.5 405.5,507.5 406.5,508.5 407.5,508.5 407.5,509.5 408.5,510.5 409.5,511.5 409.5,512.5 410.5,513.5 411.5,513.5 411.5,514.5 412.5,515.5 413.5,516.5 414.5,516.5 415.5,517.5 415.5,516.5 416.5,516.5 417.5,516.5 418.5,515.5 419.5,515.5 420.5,515.5 421.5,516.5 422.5,516.5 423.5,517.5 424.5,517.5 425.5,518.5 426.5,518.5 426.5,519.5 427.5,519.5 428.5,520.5 429.5,521.5 430.5,521.5 430.5,522.5 431.5,522.5 432.5,522.5 432.5,523.5 433.5,523.5 434.5,523.5 435.5,524.5 436.5,524.5 437.5,524.5 438.5,524.5 439.5,524.5 440.5,524.5 441.5,524.5 442.5,524.5 443.5,524.5 444.5,524.5 445.5,524.5 446.5,525.5 447.5,525.5 448.5,526.5 449.5,526.5 449.5,527.5 450.5,528.5 451.5,528.5 451.5,529.5 452.5,530.5 453.5,530.5 453.5,531.5 454.5,532.5 455.5,533.5 456.5,534.5 456.5,535.5 457.5,535.5 458.5,536.5 459.5,537.5 460.5,537.5 461.5,537.5 462.5,538.5 463.5,538.5 464.5,538.5 465.5,538.5 466.5,538.5 466.5,539.5 467.5,539.5 468.5,539.5 469.5,540.5 470.5,540.5 471.5,540.5 472.5,541.5 473.5,541.5 473.5,542.5 474.5,542.5 475.5,542.5 476.5,542.5 477.5,542.5 478.5,542.5 479.5,541.5 480.5,541.5 481.5,541.5 481.5,540.5 482.5,540.5 483.5,540.5 484.5,540.5 485.5,540.5 486.5,540.5 487.5,540.5 488.5,540.5 489.5,540.5 490.5,540.5 490.5,541.5 491.5,541.5 492.5,541.5 492.5,542.5 493.5,542.5 494.5,542.5 494.5,543.5 495.5,543.5 496.5,544.5 497.5,545.5 498.5,545.5 499.5,545.5 500.5,545.5 501.5,546.5 502.5,546.5 503.5,545.5 504.5,545.5 505.5,545.5 506.5,545.5 507.5,545.5 508.5,545.5 509.5,545.5 510.5,545.5 511.5,546.5 512.5,546.5 513.5,546.5 514.5,547.5 515.5,547.5 516.5,548.5 517.5,548.5 517.5,549.5 518.5,549.5 519.5,550.5 520.5,551.5 521.5,552.5 521.5,553.5 522.5,554.5 523.5,554.5 523.5,555.5 524.5,556.5 524.5,557.5 525.5,558.5 526.5,559.5 526.5,560.5 527.5,561.5 528.5,562.5 528.5,563.5 529.5,564.5 530.5,565.5 530.5,566.5 531.5,567.5 532.5,568.5 532.5,569.5 533.5,570.5 534.5,570.5 534.5,571.5 535.5,573.5 536.5,574.5 536.5,575.5 537.5,576.5 538.5,577.5 538.5,578.5 539.5,579.5 540.5,580.5 540.5,581.5 541.5,582.5 541.5,583.5 542.5,584.5 543.5,585.5 543.5,587.5 544.5,588.5 545.5,589.5 545.5,591.5 546.5,592.5 547.5,593.5 547.5,594.5 548.5,595.5 549.5,596.5 549.5,597.5 550.5,597.5 551.5,598.5 552.5,599.5 553.5,599.5 554.5,600.5 555.5,600.5 556.5,600.5 557.5,600.5 558.5,600.5 559.5,600.5 560.5,600.5 561.5,599.5 562.5,599.5 563.5,599.5 564.5,599.5 565.5,600.5 566.5,600.5 567.5,600.5 568.5,599.5 569.5,599.5 570.5,600.5 571.5,600.5 572.5,600.5 573.5,600.5 574.5,600.5 574.5,599.5 575.5,599.5 576.5,599.5 577.5,599.5 578.5,599.5 579.5,598.5 580.5,597.5 581.5,596.5 581.5,595.5 582.5,595.5 583.5,594.5 583.5,593.5 584.5,592.5 585.5,591.5 586.5,590.5 587.5,589.5 587.5,588.5 588.5,587.5 589.5,586.5 590.5,585.5 591.5,584.5 591.5,583.5 592.5,583.5 593.5,582.5 594.5,581.5 594.5,580.5 595.5,580.5 596.5,579.5 596.5,578.5 597.5,577.5 598.5,575.5 598.5,574.5 599.5,572.5 600.5,570.5 600.5,569.5 601.5,568.5 602.5,566.5 602.5,564.5 603.5,563.5 604.5,561.5 604.5,560.5 605.5,558.5 606.5,557.5 606.5,555.5 607.5,554.5 608.5,553.5 608.5,551.5 609.5,550.5 610.5,549.5 610.5,548.5 611.5,547.5 611.5,546.5 612.5,545.5 613.5,544.5 613.5,543.5 614.5,542.5 615.5,541.5 615.5,539.5 616.5,538.5 617.5,537.5 617.5,535.5 618.5,534.5 619.5,532.5 619.5,530.5 620.5,529.5 621.5,527.5 621.5,526.5 622.5,524.5 623.5,523.5 623.5,521.5 624.5,520.5 625.5,518.5 625.5,517.5 626.5,515.5 627.5,514.5 627.5,513.5 628.5,512.5 628.5,510.5 629.5,510.5 630.5,509.5 630.5,508.5 631.5,508.5 632.5,508.5 632.5,507.5 633.5,507.5 634.5,506.5 635.5,506.5 636.5,505.5 637.5,504.5 638.5,504.5 638.5,503.5 639.5,503.5 640.5,502.5 641.5,501.5 642.5,501.5 642.5,500.5 643.5,499.5 644.5,499.5 645.5,498.5 646.5,497.5 647.5,497.5 648.5,497.5 649.5,497.5 650.5,497.5 651.5,497.5 651.5,498.5 652.5,498.5 653.5,498.5 654.5,498.5 655.5,499.5 656.5,499.5 657.5,500.5 658.5,500.5 659.5,501.5 660.5,501.5 661.5,501.5 661.5,502.5 662.5,502.5 663.5,503.5 664.5,503.5 665.5,504.5 666.5,504.5 667.5,504.5 668.5,505.5 669.5,506.5 670.5,506.5 670.5,507.5 671.5,507.5 672.5,508.5 672.5,509.5 673.5,509.5 674.5,510.5 675.5,511.5 676.5,512.5 677.5,513.5 678.5,513.5 679.5,513.5 679.5,514.5 680.5,514.5 681.5,514.5 682.5,514.5 683.5,514.5 683.5,515.5 684.5,515.5 685.5,515.5 685.5,516.5 686.5,516.5 687.5,516.5 687.5,517.5 688.5,518.5 689.5,518.5 689.5,519.5 690.5,519.5 691.5,520.5 691.5,521.5 692.5,521.5 693.5,522.5 694.5,523.5 695.5,523.5 696.5,523.5 696.5,524.5 697.5,524.5 698.5,524.5 699.5,525.5 700.5,525.5 700.5,526.5 701.5,526.5 702.5,526.5 702.5,527.5 703.5,527.5 704.5,527.5 705.5,528.5 706.5,528.5 707.5,528.5 708.5,528.5 709.5,528.5 710.5,529.5 711.5,529.5 712.5,529.5 712.5,530.5 713.5,530.5 713.5,531.5 714.5,531.5 715.5,531.5 716.5,531.5 717.5,531.5 718.5,531.5 719.5,531.5 720.5,531.5 721.5,531.5 721.5,530.5 722.5,530.5 723.5,529.5 724.5,528.5 725.5,527.5 726.5,526.5 727.5,526.5 727.5,525.5 728.5,524.5 729.5,524.5 729.5,523.5 730.5,522.5 731.5,522.5 731.5,521.5 732.5,520.5 733.5,519.5 734.5,519.5 734.5,518.5 735.5,518.5 736.5,518.5 736.5,517.5 737.5,517.5 738.5,517.5 738.5,516.5 739.5,516.5 740.5,515.5 741.5,516.5 742.5,516.5 742.5,517.5 743.5,517.5 744.5,518.5 745.5,518.5 746.5,519.5 747.5,519.5 748.5,520.5 749.5,521.5 750.5,522.5 751.5,522.5 752.5,523.5 753.5,523.5 753.5,524.5 754.5,524.5 755.5,525.5 755.5,526.5 756.5,527.5 757.5,527.5 757.5,528.5 758.5,529.5 759.5,529.5 759.5,530.5 760.5,531.5 761.5,531.5 761.5,532.5 762.5,533.5 763.5,533.5 764.5,533.5 765.5,534.5 766.5,533.5 767.5,533.5 768.5,533.5 769.5,532.5 770.5,532.5 771.5,532.5 772.5,532.5 773.5,531.5 774.5,530.5 775.5,529.5 776.5,528.5 776.5,527.5 777.5,526.5 778.5,525.5 779.5,524.5 780.5,523.5 781.5,522.5 782.5,521.5 783.5,520.5 783.5,519.5 784.5,519.5 785.5,518.5 786.5,517.5 787.5,517.5 787.5,516.5 788.5,515.5 789.5,515.5 789.5,514.5 790.5,514.5 791.5,513.5 792.5,512.5 793.5,512.5 793.5,511.5 794.5,511.5 795.5,511.5 796.5,510.5 797.5,510.5 798.5,510.5 799.5,510.5 800.5,511.5 801.5,511.5 802.5,511.5 803.5,510.5 804.5,510.5 805.5,510.5 806.5,509.5 807.5,508.5 808.5,508.5 809.5,507.5 810.5,507.5 810.5,506.5 811.5,506.5 812.5,505.5 813.5,505.5 814.5,504.5 815.5,503.5 816.5,503.5 816.5,502.5 817.5,502.5 817.5,501.5 818.5,501.5 819.5,501.5 819.5,500.5 820.5,500.5 821.5,499.5 822.5,499.5 823.5,498.5 824.5,498.5 825.5,498.5 826.5,497.5 827.5,497.5 828.5,497.5 829.5,497.5 829.5,496.5 830.5,496.5 831.5,496.5 832.5,496.5 833.5,496.5 833.5,495.5 834.5,495.5 835.5,495.5 836.5,495.5 837.5,495.5 838.5,495.5 839.5,495.5 840.5,495.5 841.5,495.5 842.5,495.5 842.5,494.5 843.5,494.5 844.5,494.5 845.5,494.5 846.5,494.5 846.5,493.5 847.5,493.5 848.5,493.5 849.5,492.5 850.5,492.5 851.5,491.5 851.5,490.5 852.5,490.5 853.5,489.5 854.5,488.5 855.5,488.5 855.5,487.5 856.5,486.5 857.5,485.5 857.5,484.5 858.5,483.5 859.5,482.5 859.5,481.5 860.5,480.5 861.5,479.5 861.5,477.5 862.5,476.5 863.5,475.5 863.5,474.5 864.5,473.5 865.5,472.5 865.5,471.5 866.5,470.5 867.5,469.5 867.5,468.5 868.5,467.5 868.5,466.5 869.5,465.5 870.5,464.5 870.5,462.5 871.5,461.5 872.5,460.5 872.5,459.5 873.5,458.5 874.5,456.5 874.5,455.5 875.5,454.5 876.5,452.5 876.5,451.5 877.5,449.5 878.5,448.5 878.5,446.5 879.5,444.5 880.5,442.5 880.5,440.5 881.5,438.5 882.5,436.5 882.5,434.5 883.5,431.5 884.5,429.5 884.5,428.5 885.5,426.5 886.5,424.5 886.5,422.5 887.5,421.5 887.5,419.5 888.5,418.5 889.5,417.5 889.5,415.5 890.5,414.5 891.5,413.5 891.5,412.5 892.5,411.5 893.5,410.5 893.5,409.5 894.5,408.5 895.5,406.5 895.5,405.5 896.5,403.5 897.5,401.5 897.5,399.5 898.5,397.5 899.5,396.5 899.5,394.5 900.5,392.5 901.5,390.5 901.5,388.5 902.5,386.5 903.5,385.5 903.5,383.5 904.5,381.5 904.5,380.5 905.5,379.5 906.5,377.5 906.5,376.5 907.5,375.5 908.5,373.5 908.5,372.5 909.5,371.5 910.5,369.5 910.5,368.5 911.5,367.5 912.5,366.5 912.5,365.5 913.5,364.5 914.5,363.5 914.5,362.5 915.5,361.5 916.5,361.5 916.5,360.5 917.5,359.5 918.5,358.5 918.5,357.5 919.5,357.5 920.5,356.5 920.5,355.5 921.5,354.5 921.5,353.5 922.5,352.5 923.5,351.5 923.5,350.5 924.5,349.5 925.5,348.5 925.5,347.5 926.5,346.5 927.5,345.5 928.5,344.5 929.5,344.5 929.5,343.5 930.5,343.5 931.5,343.5 932.5,343.5 933.5,343.5 933.5,342.5 934.5,342.5 935.5,342.5 936.5,342.5 937.5,342.5 938.5,341.5 939.5,341.5 940.5,341.5 941.5,341.5 942.5,341.5 942.5,342.5 943.5,343.5 944.5,343.5 944.5,344.5 945.5,344.5 946.5,345.5 946.5,346.5 947.5,346.5 948.5,347.5 948.5,348.5 949.5,348.5 950.5,349.5 950.5,350.5 951.5,351.5 952.5,351.5 952.5,352.5 953.5,353.5 954.5,353.5 954.5,354.5 955.5,355.5 955.5,356.5 956.5,357.5 957.5,358.5 957.5,359.5 958.5,360.5 959.5,361.5 959.5,362.5 960.5,363.5 961.5,364.5 961.5,365.5 962.5,366.5 963.5,367.5 963.5,368.5 964.5,369.5 965.5,370.5 966.5,371.5 967.5,372.5 967.5,374.5 968.5,375.5 969.5,376.5 969.5,377.5 970.5,378.5 971.5,379.5 971.5,380.5 972.5,382.5 972.5,383.5 973.5,384.5 974.5,384.5 974.5,385.5 975.5,385.5 976.5,385.5 977.5,385.5 978.5,385.5 979.5,384.5 980.5,384.5 981.5,384.5 982.5,383.5 983.5,382.5 984.5,382.5 985.5,381.5 986.5,381.5 986.5,380.5 987.5,380.5 988.5,379.5 989.5,378.5 989.5,377.5 990.5,377.5 991.5,376.5 991.5,375.5 992.5,374.5 993.5,374.5 993.5,373.5 994.5,372.5 995.5,372.5 995.5,371.5 996.5,370.5 997.5,370.5 997.5,369.5 998.5,369.5 999.5,368.5 999.5,367.5 1000.5,367.5 1001.5,366.5 1002.5,365.5 1003.5,365.5 1003.5,364.5 1004.5,364.5 1005.5,363.5 1006.5,362.5 1007.5,361.5 1008.5,361.5 1008.5,360.5 1009.5,359.5 1010.5,359.5 1010.5,358.5 1011.5,357.5 1012.5,357.5 1012.5,356.5 1013.5,355.5 1014.5,355.5 1014.5,354.5 1015.5,353.5 1016.5,353.5 1016.5,352.5 1017.5,351.5 1018.5,351.5 1018.5,350.5 1019.5,350.5 1020.5,349.5 1021.5,348.5 1022.5,348.5 1022.5,347.5 1023.5,347.5 1023.5,346.5 1024.5,345.5 1025.5,345.5 1025.5,344.5 1026.5,344.5 1027.5,343.5 1028.5,343.5 1029.5,342.5 1030.5,342.5 1031.5,341.5 1032.5,341.5 1033.5,340.5 1034.5,340.5 1035.5,339.5 1036.5,338.5 1037.5,338.5 1038.5,338.5 1039.5,337.5 1040.5,337.5 1040.5,338.5 1041.5,338.5 1042.5,338.5 1043.5,339.5 1044.5,339.5 1045.5,339.5 1046.5,340.5 1047.5,341.5 1048.5,341.5 1048.5,342.5 1049.5,342.5 1050.5,343.5 1050.5,344.5 1051.5,344.5 1052.5,345.5 1053.5,346.5 1054.5,347.5 1055.5,348.5 1056.5,349.5 1056.5,350.5 1057.5,351.5 1058.5,352.5 1059.5,353.5 1059.5,354.5 1060.5,355.5 1061.5,356.5 1061.5,357.5 1062.5,357.5 1063.5,358.5 1063.5,359.5 1064.5,360.5 1065.5,361.5 1066.5,362.5 1067.5,362.5 1067.5,363.5 1068.5,363.5 1069.5,364.5 1070.5,365.5 1071.5,365.5 1072.5,366.5 1073.5,366.5 1073.5,367.5 1074.5,367.5 1075.5,367.5 1075.5,368.5 1076.5,368.5 1077.5,368.5 1078.5,369.5 1079.5,370.5 1080.5,370.5 1081.5,371.5 1082.5,371.5 1083.5,371.5 1084.5,371.5 1085.5,372.5 1086.5,372.5 1087.5,372.5 1088.5,371.5 1089.5,371.5 1090.5,371.5 1091.5,370.5 1092.5,370.5 1093.5,369.5 1094.5,369.5 1095.5,369.5 1096.5,368.5 1097.5,368.5 1098.5,368.5 1099.5,368.5 1100.5,368.5 1101.5,369.5 1102.5,369.5 1103.5,369.5 1104.5,369.5 1105.5,369.5 1106.5,369.5 1107.5,369.5 1107.5,370.5 1108.5,370.5 1109.5,370.5 1109.5,371.5 1110.5,372.5 1111.5,373.5 1112.5,373.5 1112.5,374.5 1113.5,374.5 1114.5,375.5 1115.5,376.5 1116.5,376.5 1116.5,377.5 1117.5,378.5 1118.5,378.5 1118.5,379.5 1119.5,379.5 1120.5,380.5 1120.5,381.5 1121.5,381.5 1122.5,382.5 1122.5,383.5 1123.5,384.5 1124.5,385.5 1124.5,386.5 1125.5,387.5 1126.5,388.5 1126.5,389.5 1127.5,390.5 1127.5,391.5 1128.5,392.5 1129.5,394.5 1129.5,395.5 1130.5,396.5 1131.5,397.5 1131.5,399.5 1132.5,400.5 1133.5,401.5 1133.5,402.5 1134.5,404.5 1135.5,405.5 1135.5,406.5 1136.5,408.5 1137.5,409.5 1137.5,410.5 1138.5,412.5 1139.5,413.5 1139.5,414.5 1140.5,416.5 1141.5,417.5 1142.5,418.5 1143.5,418.5 1143.5,419.5 1144.5,419.5 1144.5,420.5 1145.5,420.5 1146.5,421.5 1147.5,422.5 1148.5,423.5 1149.5,424.5 1150.5,424.5 1150.5,425.5 1151.5,425.5 1152.5,426.5 1153.5,427.5 1154.5,427.5 1154.5,428.5 1155.5,429.5 1156.5,429.5 1156.5,430.5 1157.5,430.5 1158.5,431.5 1159.5,431.5 1160.5,431.5 1161.5,431.5 1162.5,431.5 1163.5,430.5 1164.5,430.5 1165.5,430.5 1166.5,430.5 1167.5,430.5 1168.5,429.5 1169.5,429.5 1170.5,429.5 1171.5,429.5 1172.5,429.5 1173.5,429.5 1174.5,429.5 1175.5,429.5 1175.5,430.5 1176.5,430.5 1177.5,430.5 1177.5,431.5 1178.5,431.5 1179.5,431.5 1180.5,432.5 1181.5,432.5 1182.5,432.5 1182.5,433.5 1183.5,433.5 1184.5,433.5 1184.5,434.5 1185.5,434.5 1186.5,435.5 1187.5,435.5 1188.5,436.5 1189.5,436.5 1190.5,437.5 1191.5,437.5 1192.5,437.5 1193.5,437.5 1194.5,437.5 1195.5,438.5 1196.5,438.5 1197.5,439.5 1198.5,439.5 1199.5,440.5 1200.5,441.5 1201.5,441.5 1201.5,442.5 1202.5,442.5 1203.5,443.5 1204.5,443.5 1205.5,444.5 1206.5,444.5 1207.5,445.5 1208.5,445.5 1209.5,446.5 1210.5,446.5 1211.5,446.5 1211.5,447.5 1212.5,447.5 1213.5,447.5 1214.5,448.5 1215.5,448.5 1216.5,448.5 1216.5,449.5 1217.5,449.5 1218.5,449.5 1218.5,450.5 1219.5,450.5 1220.5,450.5 1221.5,451.5 1222.5,451.5 1223.5,452.5 1224.5,452.5 1225.5,452.5 1226.5,452.5 1227.5,452.5 1228.5,452.5 1228.5,451.5 1229.5,451.5 1230.5,450.5 1231.5,449.5 1231.5,448.5 1232.5,448.5 1233.5,447.5 1233.5,446.5 1234.5,446.5 1235.5,445.5 1235.5,444.5 1236.5,444.5 1237.5,443.5 1237.5,442.5 1238.5,442.5 1239.5,441.5 1240.5,440.5 1241.5,439.5 1242.5,438.5 1243.5,438.5 1243.5,437.5 1244.5,436.5 1245.5,436.5 1245.5,435.5 1246.5,435.5 1247.5,434.5 1248.5,433.5 1248.5,432.5 1249.5,432.5 1250.5,431.5 1251.5,431.5 1252.5,430.5 1253.5,429.5 1254.5,428.5 1255.5,427.5 1256.5,426.5 1256.5,425.5 1257.5,425.5 1258.5,424.5 1258.5,423.5 1259.5,423.5 1260.5,422.5 1261.5,421.5 1262.5,421.5 1262.5,420.5 1263.5,420.5 1264.5,420.5 1264.5,419.5 1265.5,419.5 1265.5,418.5 1266.5,418.5 1267.5,417.5 1268.5,416.5 1269.5,416.5 1269.5,415.5 1270.5,415.5 1271.5,414.5 1272.5,414.5 1273.5,413.5 1274.5,413.5 1275.5,412.5 1276.5,412.5 1277.5,412.5 1277.5,411.5 1278.5,411.5 1279.5,411.5 1279.5,410.5 1280.5,410.5 1281.5,410.5 1281.5,409.5 1282.5,409.5 1283.5,408.5 1284.5,408.5 1285.5,407.5 1286.5,407.5 1287.5,407.5 1288.5,407.5 1289.5,407.5 1290.5,407.5 1291.5,407.5 1292.5,407.5 1293.5,408.5 1294.5,408.5 1295.5,408.5 1296.5,408.5 1297.5,409.5 1298.5,409.5 1299.5,409.5 1300.5,409.5 1301.5,409.5 1302.5,409.5 1303.5,409.5 1304.5,409.5 1305.5,409.5 1306.5,408.5 1307.5,408.5 1308.5,408.5 1309.5,408.5 1310.5,408.5 1311.5,407.5 1312.5,407.5 1313.5,407.5 1314.5,407.5 1315.5,407.5 1316.5,407.5 1317.5,406.5 1318.5,406.5 1319.5,406.5 1320.5,406.5 1321.5,406.5 1322.5,405.5 1323.5,405.5 1324.5,405.5 1325.5,405.5 1326.5,405.5 1327.5,405.5 1328.5,405.5 1329.5,405.5 1330.5,405.5 1330.5,404.5 1331.5,404.5 1332.5,405.5 1333.5,405.5 1334.5,406.5 1335.5,406.5 1336.5,407.5 1337.5,407.5 1338.5,408.5 1339.5,408.5 1340.5,408.5 1341.5,409.5 1342.5,409.5 1343.5,409.5 1343.5,410.5 1344.5,410.5 1345.5,410.5 1346.5,410.5 1347.5,411.5 1348.5,411.5 1349.5,411.5 1350.5,411.5 1351.5,412.5 1352.5,412.5 1353.5,412.5 1354.5,412.5 1355.5,412.5 1356.5,412.5 1357.5,412.5 1358.5,412.5 1358.5,411.5 1359.5,411.5 1360.5,410.5 1361.5,409.5 1362.5,408.5 1363.5,407.5 1364.5,407.5 1364.5,406.5 1365.5,405.5 1366.5,405.5 1366.5,404.5 1367.5,403.5 1367.5,402.5 1368.5,402.5 1369.5,401.5 1369.5,400.5 1370.5,399.5 1371.5,399.5 1371.5,398.5 1372.5,397.5 1373.5,396.5 1374.5,395.5 1375.5,394.5 1376.5,393.5 1377.5,392.5 1377.5,391.5 1378.5,390.5 1379.5,389.5 1379.5,388.5 1380.5,387.5 1381.5,387.5 1381.5,386.5 1382.5,385.5 1383.5,384.5 1383.5,383.5 1384.5,383.5 1385.5,382.5 1385.5,381.5 1386.5,380.5 1386.5,379.5 1387.5,379.5 1388.5,378.5 1388.5,377.5 1389.5,376.5 1390.5,376.5 1390.5,375.5 1391.5,375.5 1392.5,374.5 1393.5,373.5 1394.5,373.5 1394.5,372.5 1395.5,372.5 1396.5,371.5 1397.5,370.5 1398.5,370.5 1399.5,370.5 1400.5,369.5 1401.5,369.5 1402.5,369.5 1403.5,369.5 1403.5,368.5 1404.5,368.5 1405.5,368.5 1406.5,368.5 1407.5,367.5 1408.5,367.5 1409.5,366.5 1410.5,366.5 1411.5,365.5 1412.5,365.5 1413.5,364.5 1414.5,364.5 1415.5,363.5 1416.5,362.5 1417.5,361.5 1418.5,360.5 1419.5,359.5 1419.5,358.5 1420.5,357.5 1420.5,356.5 1421.5,355.5 1422.5,354.5 1422.5,353.5 1423.5,352.5 1424.5,351.5 1424.5,350.5 1425.5,349.5 1426.5,348.5 1427.5,347.5 1428.5,346.5 1429.5,345.5 1430.5,344.5 1430.5,343.5 1431.5,342.5 1432.5,342.5 1432.5,341.5 1433.5,340.5 1434.5,339.5 1434.5,338.5 1435.5,337.5 1436.5,336.5 1436.5,335.5 1437.5,334.5 1437.5,333.5 1438.5,333.5 1439.5,332.5 1439.5,331.5 1440.5,331.5 1441.5,330.5 1442.5,329.5 1443.5,329.5 1443.5,328.5 1444.5,328.5 1445.5,328.5 1445.5,327.5 1446.5,327.5 1447.5,327.5 1448.5,327.5 1449.5,327.5 1450.5,326.5 1451.5,326.5 1451.5,327.5 1452.5,327.5 1453.5,327.5 1454.5,327.5 1455.5,327.5 1456.5,327.5 1456.5,328.5 1457.5,328.5 1458.5,328.5 1458.5,327.5 1459.5,327.5 1460.5,327.5 1461.5,327.5 1462.5,327.5 1463.5,327.5 1464.5,327.5 1464.5,326.5 1465.5,326.5 1466.5,326.5 1467.5,326.5 1468.5,326.5 1469.5,327.5 1470.5,327.5 1471.5,327.5 1472.5,327.5 1473.5,327.5 1474.5,327.5 1475.5,327.5 1476.5,328.5 1477.5,328.5 1478.5,328.5 1479.5,328.5 1480.5,328.5 1481.5,328.5 1482.5,328.5 1483.5,328.5 1484.5,328.5 1485.5,328.5 1486.5,328.5 1487.5,328.5 1488.5,328.5 1489.5,328.5 1490.5,328.5 1491.5,329.5 1492.5,329.5 1493.5,330.5 1494.5,330.5 1495.5,331.5 1496.5,331.5 1496.5,332.5 1497.5,332.5 1498.5,332.5 1498.5,333.5 1499.5,333.5 1500.5,333.5 1501.5,334.5 1502.5,334.5 1503.5,334.5 1504.5,334.5 1505.5,335.5 1506.5,335.5 1507.5,335.5 1508.5,336.5 1509.5,336.5 1510.5,336.5 1511.5,336.5 1512.5,336.5 1513.5,336.5 1513.5,335.5 1514.5,335.5 1515.5,335.5 1516.5,335.5 1517.5,335.5 1518.5,335.5 1519.5,335.5 1520.5,336.5 1521.5,336.5 1522.5,336.5 1523.5,336.5 1524.5,336.5 1524.5,335.5 1525.5,335.5 1526.5,335.5 1526.5,334.5 1527.5,334.5 1528.5,334.5 1528.5,333.5 1529.5,333.5 1530.5,333.5 1530.5,332.5 1531.5,332.5 1532.5,331.5 1533.5,331.5 1534.5,330.5 1535.5,330.5 1536.5,329.5 1537.5,328.5 1538.5,327.5 1538.5,326.5 1539.5,325.5 1540.5,324.5 1540.5,323.5 1541.5,322.5 1541.5,321.5 1542.5,320.5 1543.5,319.5 1543.5,318.5 1544.5,317.5 1545.5,316.5 1545.5,315.5 1546.5,314.5 1547.5,313.5 1548.5,312.5 1549.5,311.5 1549.5,310.5 1550.5,309.5 1551.5,308.5 1551.5,307.5 1552.5,306.5 1553.5,305.5 1553.5,304.5 1554.5,303.5 1555.5,302.5 1555.5,301.5 1556.5,301.5 1557.5,300.5 1557.5,299.5 1558.5,299.5 1558.5,298.5 1559.5,297.5 1560.5,296.5 1561.5,295.5 1562.5,295.5 1562.5,294.5 1563.5,294.5 1564.5,293.5 1565.5,292.5 1566.5,292.5 1566.5,291.5 1567.5,291.5 1568.5,290.5 1569.5,289.5 1570.5,289.5 1570.5,288.5 1571.5,288.5 1572.5,288.5 1572.5,287.5 1573.5,287.5 1574.5,287.5 1575.5,287.5 1576.5,286.5 1577.5,286.5 1578.5,286.5 1579.5,286.5 1580.5,286.5 1581.5,286.5 1582.5,286.5 1583.5,287.5 1584.5,287.5 1585.5,287.5 1586.5,287.5 1587.5,287.5 1587.5,288.5 1588.5,288.5 1589.5,288.5 1590.5,289.5 1591.5,289.5 1592.5,289.5 1592.5,290.5 1593.5,290.5 1594.5,290.5 1594.5,291.5 1595.5,291.5 1596.5,291.5 1596.5,292.5 1597.5,292.5 1598.5,292.5 1599.5,292.5 1600.5,293.5 1601.5,293.5 1602.5,294.5 1603.5,294.5 1604.5,295.5 1605.5,296.5 1606.5,296.5 1606.5,297.5 1607.5,297.5 1608.5,298.5 1609.5,299.5 1610.5,299.5 1611.5,300.5 1612.5,300.5 1613.5,300.5 1613.5,301.5 1614.5,301.5 1615.5,301.5 1616.5,301.5 1617.5,301.5 1618.5,301.5 1619.5,301.5 1620.5,300.5 1621.5,300.5 1622.5,300.5 1623.5,299.5 1624.5,299.5 1625.5,298.5 1626.5,297.5 1627.5,296.5 1628.5,295.5 1629.5,294.5 1630.5,294.5 1630.5,293.5 1631.5,293.5 1632.5,293.5 1632.5,292.5 1633.5,292.5 1634.5,291.5 1635.5,291.5 1636.5,290.5 1637.5,289.5 1638.5,289.5 1638.5,288.5 1639.5,288.5 1640.5,287.5 1641.5,286.5 1642.5,286.5 1642.5,285.5 1643.5,285.5 1643.5,284.5 1644.5,284.5 1645.5,284.5 1645.5,283.5 1646.5,283.5 1647.5,283.5 1647.5,282.5 1648.5,282.5 1649.5,282.5 1649.5,281.5 1650.5,281.5 1651.5,280.5 1652.5,280.5 1653.5,279.5 1654.5,279.5 1655.5,278.5 1656.5,278.5 1657.5,277.5 1658.5,277.5 1659.5,277.5 1660.5,277.5 1660.5,276.5 1661.5,276.5 1662.5,276.5 1663.5,276.5 1664.5,276.5 1664.5,275.5 1665.5,275.5 1666.5,275.5 1667.5,275.5 1668.5,274.5 1669.5,274.5 1670.5,274.5 1671.5,274.5 1672.5,274.5 1673.5,273.5 1674.5,273.5 1675.5,273.5 1676.5,273.5 1677.5,273.5 1678.5,273.5 1679.5,273.5 1680.5,273.5 1681.5,273.5 1682.5,273.5 1683.5,273.5 1684.5,273.5 1685.5,273.5 1686.5,273.5 1687.5,273.5 1688.5,273.5 1689.5,273.5 1690.5,273.5 1691.5,273.5 1692.5,273.5 1693.5,273.5 1694.5,273.5 1695.5,273.5 1696.5,273.5 1697.5,273.5 1698.5,273.5 1699.5,273.5 1700.5,273.5 1700.5,274.5 1701.5,274.5 1702.5,274.5"/>
<polyline stroke="#00ff00" points="17.5,824.5 18.5,824.5 19.5,824.5 20.5,824.5 21.5,824.5 22.5,825.5 23.5,824.5 24.5,823.5 24.5,822.5 25.5,820.5 25.5,819.5 26.5,818.5 27.5,816.5 27.5,815.5 28.5,813.5 29.5,812.5 29.5,810.5 30.5,809.5 31.5,808.5 31.5,807.5 32.5,806.5 33.5,806.5 33.5,805.5 34.5,804.5 35.5,804.5 35.5,803.5 36.5,803.5 37.5,802.5 38.5,802.5 39.5,802.5 40.5,803.5 41.5,803.5 41.5,804.5 42.5,804.5 42.5,805.5 43.5,805.5 44.5,806.5 45.5,807.5 46.5,807.5 46.5,808.5 47.5,808.5 48.5,809.5 48.5,810.5 49.5,810.5 50.5,811.5 50.5,812.5 51.5,813.5 52.5,813.5 52.5,814.5 53.5,814.5 54.5,814.5 54.5,813.5 55.5,813.5 56.5,813.5 57.5,812.5 58.5,812.5 58.5,811.5 59.5,811.5 59.5,810.5 60.5,809.5 61.5,809.5 61.5,808.5 62.5,808.5 63.5,807.5 64.5,806.5 65.5,806.5 66.5,805.5 67.5,805.5 68.5,805.5 69.5,805.5 70.5,805.5 71.5,805.5 72.5,806.5 73.5,806.5 74.5,806.5 75.5,806.5 76.5,806.5 77.5,806.5 78.5,806.5 79.5,806.5 80.5,806.5 81.5,806.5 82.5,806.5 83.5,806.5 84.5,805.5 85.5,805.5 86.5,804.5 87.5,804.5 88.5,803.5 89.5,803.5 90.5,802.5 91.5,801.5 92.5,801.5 93.5,800.5 94.5,800.5 95.5,799.5 96.5,799.5 97.5,799.5 97.5,798.5 98.5,798.5 99.5,798.5 99.5,799.5 100.5,799.5 101.5,798.5 102.5,797.5 103.5,796.5 103.5,795.5 104.5,794.5 105.5,793.5 105.5,792.5 106.5,791.5 107.5,790.5 107.5,788.5 108.5,786.5 109.5,784.5 109.5,782.5 110.5,780.5 111.5,777.5 111.5,775.5 112.5,773.5 112.5,771.5 113.5,770.5 114.5,768.5 114.5,767.5 115.5,767.5 116.5,766.5 116.5,765.5 117.5,764.5 118.5,763.5 119.5,762.5 120.5,761.5 121.5,761.5 122.5,762.5 123.5,762.5 124.5,763.5 125.5,764.5 126.5,764.5 126.5,763.5 127.5,763.5 128.5,763.5 129.5,763.5 130.5,763.5 131.5,763.5 131.5,764.5 132.5,765.5 133.5,765.5 133.5,766.5 134.5,767.5 135.5,767.5 135.5,768.5 136.5,768.5 137.5,769.5 137.5,770.5 138.5,770.5 139.5,771.5 139.5,772.5 140.5,772.5 141.5,773.5 141.5,774.5 142.5,774.5 143.5,775.5 144.5,776.5 145.5,776.5 146.5,776.5 146.5,775.5 147.5,775.5 148.5,775.5 149.5,774.5 150.5,774.5 151.5,773.5 152.5,773.5 153.5,773.5 154.5,772.5 155.5,772.5 156.5,772.5 157.5,771.5 158.5,771.5 159.5,771.5 160.5,771.5 161.5,771.5 162.5,771.5 163.5,770.5 164.5,770.5 165.5,770.5 166.5,769.5 167.5,769.5 168.5,769.5 169.5,768.5 170.5,768.5 171.5,767.5 172.5,766.5 173.5,765.5 174.5,764.5 175.5,763.5 176.5,762.5 177.5,762.5 177.5,761.5 178.5,760.5 179.5,760.5 179.5,759.5 180.5,759.5 180.5,758.5 181.5,758.5 182.5,757.5 183.5,756.5 184.5,756.5 184.5,755.5 185.5,755.5 186.5,755.5 186.5,754.5 187.5,754.5 188.5,754.5 189.5,753.5 190.5,753.5 191.5,753.5 192.5,752.5 193.5,751.5 194.5,751.5 195.5,750.5 196.5,750.5 197.5,749.5 198.5,748.5 199.5,747.5 199.5,746.5 200.5,745.5 201.5,744.5 201.5,743.5 202.5,741.5 203.5,740.5 203.5,738.5 204.5,737.5 205.5,735.5 205.5,734.5 206.5,734.5 207.5,734.5 208.5,734.5 209.5,734.5 209.5,733.5 210.5,733.5 211.5,733.5 211.5,732.5 212.5,732.5 213.5,732.5 214.5,733.5 215.5,733.5 216.5,734.5 217.5,735.5 218.5,735.5 219.5,734.5 220.5,733.5 220.5,732.5 221.5,731.5 222.5,729.5 222.5,728.5 223.5,728.5 224.5,727.5 224.5,726.5 225.5,725.5 226.5,724.5 226.5,723.5 227.5,722.5 228.5,721.5 228.5,719.5 229.5,718.5 230.5,717.5 230.5,715.5 231.5,714.5 232.5,713.5 232.5,712.5 233.5,711.5 233.5,710.5 234.5,709.5 235.5,708.5 235.5,707.5 236.5,707.5 237.5,707.5 238.5,707.5 239.5,707.5 239.5,708.5 240.5,708.5 241.5,709.5 242.5,710.5 243.5,711.5 244.5,712.5 245.5,712.5 245.5,713.5 246.5,713.5 247.5,713.5 247.5,714.5 248.5,714.5 249.5,714.5 250.5,713.5 250.5,712.5 251.5,712.5 252.5,710.5 252.5,709.5 253.5,708.5 254.5,707.5 254.5,706.5 255.5,705.5 256.5,703.5 256.5,702.5 257.5,700.5 258.5,698.5 258.5,696.5 259.5,694.5 260.5,692.5 260.5,690.5 261.5,688.5 262.5,686.5 262.5,684.5 263.5,681.5 264.5,679.5 264.5,676.5 265.5,673.5 266.5,669.5 266.5,666.5 267.5,663.5 267.5,660.5 268.5,657.5 269.5,654.5 269.5,652.5 270.5,649.5 271.5,647.5 271.5,645.5 272.5,642.5 273.5,640.5 273.5,638.5 274.5,636.5 275.5,635.5 275.5,633.5 276.5,632.5 277.5,631.5 277.5,630.5 278.5,630.5 279.5,629.5 280.5,629.5 281.5,629.5 282.5,629.5 283.5,629.5 284.5,630.5 285.5,631.5 286.5,631.5 286.5,632.5 287.5,633.5 288.5,633.5 288.5,634.5 289.5,634.5 290.5,634.5 291.5,635.5 292.5,635.5 292.5,634.5 293.5,634.5 294.5,634.5 295.5,633.5 296.5,633.5 296.5,632.5 297.5,630.5 298.5,629.5 298.5,627.5 299.5,625.5 300.5,622.5 300.5,620.5 301.5,617.5 301.5,614.5 302.5,612.5 303.5,609.5 303.5,607.5 304.5,604.5 305.5,602.5 305.5,600.5 306.5,598.5 307.5,596.5 307.5,593.5 308.5,591.5 309.5,589.5 309.5,588.5 310.5,586.5 311.5,584.5 311.5,583.5 312.5,583.5 313.5,582.5 314.5,583.5 315.5,583.5 315.5,584.5 316.5,585.5 317.5,585.5 317.5,586.5 318.5,586.5 318.5,587.5 319.5,587.5 320.5,588.5 320.5,589.5 321.5,589.5 322.5,590.5 322.5,591.5 323.5,592.5 324.5,593.5 325.5,594.5 326.5,594.5 326.5,593.5 327.5,592.5 328.5,591.5 328.5,590.5 329.5,588.5 330.5,586.5 330.5,584.5 331.5,582.5 332.5,580.5 332.5,578.5 333.5,576.5 334.5,574.5 334.5,572.5 335.5,570.5 335.5,569.5 336.5,567.5 337.5,564.5 337.5,562.5 338.5,560.5 339.5,557.5 339.5,555.5 340.5,553.5 341.5,551.5 341.5,550.5 342.5,548.5 343.5,547.5 343.5,546.5 344.5,545.5 345.5,544.5 345.5,543.5 346.5,543.5 347.5,541.5 347.5,540.5 348.5,538.5 349.5,537.5 349.5,536.5 350.5,534.5 351.5,533.5 351.5,532.5 352.5,531.5 352.5,530.5 353.5,528.5 354.5,526.5 354.5,523.5 355.5,519.5 356.5,515.5 356.5,510.5 357.5,505.5 358.5,501.5 358.5,496.5 359.5,491.5 360.5,487.5 360.5,484.5 361.5,481.5 362.5,479.5 362.5,476.5 363.5,473.5 364.5,471.5 364.5,468.5 365.5,466.5 366.5,465.5 366.5,463.5 367.5,462.5 368.5,460.5 369.5,459.5 370.5,460.5 371.5,460.5 371.5,462.5 372.5,463.5 373.5,465.5 373.5,466.5 374.5,467.5 375.5,468.5 375.5,470.5 376.5,471.5 377.5,473.5 377.5,475.5 378.5,476.5 379.5,478.5 379.5,480.5 380.5,482.5 381.5,484.5 381.5,487.5 382.5,490.5 383.5,494.5 383.5,498.5 384.5,501.5 385.5,504.5 385.5,506.5 386.5,508.5 386.5,509.5 387.5,510.5 388.5,511.5 388.5,512.5 389.5,512.5 390.5,512.5 391.5,512.5 392.5,511.5 392.5,510.5 393.5,510.5 394.5,509.5 394.5,508.5 395.5,506.5 396.5,504.5 396.5,502.5 397.5,501.5 398.5,500.5 398.5,499.5 399.5,499.5 400.5,499.5 401.5,499.5 402.5,500.5 402.5,501.5 403.5,502.5 404.5,504.5 404.5,505.5 405.5,507.5 405.5,509.5 406.5,511.5 407.5,513.5 407.5,516.5 408.5,518.5 409.5,520.5 409.5,523.5 410.5,525.5 411.5,527.5 411.5,529.5 412.5,530.5 413.5,532.5 413.5,533.5 414.5,534.5 415.5,534.5 416.5,534.5 417.5,534.5 417.5,533.5 418.5,533.5 419.5,532.5 419.5,530.5 420.5,529.5 421.5,528.5 421.5,526.5 422.5,525.5 422.5,523.5 423.5,522.5 424.5,520.5 424.5,519.5 425.5,517.5 426.5,516.5 426.5,515.5 427.5,514.5 428.5,514.5 428.5,513.5 429.5,513.5 430.5,513.5 431.5,513.5 432.5,514.5 432.5,515.5 433.5,515.5 434.5,516.5 434.5,517.5 435.5,518.5 436.5,520.5 436.5,521.5 437.5,522.5 438.5,523.5 438.5,524.5 439.5,525.5 439.5,527.5 440.5,528.5 441.5,529.5 441.5,530.5 442.5,531.5 443.5,532.5 443.5,533.5 444.5,534.5 445.5,536.5 445.5,537.5 446.5,538.5 447.5,539.5 447.5,540.5 448.5,541.5 449.5,542.5 450.5,543.5 451.5,544.5 451.5,545.5 452.5,546.5 453.5,546.5 453.5,547.5 454.5,548.5 455.5,548.5 456.5,548.5 457.5,548.5 458.5,547.5 458.5,546.5 459.5,545.5 460.5,543.5 460.5,542.5 461.5,541.5 462.5,540.5 462.5,538.5 463.5,537.5 464.5,536.5 464.5,535.5 465.5,534.5 466.5,533.5 467.5,533.5 468.5,533.5 469.5,533.5 470.5,534.5 471.5,535.5 472.5,536.5 472.5,537.5 473.5,538.5 473.5,539.5 474.5,540.5 475.5,541.5 475.5,542.5 476.5,543.5 477.5,544.5 477.5,545.5 478.5,545.5 479.5,545.5 480.5,545.5 481.5,545.5 481.5,544.5 482.5,544.5 483.5,544.5 483.5,543.5 484.5,543.5 485.5,543.5 486.5,543.5 487.5,543.5 488.5,543.5 489.5,543.5 490.5,544.5 491.5,544.5 492.5,544.5 492.5,545.5 493.5,545.5 494.5,546.5 495.5,546.5 496.5,546.5 497.5,547.5 498.5,547.5 499.5,547.5 500.5,547.5 501.5,547.5 502.5,547.5 503.5,547.5 504.5,547.5 505.5,547.5 506.5,547.5 507.5,547.5 508.5,547.5 509.5,547.5 510.5,547.5 511.5,547.5 512.5,547.5 513.5,547.5 514.5,547.5 515.5,547.5 515.5,548.5 516.5,549.5 517.5,550.5 517.5,551.5 518.5,553.5 519.5,554.5 519.5,556.5 520.5,558.5 521.5,560.5 521.5,562.5 522.5,565.5 523.5,567.5 523.5,570.5 524.5,572.5 524.5,575.5 525.5,578.5 526.5,580.5 526.5,583.5 527.5,586.5 528.5,589.5 528.5,592.5 529.5,595.5 530.5,597.5 531.5,598.5 532.5,598.5 533.5,599.5 534.5,599.5 535.5,599.5 536.5,599.5 537.5,599.5 538.5,599.5 538.5,598.5 539.5,598.5 540.5,597.5 541.5,596.5 541.5,595.5 542.5,595.5 543.5,595.5 544.5,596.5 545.5,596.5 545.5,597.5 546.5,597.5 547.5,597.5 547.5,598.5 548.5,598.5 549.5,598.5 549.5,599.5 550.5,599.5 551.5,600.5 552.5,601.5 553.5,602.5 554.5,603.5 555.5,603.5 555.5,604.5 556.5,604.5 557.5,604.5 558.5,604.5 559.5,604.5 560.5,604.5 560.5,603.5 561.5,603.5 562.5,602.5 563.5,602.5 564.5,601.5 565.5,600.5 566.5,600.5 566.5,599.5 567.5,599.5 568.5,598.5 569.5,597.5 570.5,597.5 571.5,596.5 572.5,596.5 573.5,595.5 574.5,595.5 575.5,595.5 576.5,595.5 577.5,595.5 577.5,594.5 578.5,594.5 579.5,594.5 579.5,593.5 580.5,591.5 581.5,590.5 581.5,588.5 582.5,587.5 583.5,585.5 583.5,584.5 584.5,583.5 585.5,581.5 585.5,580.5 586.5,579.5 587.5,577.5 587.5,576.5 588.5,575.5 589.5,573.5 589.5,572.5 590.5,571.5 591.5,569.5 591.5,568.5 592.5,567.5 593.5,567.5 594.5,567.5 594.5,566.5 595.5,566.5 596.5,566.5 596.5,565.5 597.5,563.5 598.5,561.5 598.5,559.5 599.5,557.5 600.5,555.5 600.5,553.5 601.5,551.5 602.5,549.5 602.5,547.5 603.5,544.5 604.5,542.5 604.5,540.5 605.5,537.5 606.5,535.5 606.5,533.5 607.5,531.5 608.5,530.5 608.5,528.5 609.5,527.5 610.5,526.5 610.5,525.5 611.5,525.5 612.5,525.5 613.5,525.5 613.5,524.5 614.5,524.5 615.5,523.5 615.5,522.5 616.5,521.5 617.5,520.5 617.5,519.5 618.5,518.5 619.5,516.5 619.5,514.5 620.5,512.5 621.5,511.5 621.5,509.5 622.5,507.5 623.5,505.5 623.5,503.5 624.5,501.5 625.5,499.5 625.5,497.5 626.5,496.5 627.5,494.5 627.5,493.5 628.5,493.5 628.5,492.5 629.5,492.5 630.5,492.5 631.5,493.5 632.5,494.5 633.5,495.5 634.5,495.5 634.5,496.5 635.5,497.5 636.5,498.5 637.5,499.5 638.5,500.5 639.5,500.5 640.5,500.5 641.5,500.5 642.5,500.5 643.5,500.5 644.5,500.5 644.5,499.5 645.5,499.5 646.5,498.5 647.5,498.5 648.5,498.5 649.5,498.5 649.5,499.5 650.5,499.5 651.5,500.5 652.5,501.5 653.5,502.5 654.5,502.5 655.5,502.5 656.5,502.5 657.5,502.5 658.5,502.5 659.5,503.5 660.5,503.5 661.5,503.5 661.5,504.5 662.5,504.5 662.5,505.5 663.5,506.5 664.5,506.5 664.5,507.5 665.5,508.5 666.5,509.5 666.5,510.5 667.5,512.5 668.5,513.5 668.5,514.5 669.5,515.5 670.5,516.5 670.5,517.5 671.5,518.5 672.5,519.5 672.5,520.5 673.5,521.5 674.5,522.5 674.5,523.5 675.5,524.5 676.5,524.5 676.5,525.5 677.5,525.5 678.5,524.5 679.5,523.5 679.5,522.5 680.5,522.5 681.5,521.5 682.5,520.5 683.5,520.5 684.5,519.5 685.5,519.5 686.5,518.5 687.5,518.5 688.5,518.5 689.5,518.5 690.5,518.5 691.5,519.5 691.5,520.5 692.5,521.5 693.5,522.5 693.5,523.5 694.5,524.5 695.5,525.5 695.5,526.5 696.5,527.5 696.5,528.5 697.5,529.5 698.5,531.5 698.5,532.5 699.5,533.5 700.5,534.5 700.5,535.5 701.5,535.5 702.5,536.5 703.5,537.5 704.5,537.5 705.5,537.5 706.5,537.5 706.5,538.5 707.5,538.5 708.5,538.5 709.5,538.5 710.5,538.5 710.5,537.5 711.5,536.5 712.5,536.5 712.5,535.5 713.5,535.5 713.5,534.5 714.5,533.5 715.5,532.5 715.5,531.5 716.5,530.5 717.5,529.5 717.5,528.5 718.5,527.5 719.5,526.5 719.5,525.5 720.5,524.5 721.5,523.5 721.5,522.5 722.5,521.5 723.5,520.5 723.5,519.5 724.5,518.5 725.5,517.5 725.5,515.5 726.5,514.5 727.5,513.5 727.5,512.5 728.5,511.5 729.5,510.5 730.5,509.5 731.5,508.5 732.5,507.5 733.5,507.5 734.5,507.5 735.5,508.5 736.5,508.5 736.5,509.5 737.5,509.5 738.5,510.5 739.5,511.5 740.5,511.5 740.5,513.5 741.5,515.5 742.5,517.5 742.5,520.5 743.5,523.5 744.5,525.5 744.5,527.5 745.5,529.5 746.5,531.5 746.5,533.5 747.5,534.5 748.5,536.5 748.5,537.5 749.5,539.5 749.5,540.5 750.5,542.5 751.5,543.5 751.5,545.5 752.5,546.5 753.5,547.5 753.5,548.5 754.5,547.5 755.5,547.5 755.5,546.5 756.5,544.5 757.5,544.5 757.5,543.5 758.5,542.5 759.5,542.5 759.5,541.5 760.5,541.5 761.5,540.5 761.5,539.5 762.5,538.5 763.5,537.5 763.5,536.5 764.5,534.5 765.5,533.5 765.5,532.5 766.5,530.5 766.5,528.5 767.5,526.5 768.5,524.5 768.5,523.5 769.5,521.5 770.5,520.5 770.5,519.5 771.5,517.5 772.5,516.5 772.5,515.5 773.5,514.5 774.5,513.5 774.5,512.5 775.5,512.5 776.5,511.5 777.5,511.5 778.5,511.5 779.5,511.5 780.5,511.5 781.5,511.5 782.5,511.5 783.5,511.5 784.5,511.5 785.5,511.5 786.5,511.5 787.5,511.5 788.5,510.5 789.5,510.5 790.5,510.5 791.5,510.5 791.5,509.5 792.5,509.5 793.5,509.5 793.5,510.5 794.5,510.5 795.5,510.5 796.5,510.5 797.5,510.5 798.5,510.5 799.5,510.5 800.5,510.5 801.5,510.5 802.5,511.5 803.5,510.5 804.5,510.5 804.5,509.5 805.5,508.5 806.5,508.5 806.5,507.5 807.5,506.5 808.5,505.5 808.5,504.5 809.5,503.5 810.5,502.5 810.5,501.5 811.5,500.5 812.5,499.5 812.5,498.5 813.5,497.5 814.5,496.5 814.5,494.5 815.5,493.5 816.5,492.5 817.5,491.5 818.5,490.5 819.5,490.5 820.5,490.5 821.5,490.5 821.5,489.5 822.5,489.5 823.5,489.5 823.5,490.5 824.5,490.5 825.5,490.5 825.5,491.5 826.5,492.5 827.5,493.5 828.5,494.5 829.5,495.5 830.5,496.5 831.5,496.5 831.5,497.5 832.5,497.5 833.5,498.5 833.5,499.5 834.5,499.5 834.5,500.5 835.5,500.5 836.5,501.5 837.5,501.5 838.5,501.5 838.5,500.5 839.5,500.5 840.5,499.5 840.5,498.5 841.5,498.5 842.5,497.5 843.5,496.5 844.5,495.5 844.5,494.5 845.5,493.5 846.5,492.5 846.5,491.5 847.5,490.5 848.5,488.5 848.5,487.5 849.5,486.5 850.5,485.5 850.5,483.5 851.5,482.5 851.5,480.5 852.5,479.5 853.5,477.5 853.5,476.5 854.5,475.5 855.5,473.5 855.5,472.5 856.5,471.5 857.5,470.5 857.5,469.5 858.5,467.5 859.5,466.5 859.5,465.5 860.5,463.5 861.5,461.5 861.5,460.5 862.5,458.5 863.5,457.5 863.5,456.5 864.5,456.5 865.5,455.5 865.5,454.5 866.5,453.5 867.5,452.5 867.5,451.5 868.5,450.5 868.5,449.5 869.5,448.5 870.5,447.5 870.5,446.5 871.5,446.5 872.5,445.5 872.5,443.5 873.5,442.5 874.5,441.5 874.5,440.5 875.5,439.5 876.5,437.5 876.5,435.5 877.5,433.5 878.5,431.5 878.5,429.5 879.5,426.5 880.5,424.5 880.5,421.5 881.5,417.5 882.5,414.5 882.5,410.5 883.5,407.5 884.5,404.5 884.5,401.5 885.5,399.5 886.5,397.5 886.5,394.5 887.5,392.5 887.5,391.5 888.5,389.5 889.5,388.5 890.5,387.5 891.5,386.5 892.5,386.5 893.5,385.5 894.5,385.5 895.5,385.5 896.5,384.5 897.5,383.5 897.5,382.5 898.5,380.5 899.5,379.5 899.5,377.5 900.5,376.5 901.5,374.5 901.5,371.5 902.5,369.5 903.5,366.5 903.5,364.5 904.5,362.5 904.5,361.5 905.5,359.5 906.5,358.5 906.5,357.5 907.5,355.5 908.5,354.5 908.5,352.5 909.5,351.5 910.5,350.5 910.5,349.5 911.5,349.5 912.5,348.5 912.5,347.5 913.5,346.5 914.5,346.5 915.5,346.5 916.5,346.5 916.5,345.5 917.5,344.5 918.5,344.5 918.5,343.5 919.5,342.5 920.5,342.5 920.5,341.5 921.5,341.5 922.5,341.5 923.5,340.5 924.5,340.5 925.5,340.5 926.5,339.5 927.5,338.5 928.5,338.5 929.5,338.5 930.5,338.5 931.5,339.5 932.5,339.5 933.5,339.5 934.5,339.5 935.5,340.5 936.5,340.5 937.5,340.5 938.5,341.5 939.5,342.5 940.5,343.5 940.5,344.5 941.5,345.5 942.5,346.5 942.5,347.5 943.5,348.5 944.5,349.5 944.5,350.5 945.5,352.5 946.5,353.5 946.5,355.5 947.5,357.5 948.5,359.5 948.5,361.5 949.5,363.5 950.5,365.5 950.5,367.5 951.5,369.5 952.5,371.5 952.5,373.5 953.5,374.5 954.5,376.5 954.5,377.5 955.5,378.5 956.5,379.5 957.5,380.5 958.5,381.5 959.5,381.5 959.5,382.5 960.5,382.5 961.5,383.5 962.5,384.5 963.5,384.5 963.5,385.5 964.5,385.5 965.5,385.5 965.5,386.5 966.5,387.5 967.5,387.5 967.5,388.5 968.5,389.5 969.5,389.5 969.5,390.5 970.5,390.5 971.5,390.5 972.5,391.5 973.5,391.5 974.5,391.5 975.5,390.5 976.5,390.5 976.5,389.5 977.5,388.5 978.5,387.5 978.5,386.5 979.5,385.5 980.5,384.5 980.5,383.5 981.5,381.5 982.5,379.5 982.5,378.5 983.5,376.5 984.5,375.5 984.5,373.5 985.5,372.5 986.5,370.5 986.5,368.5 987.5,367.5 988.5,365.5 988.5,364.5 989.5,363.5 989.5,362.5 990.5,361.5 991.5,360.5 992.5,359.5 993.5,358.5 994.5,357.5 995.5,357.5 996.5,357.5 997.5,356.5 998.5,356.5 999.5,356.5 1000.5,356.5 1001.5,356.5 1001.5,357.5 1002.5,357.5 1003.5,358.5 1003.5,359.5 1004.5,359.5 1005.5,360.5 1006.5,360.5 1006.5,361.5 1007.5,361.5 1008.5,360.5 1009.5,359.5 1010.5,358.5 1010.5,357.5 1011.5,356.5 1012.5,354.5 1012.5,353.5 1013.5,352.5 1014.5,350.5 1014.5,349.5 1015.5,347.5 1016.5,345.5 1016.5,343.5 1017.5,342.5 1018.5,340.5 1018.5,339.5 1019.5,337.5 1020.5,336.5 1020.5,335.5 1021.5,335.5 1022.5,334.5 1022.5,333.5 1023.5,333.5 1023.5,332.5 1024.5,332.5 1025.5,331.5 1026.5,331.5 1027.5,331.5 1028.5,332.5 1029.5,332.5 1029.5,333.5 1030.5,333.5 1031.5,333.5 1031.5,334.5 1032.5,334.5 1033.5,334.5 1033.5,335.5 1034.5,335.5 1035.5,336.5 1036.5,337.5 1037.5,338.5 1037.5,339.5 1038.5,340.5 1039.5,341.5 1039.5,343.5 1040.5,344.5 1040.5,345.5 1041.5,345.5 1042.5,346.5 1042.5,347.5 1043.5,348.5 1044.5,348.5 1044.5,349.5 1045.5,350.5 1046.5,350.5 1047.5,351.5 1048.5,352.5 1048.5,353.5 1049.5,354.5 1050.5,355.5 1050.5,356.5 1051.5,356.5 1052.5,357.5 1052.5,358.5 1053.5,358.5 1054.5,359.5 1055.5,360.5 1056.5,360.5 1056.5,361.5 1057.5,362.5 1058.5,363.5 1058.5,364.5 1059.5,365.5 1059.5,366.5 1060.5,368.5 1061.5,369.5 1061.5,370.5 1062.5,371.5 1063.5,372.5 1064.5,373.5 1065.5,374.5 1066.5,374.5 1067.5,374.5 1068.5,374.5 1069.5,374.5 1070.5,374.5 1071.5,373.5 1072.5,373.5 1073.5,373.5 1074.5,372.5 1075.5,372.5 1075.5,371.5 1076.5,371.5 1076.5,370.5 1077.5,370.5 1078.5,369.5 1079.5,369.5 1080.5,369.5 1080.5,370.5 1081.5,370.5 1082.5,371.5 1083.5,371.5 1084.5,371.5 1085.5,371.5 1086.5,371.5 1086.5,370.5 1087.5,370.5 1088.5,370.5 1088.5,369.5 1089.5,369.5 1090.5,368.5 1091.5,368.5 1092.5,367.5 1093.5,366.5 1094.5,366.5 1095.5,365.5 1096.5,365.5 1097.5,365.5 1098.5,365.5 1099.5,366.5 1100.5,366.5 1101.5,367.5 1102.5,368.5 1103.5,369.5 1103.5,370.5 1104.5,370.5 1105.5,371.5 1106.5,372.5 1107.5,373.5 1108.5,375.5 1109.5,376.5 1109.5,377.5 1110.5,378.5 1110.5,380.5 1111.5,381.5 1112.5,383.5 1112.5,384.5 1113.5,386.5 1114.5,387.5 1114.5,388.5 1115.5,390.5 1116.5,391.5 1116.5,393.5 1117.5,394.5 1118.5,396.5 1118.5,397.5 1119.5,398.5 1120.5,400.5 1121.5,401.5 1122.5,401.5 1123.5,401.5 1124.5,401.5 1125.5,401.5 1126.5,402.5 1126.5,403.5 1127.5,405.5 1127.5,406.5 1128.5,408.5 1129.5,409.5 1129.5,411.5 1130.5,412.5 1131.5,414.5 1131.5,416.5 1132.5,418.5 1133.5,420.5 1133.5,422.5 1134.5,424.5 1135.5,426.5 1135.5,429.5 1136.5,431.5 1137.5,433.5 1137.5,435.5 1138.5,436.5 1139.5,437.5 1139.5,438.5 1140.5,438.5 1141.5,438.5 1142.5,438.5 1143.5,437.5 1143.5,436.5 1144.5,436.5 1144.5,435.5 1145.5,434.5 1146.5,434.5 1146.5,433.5 1147.5,433.5 1148.5,432.5 1148.5,431.5 1149.5,431.5 1150.5,430.5 1150.5,429.5 1151.5,428.5 1152.5,428.5 1152.5,427.5 1153.5,426.5 1154.5,425.5 1155.5,425.5 1156.5,425.5 1157.5,425.5 1158.5,425.5 1159.5,425.5 1160.5,426.5 1161.5,426.5 1162.5,426.5 1163.5,427.5 1163.5,428.5 1164.5,428.5 1165.5,429.5 1166.5,430.5 1167.5,430.5 1167.5,431.5 1168.5,431.5 1169.5,431.5 1169.5,432.5 1170.5,432.5 1171.5,433.5 1172.5,434.5 1173.5,434.5 1174.5,435.5 1175.5,435.5 1176.5,435.5 1177.5,435.5 1178.5,436.5 1179.5,437.5 1180.5,437.5 1180.5,438.5 1181.5,438.5 1182.5,439.5 1183.5,439.5 1184.5,439.5 1185.5,439.5 1186.5,440.5 1187.5,440.5 1188.5,440.5 1189.5,440.5 1190.5,440.5 1191.5,440.5 1192.5,440.5 1193.5,439.5 1194.5,439.5 1195.5,439.5 1196.5,440.5 1197.5,441.5 1198.5,442.5 1199.5,443.5 1199.5,444.5 1200.5,444.5 1201.5,445.5 1201.5,446.5 1202.5,447.5 1203.5,448.5 1203.5,449.5 1204.5,450.5 1205.5,451.5 1205.5,452.5 1206.5,453.5 1207.5,454.5 1208.5,455.5 1209.5,455.5 1210.5,455.5 1211.5,455.5 1211.5,454.5 1212.5,454.5 1213.5,454.5 1214.5,454.5 1215.5,453.5 1216.5,453.5 1217.5,453.5 1218.5,453.5 1219.5,454.5 1220.5,454.5 1221.5,454.5 1222.5,454.5 1223.5,454.5 1224.5,454.5 1224.5,453.5 1225.5,453.5 1226.5,452.5 1226.5,451.5 1227.5,450.5 1228.5,448.5 1228.5,447.5 1229.5,446.5 1230.5,444.5 1230.5,443.5 1231.5,441.5 1231.5,440.5 1232.5,438.5 1233.5,437.5 1233.5,435.5 1234.5,434.5 1235.5,433.5 1235.5,431.5 1236.5,430.5 1237.5,429.5 1237.5,428.5 1238.5,427.5 1239.5,427.5 1240.5,426.5 1241.5,426.5 1241.5,425.5 1242.5,425.5 1243.5,425.5 1243.5,424.5 1244.5,424.5 1245.5,424.5 1246.5,424.5 1247.5,424.5 1248.5,424.5 1249.5,424.5 1250.5,424.5 1251.5,425.5 1252.5,425.5 1253.5,425.5 1254.5,425.5 1254.5,424.5 1255.5,424.5 1256.5,423.5 1257.5,422.5 1258.5,421.5 1258.5,420.5 1259.5,419.5 1260.5,418.5 1260.5,417.5 1261.5,416.5 1262.5,416.5 1262.5,415.5 1263.5,414.5 1264.5,413.5 1264.5,411.5 1265.5,410.5 1265.5,408.5 1266.5,407.5 1267.5,407.5 1267.5,406.5 1268.5,405.5 1269.5,405.5 1270.5,405.5 1271.5,405.5 1271.5,404.5 1272.5,404.5 1273.5,404.5 1274.5,404.5 1275.5,404.5 1276.5,404.5 1277.5,405.5 1278.5,405.5 1279.5,405.5 1279.5,406.5 1280.5,406.5 1281.5,407.5 1282.5,407.5 1282.5,408.5 1283.5,408.5 1284.5,408.5 1285.5,408.5 1286.5,408.5 1286.5,409.5 1287.5,409.5 1288.5,409.5 1289.5,409.5 1290.5,409.5 1290.5,410.5 1291.5,410.5 1292.5,410.5 1293.5,411.5 1294.5,411.5 1295.5,411.5 1296.5,412.5 1297.5,413.5 1298.5,413.5 1299.5,413.5 1299.5,412.5 1300.5,412.5 1301.5,411.5 1302.5,410.5 1303.5,410.5 1303.5,409.5 1304.5,408.5 1305.5,408.5 1305.5,407.5 1306.5,406.5 1307.5,406.5 1307.5,405.5 1308.5,404.5 1309.5,404.5 1309.5,403.5 1310.5,402.5 1311.5,402.5 1311.5,401.5 1312.5,401.5 1313.5,401.5 1314.5,401.5 1315.5,401.5 1315.5,402.5 1316.5,402.5 1317.5,402.5 1318.5,402.5 1318.5,403.5 1319.5,403.5 1320.5,403.5 1321.5,403.5 1322.5,403.5 1322.5,404.5 1323.5,404.5 1324.5,404.5 1325.5,405.5 1326.5,405.5 1327.5,405.5 1328.5,406.5 1329.5,407.5 1330.5,407.5 1330.5,408.5 1331.5,408.5 1332.5,409.5 1333.5,410.5 1334.5,411.5 1335.5,411.5 1335.5,412.5 1336.5,412.5 1337.5,413.5 1338.5,414.5 1339.5,414.5 1339.5,415.5 1340.5,415.5 1341.5,415.5 1342.5,415.5 1343.5,415.5 1344.5,415.5 1345.5,415.5 1346.5,415.5 1347.5,415.5 1347.5,414.5 1348.5,414.5 1349.5,414.5 1349.5,413.5 1350.5,413.5 1351.5,413.5 1352.5,412.5 1353.5,412.5 1354.5,411.5 1355.5,411.5 1356.5,411.5 1356.5,410.5 1357.5,409.5 1358.5,408.5 1358.5,407.5 1359.5,406.5 1360.5,404.5 1360.5,403.5 1361.5,402.5 1362.5,401.5 1362.5,399.5 1363.5,398.5 1364.5,397.5 1364.5,395.5 1365.5,394.5 1366.5,393.5 1366.5,391.5 1367.5,390.5 1367.5,389.5 1368.5,387.5 1369.5,386.5 1369.5,385.5 1370.5,384.5 1371.5,384.5 1371.5,383.5 1372.5,383.5 1373.5,383.5 1373.5,382.5 1374.5,382.5 1375.5,381.5 1376.5,380.5 1377.5,380.5 1377.5,379.5 1378.5,378.5 1379.5,377.5 1379.5,376.5 1380.5,376.5 1381.5,375.5 1381.5,374.5 1382.5,374.5 1383.5,373.5 1383.5,372.5 1384.5,372.5 1385.5,371.5 1386.5,370.5 1386.5,369.5 1387.5,369.5 1388.5,368.5 1389.5,367.5 1390.5,367.5 1390.5,366.5 1391.5,366.5 1392.5,366.5 1393.5,366.5 1394.5,366.5 1394.5,365.5 1395.5,365.5 1396.5,364.5 1397.5,364.5 1398.5,364.5 1399.5,364.5 1400.5,365.5 1401.5,365.5 1402.5,366.5 1403.5,366.5 1403.5,367.5 1404.5,367.5 1405.5,367.5 1406.5,368.5 1407.5,368.5 1408.5,368.5 1409.5,368.5 1409.5,367.5 1410.5,367.5 1411.5,366.5 1411.5,365.5 1412.5,364.5 1413.5,363.5 1413.5,361.5 1414.5,360.5 1415.5,359.5 1415.5,357.5 1416.5,356.5 1417.5,354.5 1417.5,352.5 1418.5,351.5 1419.5,349.5 1419.5,347.5 1420.5,344.5 1420.5,342.5 1421.5,340.5 1422.5,338.5 1422.5,337.5 1423.5,335.5 1424.5,333.5 1424.5,332.5 1425.5,331.5 1426.5,330.5 1426.5,329.5 1427.5,328.5 1428.5,327.5 1428.5,326.5 1429.5,326.5 1430.5,325.5 1431.5,324.5 1432.5,324.5 1433.5,324.5 1434.5,324.5 1435.5,324.5 1436.5,324.5 1437.5,324.5 1438.5,324.5 1439.5,324.5 1440.5,324.5 1441.5,324.5 1442.5,324.5 1443.5,324.5 1443.5,325.5 1444.5,325.5 1445.5,325.5 1445.5,326.5 1446.5,326.5 1447.5,327.5 1447.5,328.5 1448.5,328.5 1449.5,329.5 1449.5,330.5 1450.5,330.5 1451.5,331.5 1452.5,332.5 1453.5,332.5 1454.5,332.5 1455.5,332.5 1456.5,331.5 1457.5,331.5 1458.5,330.5 1459.5,329.5 1460.5,328.5 1460.5,327.5 1461.5,327.5 1462.5,326.5 1463.5,325.5 1464.5,325.5 1464.5,324.5 1465.5,323.5 1466.5,323.5 1466.5,322.5 1467.5,322.5 1468.5,322.5 1469.5,322.5 1470.5,322.5 1470.5,323.5 1471.5,323.5 1472.5,324.5 1473.5,324.5 1473.5,325.5 1474.5,325.5 1475.5,326.5 1476.5,327.5 1477.5,328.5 1477.5,329.5 1478.5,330.5 1479.5,330.5 1479.5,331.5 1480.5,332.5 1481.5,333.5 1482.5,334.5 1483.5,334.5 1484.5,334.5 1485.5,334.5 1486.5,334.5 1487.5,333.5 1488.5,332.5 1489.5,332.5 1490.5,332.5 1490.5,331.5 1491.5,331.5 1492.5,331.5 1492.5,332.5 1493.5,332.5 1494.5,332.5 1495.5,332.5 1496.5,333.5 1497.5,333.5 1498.5,334.5 1499.5,335.5 1500.5,335.5 1500.5,336.5 1501.5,336.5 1502.5,337.5 1503.5,338.5 1504.5,338.5 1505.5,338.5 1506.5,338.5 1507.5,338.5 1508.5,339.5 1509.5,339.5 1510.5,339.5 1511.5,338.5 1512.5,338.5 1513.5,338.5 1514.5,338.5 1515.5,338.5 1515.5,337.5 1516.5,337.5 1517.5,336.5 1518.5,335.5 1519.5,335.5 1519.5,334.5 1520.5,334.5 1521.5,333.5 1521.5,332.5 1522.5,332.5 1523.5,331.5 1524.5,331.5 1525.5,330.5 1526.5,330.5 1526.5,329.5 1527.5,329.5 1528.5,329.5 1528.5,328.5 1529.5,328.5 1530.5,327.5 1531.5,326.5 1532.5,326.5 1532.5,325.5 1533.5,324.5 1534.5,324.5 1534.5,323.5 1535.5,322.5 1536.5,321.5 1536.5,320.5 1537.5,319.5 1538.5,318.5 1538.5,316.5 1539.5,315.5 1540.5,313.5 1540.5,312.5 1541.5,311.5 1541.5,309.5 1542.5,307.5 1543.5,306.5 1543.5,304.5 1544.5,303.5 1545.5,301.5 1545.5,300.5 1546.5,299.5 1547.5,297.5 1547.5,296.5 1548.5,295.5 1549.5,293.5 1549.5,292.5 1550.5,291.5 1551.5,291.5 1551.5,290.5 1552.5,289.5 1553.5,289.5 1553.5,288.5 1554.5,287.5 1555.5,287.5 1556.5,286.5 1557.5,286.5 1558.5,286.5 1559.5,286.5 1560.5,286.5 1561.5,286.5 1562.5,286.5 1563.5,287.5 1564.5,287.5 1565.5,287.5 1566.5,288.5 1567.5,289.5 1568.5,289.5 1569.5,289.5 1570.5,288.5 1571.5,288.5 1572.5,288.5 1572.5,287.5 1573.5,287.5 1574.5,287.5 1574.5,286.5 1575.5,286.5 1576.5,286.5 1577.5,285.5 1578.5,285.5 1579.5,285.5 1580.5,285.5 1581.5,285.5 1582.5,285.5 1583.5,286.5 1584.5,287.5 1585.5,287.5 1585.5,288.5 1586.5,288.5 1587.5,289.5 1588.5,290.5 1589.5,291.5 1589.5,292.5 1590.5,292.5 1591.5,293.5 1592.5,294.5 1592.5,295.5 1593.5,296.5 1594.5,297.5 1594.5,298.5 1595.5,298.5 1596.5,299.5 1596.5,300.5 1597.5,300.5 1598.5,301.5 1599.5,302.5 1600.5,302.5 1601.5,302.5 1602.5,303.5 1603.5,303.5 1604.5,303.5 1605.5,303.5 1606.5,303.5 1607.5,304.5 1608.5,304.5 1609.5,304.5 1610.5,304.5 1611.5,304.5 1612.5,304.5 1613.5,304.5 1613.5,303.5 1614.5,303.5 1615.5,303.5 1615.5,302.5 1616.5,302.5 1617.5,301.5 1617.5,300.5 1618.5,300.5 1619.5,299.5 1619.5,298.5 1620.5,297.5 1621.5,296.5 1621.5,295.5 1622.5,294.5 1623.5,293.5 1623.5,292.5 1624.5,291.5 1625.5,290.5 1625.5,289.5 1626.5,288.5 1626.5,287.5 1627.5,287.5 1628.5,286.5 1628.5,285.5 1629.5,284.5 1630.5,284.5 1630.5,283.5 1631.5,283.5 1632.5,282.5 1633.5,282.5 1634.5,282.5 1634.5,281.5 1635.5,281.5 1636.5,281.5 1637.5,280.5 1638.5,280.5 1639.5,280.5 1640.5,280.5 1641.5,280.5 1642.5,280.5 1643.5,281.5 1643.5,280.5 1644.5,280.5 1645.5,280.5 1646.5,280.5 1647.5,280.5 1648.5,279.5 1649.5,279.5 1650.5,278.5 1651.5,278.5 1652.5,277.5 1653.5,276.5 1654.5,275.5 1655.5,275.5 1655.5,274.5 1656.5,274.5 1657.5,273.5 1658.5,272.5 1659.5,272.5 1660.5,272.5 1660.5,271.5 1661.5,271.5 1662.5,271.5 1663.5,271.5 1664.5,271.5 1665.5,271.5 1666.5,271.5 1667.5,271.5 1668.5,271.5 1669.5,272.5 1670.5,272.5 1671.5,272.5 1672.5,272.5 1673.5,272.5 1674.5,272.5 1674.5,273.5 1675.5,273.5 1676.5,273.5 1677.5,273.5 1677.5,274.5 1678.5,274.5 1679.5,274.5 1679.5,275.5 1680.5,275.5 1681.5,275.5 1682.5,275.5 1683.5,275.5 1684.5,275.5 1685.5,275.5 1686.5,275.5 1687.5,274.5 1688.5,274.5 1689.5,274.5 1690.5,273.5 1691.5,273.5 1691.5,272.5 1692.5,272.5 1693.5,271.5 1694.5,271.5 1695.5,271.5 1696.5,271.5 1697.5,271.5 1698.5,272.5 1699.5,272.5 1700.5,272.5 1701.5,273.5 1702.5,273.5"/>
</g>
<line class="ce" x1="1" y1="908.5" x2="1837" y2="908.5" stroke="#000" stroke-width="1"/>
<polyline fill="none" stroke="#000" stroke-width="1" shape-rendering="crispEdges" points="135.5,892.5 140.5,894.5 147.5,898.5 155.5,901.5 165.5,901.5 175.5,900.5 185.5,899.5 197.5,898.5 205.5,895.5 215.5,895.5 223.5,893.5 228.5,894.5 235.5,891.5 243.5,891.5 248.5,890.5 255.5,891.5 261.5,889.5 268.5,881.5 275.5,873.5 280.5,868.5 284.5,865.5 288.5,866.5 294.5,870.5 300.5,874.5 308.5,871.5 315.5,866.5 323.5,866.5 328.5,869.5 338.5,873.5 345.5,868.5 350.5,865.5 355.5,859.5 360.5,850.5 365.5,845.5 370.5,843.5 375.5,844.5 379.5,848.5 383.5,858.5 387.5,871.5 390.5,879.5 395.5,886.5 401.5,892.5 406.5,896.5 411.5,899.5 416.5,903.5 421.5,906.5 426.5,908.5 433.5,910.5 440.5,910.5 446.5,913.5 451.5,917.5 457.5,919.5 467.5,919.5 477.5,919.5 485.5,918.5 493.5,917.5 502.5,915.5 512.5,914.5 520.5,916.5 527.5,918.5 535.5,922.5 542.5,925.5 547.5,926.5 555.5,924.5 565.5,923.5 572.5,921.5 580.5,919.5 587.5,915.5 595.5,910.5 600.5,904.5 606.5,898.5 612.5,893.5 617.5,888.5 622.5,881.5 627.5,878.5 632.5,877.5 637.5,876.5 641.5,874.5 646.5,876.5 651.5,881.5 656.5,884.5 661.5,886.5 666.5,892.5 675.5,898.5 685.5,904.5 695.5,907.5 703.5,910.5 709.5,913.5 715.5,914.5 723.5,912.5 730.5,909.5 739.5,907.5 745.5,910.5 753.5,913.5 760.5,916.5 765.5,915.5 770.5,912.5 778.5,908.5 785.5,904.5 792.5,902.5 798.5,903.5 807.5,902.5 815.5,900.5 823.5,898.5 829.5,898.5 835.5,899.5 842.5,901.5 848.5,901.5 856.5,898.5 863.5,891.5 871.5,886.5 877.5,882.5 880.5,878.5 885.5,871.5 891.5,866.5 897.5,861.5 903.5,857.5 910.5,859.5 917.5,857.5 922.5,858.5 928.5,862.5 935.5,867.5 942.5,875.5 950.5,885.5 957.5,896.5 965.5,906.5 970.5,909.5 976.5,912.5 982.5,912.5 990.5,909.5 997.5,906.5 1007.5,906.5 1016.5,904.5 1024.5,902.5 1031.5,898.5 1036.5,898.5 1042.5,900.5 1050.5,903.5 1057.5,907.5 1065.5,910.5 1075.5,913.5 1085.5,913.5 1093.5,912.5 1100.5,912.5 1109.5,913.5 1116.5,916.5 1125.5,920.5 1135.5,924.5 1145.5,926.5 1153.5,926.5 1160.5,924.5 1168.5,923.5 1178.5,923.5 1188.5,922.5 1195.5,922.5 1200.5,922.5 1210.5,921.5 1222.5,921.5 1228.5,918.5 1237.5,911.5 1245.5,906.5 1250.5,903.5 1257.5,901.5 1265.5,899.5 1272.5,898.5 1278.5,895.5 1285.5,895.5 1292.5,897.5 1298.5,899.5 1305.5,900.5 1310.5,899.5 1325.5,899.5 1332.5,902.5 1340.5,905.5 1347.5,907.5 1355.5,908.5 1360.5,908.5 1367.5,904.5 1375.5,901.5 1382.5,897.5 1391.5,895.5 1400.5,893.5 1408.5,895.5 1415.5,894.5 1421.5,893.5 1428.5,888.5 1434.5,884.5 1441.5,881.5 1446.5,883.5 1454.5,888.5 1463.5,892.5 1471.5,895.5 1478.5,896.5 1485.5,900.5 1493.5,903.5 1500.5,905.5 1507.5,905.5 1513.5,908.5 1523.5,908.5 1530.5,908.5 1538.5,906.5 1545.5,901.5 1553.5,897.5 1560.5,893.5 1563.5,892.5 1570.5,893.5 1578.5,893.5 1585.5,895.5 1593.5,896.5 1601.5,900.5 1608.5,904.5 1613.5,906.5 1621.5,906.5 1628.5,903.5 1636.5,901.5 1643.5,901.5 1651.5,902.5 1663.5,902.5 1671.5,901.5 1673.5,901.5 1680.5,902.5 1671.5,901.5 1676.5,902.5 1686.5,903.5 1694.5,903.5 1700.5,904.5"/>
<rect x="5" y="4" width="47" height="15" fill="#fff"/>
<rect x="5" y="19" width="47" height="15" fill="#fff"/>
<rect x="5" y="34" width="53" height="15" fill="#fff"/>
<text x="5" y="15.8" class="x" fill="#00f000">SMA(20)</text>
<path class="ce" d="M52 4.5h1M52.5 8v4" stroke="#553" stroke-width="1" fill="none"/>
<text x="5" y="30.9" class="x" fill="#000080">SMA(50)</text>
<text x="5" y="46.2" class="x" fill="#ff00ff">SMA(100)</text>
<text x="440.8" y="109.3" class="n" text-anchor="middle" textLength="895" lengthAdjust="spacingAndGlyphs">Das Halving fand am 20. April 2024 statt, und das nächste Halving wird im Jahr 2028 erwartet. Es halbiert die Belohnungen für die Miner beim Schürfen eines Blocks</text>
<text x="443.2" y="123.1" class="n" text-anchor="middle" textLength="787.6" lengthAdjust="spacingAndGlyphs">und soll durch eine regelmäßige, automatische Verknappung des Angebots von Bitcoinsmenge, einen weiteren Kursverfall (Inflation) verhindern.</text>
<text x="191.7" y="141.8" class="k" textLength="131.1" lengthAdjust="spacingAndGlyphs" style="font-size:13px;font-weight:bold">BITCOIN (BTC) USD</text>
<text x="191.2" y="163.8" class="x" textLength="216" lengthAdjust="spacingAndGlyphs" fill="#bdbdbd" style="font-size:18px">Logarithmische Darstellung</text>
<text x="191.3" y="200.1" class="n" textLength="161.7" lengthAdjust="spacingAndGlyphs" style="font-weight:bold">Kürze Bedeutungserklärung:</text>
<text x="188.8" y="213.1" class="n" textLength="1150.7" lengthAdjust="spacingAndGlyphs">- Widerstandslinie - ist eine horizontale Strichlinie rot und eine Unterstützungslinie - ist gleich, aber grün. Die Linien zeigen das Kursniveau, das in der Vergangenheit schon erreicht, aber nicht überwunden wurde.</text>
<text x="189.5" y="223.8" class="n" textLength="463" lengthAdjust="spacingAndGlyphs">- Grüne Rechteck in der Vergangenheit - zeigt sog. Krypto-Sommer, bzw. Bullenmarkt.</text>
<text x="192" y="235.1" class="n" textLength="461" lengthAdjust="spacingAndGlyphs">- Rote Rechteck in der Vergangenheit - zeigt sog. Krypto-Winter, bzw. große Korrektur.</text>
<text x="189.5" y="248.1" class="n" textLength="635.5" lengthAdjust="spacingAndGlyphs">- Die gespiegelten Rechtecke auf der rechten Seite stellen mögliche Szenarien basierend auf der Vergangenheit dar.</text>
<text x="190.5" y="260.6" class="n" textLength="692" lengthAdjust="spacingAndGlyphs">- Ein Trendkanal besteht aus einer oberen und einer unteren Linien, diese, die obere und untere Grenze des Trends darstellen.</text>
<text x="190.5" y="273.6" class="n" textLength="681" lengthAdjust="spacingAndGlyphs">- Als "Bodenbildung", bezeichnet man die wichtigsten Umkehrformationen, die beenden, einen bedeutenden Kursrückverlauf.</text>
<text x="189.5" y="286.8" class="n" textLength="713.5" lengthAdjust="spacingAndGlyphs">- Der "Durchbruch", findet dann statt, wenn der Kurs, ziemlich deutlich überschreitet, die Widerstandslinie, bzw. Unterstützungslinie.</text>
<text x="190.5" y="298.8" class="n" textLength="308.3" lengthAdjust="spacingAndGlyphs">- SMA - Sind hier, die drei gleitenden Durchschnittslinien.</text>
<text x="226" y="551.1" class="n" text-anchor="middle">Bullenmarkt</text>
<text x="228" y="565.1" class="n" text-anchor="middle">Krypto-Sommer.</text>
<text x="122.5" y="608.1" class="n" text-anchor="middle">Halving</text>
<text x="772.4" y="606.8" class="n" text-anchor="middle">Halving</text>
<text x="1442.5" y="608.1" class="n" text-anchor="middle">Halving</text>
<text x="140" y="694.8" class="t">Durchbruch! &gt;&gt;</text>
<text x="783.8" y="436.7" class="t">Durchbruch! &gt;&gt;</text>
<text x="1258.5" y="322.9" class="t" textLength="144.3" lengthAdjust="spacingAndGlyphs">Durchbruch nach oben! &gt;&gt;</text>
<text x="360.8" y="616.3" class="n" textLength="169.5" lengthAdjust="spacingAndGlyphs">Große Korrektur - Krypto-Winter</text>
<text x="534.4" y="620" class="n" textLength="76" lengthAdjust="spacingAndGlyphs">Bodenbildung</text>
<text x="849.7" y="347.7" class="n" text-anchor="middle">Bullenmarkt</text>
<text x="850" y="362.9" class="n" text-anchor="middle">Krypto-Sommer</text>
<text x="1026" y="461.3" class="n" textLength="169.7" lengthAdjust="spacingAndGlyphs">Große Korrektur - Krypto-Winter</text>
<text x="1210.3" y="471.7" class="n" textLength="76.5" lengthAdjust="spacingAndGlyphs">Bodenbildung</text>
<text x="1529.4" y="228.3" class="n" text-anchor="middle">Bullenmarkt</text>
<text x="1529.4" y="241.5" class="n" text-anchor="middle">Krypto-Sommer</text>
<text x="1179.5" y="157.1" class="k" text-anchor="end">400.000</text>
<text x="1179.5" y="222.1" class="k" text-anchor="end">200.000</text>
<text x="1179.5" y="288" class="k" text-anchor="end">100.000</text>
<text x="1179.5" y="357.1" class="k" text-anchor="end">50.000</text>
<text x="1179.5" y="443.7" class="k" text-anchor="end">20.000</text>
<text x="1179.5" y="508.3" class="k" text-anchor="end">10.000</text>
<text x="1179.5" y="618.9" class="k" text-anchor="end">3.000</text>
<text x="1179.5" y="724.8" class="k" text-anchor="end">1.000</text>
<text x="1179.5" y="791.8" class="k" text-anchor="end">500</text>
<text x="1588.4" y="907" class="k" text-anchor="end">100.000</text>
<text x="566.6" y="830" class="k ser" textLength="1104.6" lengthAdjust="spacingAndGlyphs">Haftungsausschluss für Inhalte: Alle Trendkanäle bzw. andere Linien, oder Grafiken hier sind keine Empfehlungen, oder Beratung, sondern die zeigen lediglich meine eigene Einschätzung. Alle Chartdaten sind ohne Gewähr.&#160; www.wikifolio.com/de/de/p/cyberwaehrungen</text>
<rect x="1838" y="1" width="77" height="946" fill="#fff"/>
<g class="ce" stroke="#c0c0c0" stroke-width="1" fill="none">
<path d="M1837.5 1V947"/>
<path d="M0 839.5H1915"/>
<path d="M1 932.5H1915"/>
<path d="M1821.5 932V947"/>
<path d="M1838 8.5h4M1838 13.5h4M1838 18.5h4M1838 24.5h4M1838 30.5h4M1838 37.5h4M1838 44.5h4M1838 51.5h4M1838 60.5h4M1838 69.5h4M1838 79.5h4M1838 90.5h4M1838 102.5h4M1838 117.5h4M1838 134.5h4M1838 157.5h4M1838 183.5h4M1838 221.5h4M1838 287.5h4M1838 845.5h4M1838 866.5h4M1838 887.5h4"/>
<path d="M76.5 932v15M118.5 932v15M160.5 932v15M203.5 932v15M243.5 932v15M282.5 932v15M325.5 932v15M367.5 932v15M409.5 932v15M452.5 932v15M494.5 932v15M538.5 932v15M580.5 932v15M622.5 932v15M665.5 932v15M708.5 932v15M751.5 932v15M794.5 932v15M837.5 932v15M880.5 932v15M922.5 932v15M964.5 932v15M1007.5 932v15M1051.5 932v15M1093.5 932v15M1135.5 932v15M1178.5 932v15M1221.5 932v15M1263.5 932v15M1306.5 932v15M1348.5 932v15M1391.5 932v15M1433.5 932v15M1476.5 932v15M1519.5 932v15M1562.5 932v15M1604.5 932v15M1647.5 932v15M1690.5 932v15M1733.5 932v15M1775.5 932v15"/>
</g>
<text x="1843.7" y="17.8" class="k">1900000.</text>
<text x="1843.7" y="17.8" class="k">1800000.</text>
<text x="1843.7" y="22.8" class="k">1700000.</text>
<text x="1843.7" y="28.8" class="k">1600000.</text>
<text x="1843.7" y="34.8" class="k">1500000.</text>
<text x="1843.7" y="41.8" class="k">1400000.</text>
<text x="1843.7" y="48.8" class="k">1300000.</text>
<text x="1843.7" y="55.8" class="k">1200000.</text>
<text x="1843.7" y="64.8" class="k">1100000.</text>
<text x="1843.7" y="73.8" class="k">1000000.</text>
<text x="1843.7" y="83.8" class="k">900000.0</text>
<text x="1843.7" y="94.8" class="k">800000.0</text>
<text x="1843.7" y="106.8" class="k">700000.0</text>
<text x="1843.7" y="121.8" class="k">600000.0</text>
<text x="1843.7" y="138.8" class="k">500000.0</text>
<text x="1843.7" y="161.8" class="k">400000.0</text>
<text x="1843.7" y="187.8" class="k">300000.0</text>
<text x="1843.7" y="225.8" class="k">200000.0</text>
<text x="1843.7" y="291.8" class="k">100000.0</text>
<text x="1843.7" y="855.3" class="k">250.0</text>
<text x="1843.7" y="871" class="k">200.0</text>
<text x="1843.7" y="891.8" class="k">150.0</text>
<text x="1843.7" y="913.8" class="k">100.0</text>
<rect class="ce" x="1838" y="266" width="77" height="14" fill="#0000ff"/>
<rect class="ce" x="1838" y="280" width="77" height="2" fill="#ff00ff"/>
<rect class="ce" x="1838" y="273" width="3" height="1" fill="#fff"/>
<text x="1843.7" y="278" class="x" fill="#fff">116084.5</text>
<rect class="ce" x="1838" y="898" width="77" height="13" fill="#000"/>
<rect class="ce" x="1838" y="904" width="3" height="1" fill="#fff"/>
<text x="1843.7" y="909" class="x" fill="#fff">110.0</text>
<text x="75" y="944.8" class="k" text-anchor="end">04</text>
<text x="78" y="944.8" class="k">16</text>
<text x="117" y="944.8" class="k" text-anchor="end">07</text>
<text x="120" y="944.8" class="k">16</text>
<text x="159" y="944.8" class="k" text-anchor="end">10</text>
<text x="162" y="944.8" class="k">16</text>
<text x="202" y="944.8" class="k" text-anchor="end">01</text>
<text x="205" y="944.8" class="k">17</text>
<text x="242" y="944.8" class="k" text-anchor="end">04</text>
<text x="245" y="944.8" class="k">17</text>
<text x="281" y="944.8" class="k" text-anchor="end">07</text>
<text x="284" y="944.8" class="k">17</text>
<text x="324" y="944.8" class="k" text-anchor="end">10</text>
<text x="327" y="944.8" class="k">17</text>
<text x="366" y="944.8" class="k" text-anchor="end">01</text>
<text x="369" y="944.8" class="k">18</text>
<text x="408" y="944.8" class="k" text-anchor="end">04</text>
<text x="411" y="944.8" class="k">18</text>
<text x="451" y="944.8" class="k" text-anchor="end">07</text>
<text x="454" y="944.8" class="k">18</text>
<text x="493" y="944.8" class="k" text-anchor="end">10</text>
<text x="496" y="944.8" class="k">18</text>
<text x="537" y="944.8" class="k" text-anchor="end">01</text>
<text x="540" y="944.8" class="k">19</text>
<text x="579" y="944.8" class="k" text-anchor="end">04</text>
<text x="582" y="944.8" class="k">19</text>
<text x="621" y="944.8" class="k" text-anchor="end">07</text>
<text x="624" y="944.8" class="k">19</text>
<text x="664" y="944.8" class="k" text-anchor="end">10</text>
<text x="667" y="944.8" class="k">19</text>
<text x="707" y="944.8" class="k" text-anchor="end">01</text>
<text x="710" y="944.8" class="k">20</text>
<text x="750" y="944.8" class="k" text-anchor="end">04</text>
<text x="753" y="944.8" class="k">20</text>
<text x="793" y="944.8" class="k" text-anchor="end">07</text>
<text x="796" y="944.8" class="k">20</text>
<text x="836" y="944.8" class="k" text-anchor="end">10</text>
<text x="839" y="944.8" class="k">20</text>
<text x="879" y="944.8" class="k" text-anchor="end">01</text>
<text x="882" y="944.8" class="k">21</text>
<text x="921" y="944.8" class="k" text-anchor="end">04</text>
<text x="924" y="944.8" class="k">21</text>
<text x="963" y="944.8" class="k" text-anchor="end">07</text>
<text x="966" y="944.8" class="k">21</text>
<text x="1006" y="944.8" class="k" text-anchor="end">10</text>
<text x="1009" y="944.8" class="k">21</text>
<text x="1050" y="944.8" class="k" text-anchor="end">01</text>
<text x="1053" y="944.8" class="k">22</text>
<text x="1092" y="944.8" class="k" text-anchor="end">04</text>
<text x="1095" y="944.8" class="k">22</text>
<text x="1134" y="944.8" class="k" text-anchor="end">07</text>
<text x="1137" y="944.8" class="k">22</text>
<text x="1177" y="944.8" class="k" text-anchor="end">10</text>
<text x="1180" y="944.8" class="k">22</text>
<text x="1220" y="944.8" class="k" text-anchor="end">01</text>
<text x="1223" y="944.8" class="k">23</text>
<text x="1262" y="944.8" class="k" text-anchor="end">04</text>
<text x="1265" y="944.8" class="k">23</text>
<text x="1305" y="944.8" class="k" text-anchor="end">07</text>
<text x="1308" y="944.8" class="k">23</text>
<text x="1347" y="944.8" class="k" text-anchor="end">10</text>
<text x="1350" y="944.8" class="k">23</text>
<text x="1390" y="944.8" class="k" text-anchor="end">01</text>
<text x="1393" y="944.8" class="k">24</text>
<text x="1432" y="944.8" class="k" text-anchor="end">04</text>
<text x="1435" y="944.8" class="k">24</text>
<text x="1475" y="944.8" class="k" text-anchor="end">07</text>
<text x="1478" y="944.8" class="k">24</text>
<text x="1518" y="944.8" class="k" text-anchor="end">10</text>
<text x="1521" y="944.8" class="k">24</text>
<text x="1561" y="944.8" class="k" text-anchor="end">01</text>
<text x="1564" y="944.8" class="k">25</text>
<text x="1603" y="944.8" class="k" text-anchor="end">04</text>
<text x="1606" y="944.8" class="k">25</text>
<text x="1646" y="944.8" class="k" text-anchor="end">07</text>
<text x="1649" y="944.8" class="k">25</text>
<text x="1689" y="944.8" class="k" text-anchor="end">10</text>
<text x="1692" y="944.8" class="k">25</text>
<text x="1732" y="944.8" class="k" text-anchor="end">01</text>
<text x="1735" y="944.8" class="k">26</text>
<text x="1774" y="944.8" class="k" text-anchor="end">04</text>
<text x="1777" y="944.8" class="k">26</text>
<text x="1826" y="944.8" class="k">-</text>
<rect class="ce" x="5.5" y="844.5" width="68" height="14" fill="#fff" stroke="#000"/>
<text x="7.7" y="856" class="k" textLength="64.3" lengthAdjust="spacingAndGlyphs">TBI(38/200)</text>
<rect class="ce" x="76.5" y="845.5" width="12" height="12" fill="#fff" stroke="#000"/>
<path class="ce" d="M78 851H87M82 847.5V856" stroke="#000" stroke-width="2" fill="none"/>
<text x="7.7" y="871" class="k">TBI</text>
<rect class="ce" x="1906.5" y="17.5" width="9" height="9" fill="#fff" stroke="#c8c8c8"/>
<path class="ce" d="M1909 22.5H1914" stroke="#b0b0b0" fill="none"/>
<path d="M1696 1H1706L1701 6Z" fill="#22cc22"/>
<path class="ce" d="M0 0.5H1916M0.5 0V444M0.5 840V948M1915.5 0V948M0 947.5H1916" stroke="#000" stroke-width="1" fill="none"/>
</svg></body></html>
